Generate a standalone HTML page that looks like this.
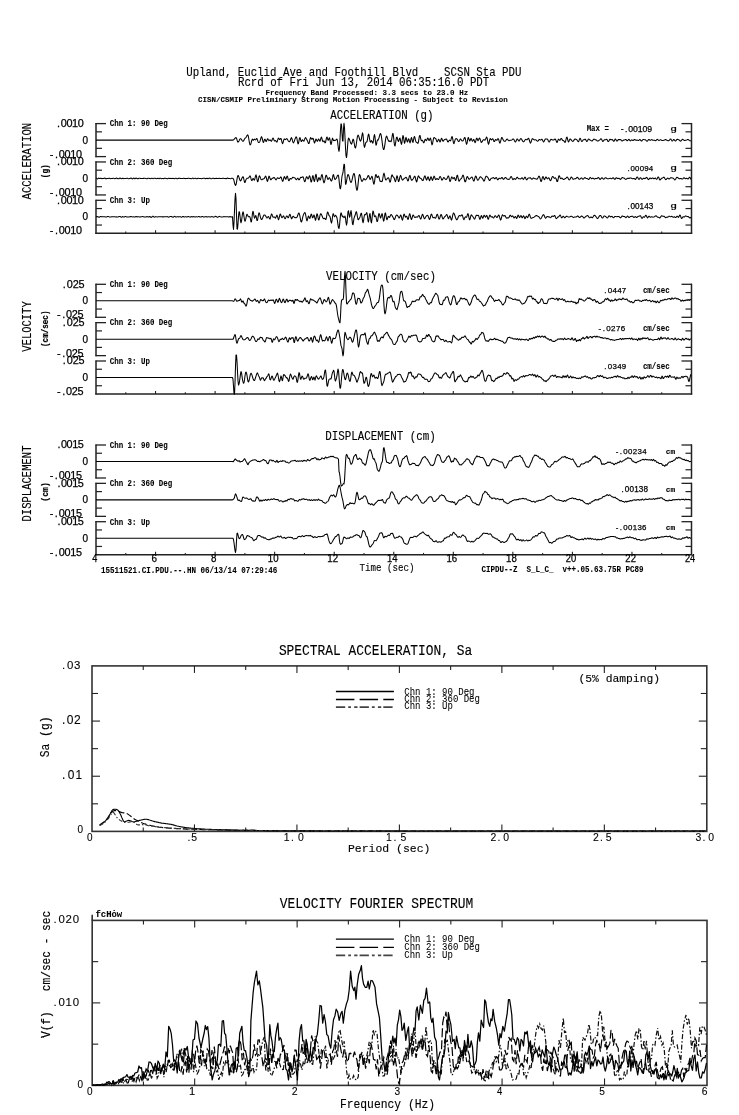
<!DOCTYPE html>
<html><head><meta charset="utf-8"><title>PDU Strong Motion Record</title>
<style>html,body{margin:0;padding:0;background:#fff;overflow:hidden;} svg{display:block;}</style></head>
<body><svg width="739" height="1115" viewBox="0 0 739 1115">
<rect width="739" height="1115" fill="#fff"/>
<text x="186.25" y="76.20" font-family='"Liberation Mono", "DejaVu Sans Mono", monospace' font-weight="normal" font-size="11.97" textLength="335.19" lengthAdjust="spacingAndGlyphs" fill="#000" stroke="#000" stroke-width="0.12" xml:space="preserve">Upland, Euclid Ave and Foothill Blvd    SCSN Sta PDU</text>
<text x="237.94" y="85.70" font-family='"Liberation Mono", "DejaVu Sans Mono", monospace' font-weight="normal" font-size="11.97" textLength="251.31" lengthAdjust="spacingAndGlyphs" fill="#000" stroke="#000" stroke-width="0.12" xml:space="preserve">Rcrd of Fri Jun 13, 2014 06:35:16.0 PDT</text>
<text x="265.50" y="94.60" font-family='"Liberation Mono", "DejaVu Sans Mono", monospace' font-weight="bold" font-size="7.42" textLength="202.65" lengthAdjust="spacingAndGlyphs" fill="#000" stroke="#000" stroke-width="0.08" xml:space="preserve">Frequency Band Processed: 3.3 secs to 23.0 Hz</text>
<text x="198.00" y="102.40" font-family='"Liberation Mono", "DejaVu Sans Mono", monospace' font-weight="bold" font-size="7.46" textLength="309.85" lengthAdjust="spacingAndGlyphs" fill="#000" stroke="#000" stroke-width="0.08" xml:space="preserve">CISN/CSMIP Preliminary Strong Motion Processing - Subject to Revision</text>
<text x="330.30" y="118.60" font-family='"Liberation Mono", "DejaVu Sans Mono", monospace' font-weight="normal" font-size="12.27" textLength="103.19" lengthAdjust="spacingAndGlyphs" fill="#000" stroke="#000" stroke-width="0.12" xml:space="preserve">ACCELERATION (g)</text>
<text transform="translate(31.10,199.50) rotate(-90)" x="0" y="0" font-family='"Liberation Mono", "DejaVu Sans Mono", monospace' font-weight="normal" font-size="13.03" textLength="76.76" lengthAdjust="spacingAndGlyphs" fill="#000" stroke="#000" stroke-width="0.12" xml:space="preserve">ACCELERATION</text>
<text transform="translate(48.00,178.17) rotate(-90)" x="0" y="0" font-family='"Liberation Mono", "DejaVu Sans Mono", monospace' font-weight="bold" font-size="9.66" textLength="13.84" lengthAdjust="spacingAndGlyphs" fill="#000" stroke="#000" stroke-width="0.2" xml:space="preserve">(g)</text>
<line x1="96.00" y1="123.00" x2="96.00" y2="157.20" stroke="#222" stroke-width="1.5" />
<line x1="95.50" y1="123.60" x2="106.00" y2="123.60" stroke="#222" stroke-width="1.3" />
<line x1="96.00" y1="131.85" x2="102.00" y2="131.85" stroke="#222" stroke-width="1.2" />
<line x1="96.00" y1="148.35" x2="102.00" y2="148.35" stroke="#222" stroke-width="1.2" />
<line x1="691.50" y1="123.00" x2="691.50" y2="157.20" stroke="#222" stroke-width="1.5" />
<line x1="692.00" y1="123.60" x2="681.50" y2="123.60" stroke="#222" stroke-width="1.3" />
<line x1="691.50" y1="131.85" x2="685.50" y2="131.85" stroke="#222" stroke-width="1.2" />
<line x1="691.50" y1="148.35" x2="685.50" y2="148.35" stroke="#222" stroke-width="1.2" />
<line x1="95.50" y1="156.60" x2="106.00" y2="156.60" stroke="#222" stroke-width="1.3" />
<line x1="692.00" y1="156.60" x2="681.50" y2="156.60" stroke="#222" stroke-width="1.3" />
<text x="57.03 60.81 66.44 72.09 77.71" y="127.00" font-family='"Liberation Sans", "DejaVu Sans", sans-serif' font-weight="normal" font-size="10.86" fill="#000" stroke="#000" stroke-width="0.25">.0010</text>
<text x="82.40" y="143.50" font-family='"Liberation Sans", "DejaVu Sans", sans-serif' font-weight="normal" font-size="10.43" textLength="5.56" lengthAdjust="spacingAndGlyphs" fill="#000" stroke="#000" stroke-width="0.25" xml:space="preserve">0</text>
<text x="49.86 55.00 58.83 64.51 70.22 75.89" y="157.60" font-family='"Liberation Sans", "DejaVu Sans", sans-serif' font-weight="normal" font-size="10.86" fill="#000" stroke="#000" stroke-width="0.25">-.0010</text>
<text x="109.70" y="126.40" font-family='"Liberation Mono", "DejaVu Sans Mono", monospace' font-weight="bold" font-size="8.96" textLength="58.11" lengthAdjust="spacingAndGlyphs" fill="#000" stroke="#000" stroke-width="0.08" xml:space="preserve">Chn 1: 90 Deg</text>
<line x1="96.00" y1="161.35" x2="96.00" y2="195.55" stroke="#222" stroke-width="1.5" />
<line x1="95.50" y1="161.95" x2="106.00" y2="161.95" stroke="#222" stroke-width="1.3" />
<line x1="96.00" y1="170.20" x2="102.00" y2="170.20" stroke="#222" stroke-width="1.2" />
<line x1="96.00" y1="186.70" x2="102.00" y2="186.70" stroke="#222" stroke-width="1.2" />
<line x1="691.50" y1="161.35" x2="691.50" y2="195.55" stroke="#222" stroke-width="1.5" />
<line x1="692.00" y1="161.95" x2="681.50" y2="161.95" stroke="#222" stroke-width="1.3" />
<line x1="691.50" y1="170.20" x2="685.50" y2="170.20" stroke="#222" stroke-width="1.2" />
<line x1="691.50" y1="186.70" x2="685.50" y2="186.70" stroke="#222" stroke-width="1.2" />
<line x1="95.50" y1="194.95" x2="106.00" y2="194.95" stroke="#222" stroke-width="1.3" />
<line x1="692.00" y1="194.95" x2="681.50" y2="194.95" stroke="#222" stroke-width="1.3" />
<text x="57.03 60.81 66.44 72.09 77.71" y="165.35" font-family='"Liberation Sans", "DejaVu Sans", sans-serif' font-weight="normal" font-size="10.86" fill="#000" stroke="#000" stroke-width="0.25">.0010</text>
<text x="82.40" y="181.85" font-family='"Liberation Sans", "DejaVu Sans", sans-serif' font-weight="normal" font-size="10.43" textLength="5.56" lengthAdjust="spacingAndGlyphs" fill="#000" stroke="#000" stroke-width="0.25" xml:space="preserve">0</text>
<text x="49.86 55.00 58.83 64.51 70.22 75.89" y="195.95" font-family='"Liberation Sans", "DejaVu Sans", sans-serif' font-weight="normal" font-size="10.86" fill="#000" stroke="#000" stroke-width="0.25">-.0010</text>
<text x="109.70" y="164.75" font-family='"Liberation Mono", "DejaVu Sans Mono", monospace' font-weight="bold" font-size="8.96" textLength="62.58" lengthAdjust="spacingAndGlyphs" fill="#000" stroke="#000" stroke-width="0.08" xml:space="preserve">Chn 2: 360 Deg</text>
<line x1="96.00" y1="199.70" x2="96.00" y2="233.90" stroke="#222" stroke-width="1.5" />
<line x1="95.50" y1="200.30" x2="106.00" y2="200.30" stroke="#222" stroke-width="1.3" />
<line x1="96.00" y1="208.55" x2="102.00" y2="208.55" stroke="#222" stroke-width="1.2" />
<line x1="96.00" y1="225.05" x2="102.00" y2="225.05" stroke="#222" stroke-width="1.2" />
<line x1="691.50" y1="199.70" x2="691.50" y2="233.90" stroke="#222" stroke-width="1.5" />
<line x1="692.00" y1="200.30" x2="681.50" y2="200.30" stroke="#222" stroke-width="1.3" />
<line x1="691.50" y1="208.55" x2="685.50" y2="208.55" stroke="#222" stroke-width="1.2" />
<line x1="691.50" y1="225.05" x2="685.50" y2="225.05" stroke="#222" stroke-width="1.2" />
<text x="57.03 60.81 66.44 72.09 77.71" y="203.70" font-family='"Liberation Sans", "DejaVu Sans", sans-serif' font-weight="normal" font-size="10.86" fill="#000" stroke="#000" stroke-width="0.25">.0010</text>
<text x="82.40" y="220.20" font-family='"Liberation Sans", "DejaVu Sans", sans-serif' font-weight="normal" font-size="10.43" textLength="5.56" lengthAdjust="spacingAndGlyphs" fill="#000" stroke="#000" stroke-width="0.25" xml:space="preserve">0</text>
<text x="49.86 55.00 58.83 64.51 70.22 75.89" y="234.30" font-family='"Liberation Sans", "DejaVu Sans", sans-serif' font-weight="normal" font-size="10.86" fill="#000" stroke="#000" stroke-width="0.25">-.0010</text>
<text x="109.70" y="203.10" font-family='"Liberation Mono", "DejaVu Sans Mono", monospace' font-weight="bold" font-size="8.96" textLength="40.23" lengthAdjust="spacingAndGlyphs" fill="#000" stroke="#000" stroke-width="0.08" xml:space="preserve">Chn 3: Up</text>
<line x1="95.30" y1="233.30" x2="692.20" y2="233.30" stroke="#222" stroke-width="1.4" />
<line x1="125.78" y1="233.30" x2="125.78" y2="231.50" stroke="#222" stroke-width="1.1" />
<line x1="155.55" y1="233.30" x2="155.55" y2="230.30" stroke="#222" stroke-width="1.1" />
<line x1="185.32" y1="233.30" x2="185.32" y2="231.50" stroke="#222" stroke-width="1.1" />
<line x1="215.10" y1="233.30" x2="215.10" y2="230.30" stroke="#222" stroke-width="1.1" />
<line x1="244.88" y1="233.30" x2="244.88" y2="231.50" stroke="#222" stroke-width="1.1" />
<line x1="274.65" y1="233.30" x2="274.65" y2="230.30" stroke="#222" stroke-width="1.1" />
<line x1="304.43" y1="233.30" x2="304.43" y2="231.50" stroke="#222" stroke-width="1.1" />
<line x1="334.20" y1="233.30" x2="334.20" y2="230.30" stroke="#222" stroke-width="1.1" />
<line x1="363.98" y1="233.30" x2="363.98" y2="231.50" stroke="#222" stroke-width="1.1" />
<line x1="393.75" y1="233.30" x2="393.75" y2="230.30" stroke="#222" stroke-width="1.1" />
<line x1="423.52" y1="233.30" x2="423.52" y2="231.50" stroke="#222" stroke-width="1.1" />
<line x1="453.30" y1="233.30" x2="453.30" y2="230.30" stroke="#222" stroke-width="1.1" />
<line x1="483.07" y1="233.30" x2="483.07" y2="231.50" stroke="#222" stroke-width="1.1" />
<line x1="512.85" y1="233.30" x2="512.85" y2="230.30" stroke="#222" stroke-width="1.1" />
<line x1="542.62" y1="233.30" x2="542.62" y2="231.50" stroke="#222" stroke-width="1.1" />
<line x1="572.40" y1="233.30" x2="572.40" y2="230.30" stroke="#222" stroke-width="1.1" />
<line x1="602.17" y1="233.30" x2="602.17" y2="231.50" stroke="#222" stroke-width="1.1" />
<line x1="631.95" y1="233.30" x2="631.95" y2="230.30" stroke="#222" stroke-width="1.1" />
<line x1="661.73" y1="233.30" x2="661.73" y2="231.50" stroke="#222" stroke-width="1.1" />
<text x="326.05" y="279.60" font-family='"Liberation Mono", "DejaVu Sans Mono", monospace' font-weight="normal" font-size="12.27" textLength="109.84" lengthAdjust="spacingAndGlyphs" fill="#000" stroke="#000" stroke-width="0.12" xml:space="preserve">VELOCITY (cm/sec)</text>
<text transform="translate(31.10,351.65) rotate(-90)" x="0" y="0" font-family='"Liberation Mono", "DejaVu Sans Mono", monospace' font-weight="normal" font-size="13.03" textLength="50.37" lengthAdjust="spacingAndGlyphs" fill="#000" stroke="#000" stroke-width="0.12" xml:space="preserve">VELOCITY</text>
<text transform="translate(48.00,346.95) rotate(-90)" x="0" y="0" font-family='"Liberation Mono", "DejaVu Sans Mono", monospace' font-weight="bold" font-size="9.66" textLength="36.41" lengthAdjust="spacingAndGlyphs" fill="#000" stroke="#000" stroke-width="0.2" xml:space="preserve">(cm/sec)</text>
<line x1="96.00" y1="283.70" x2="96.00" y2="317.90" stroke="#222" stroke-width="1.5" />
<line x1="95.50" y1="284.30" x2="106.00" y2="284.30" stroke="#222" stroke-width="1.3" />
<line x1="96.00" y1="292.55" x2="102.00" y2="292.55" stroke="#222" stroke-width="1.2" />
<line x1="96.00" y1="309.05" x2="102.00" y2="309.05" stroke="#222" stroke-width="1.2" />
<line x1="691.50" y1="283.70" x2="691.50" y2="317.90" stroke="#222" stroke-width="1.5" />
<line x1="692.00" y1="284.30" x2="681.50" y2="284.30" stroke="#222" stroke-width="1.3" />
<line x1="691.50" y1="292.55" x2="685.50" y2="292.55" stroke="#222" stroke-width="1.2" />
<line x1="691.50" y1="309.05" x2="685.50" y2="309.05" stroke="#222" stroke-width="1.2" />
<line x1="95.50" y1="317.30" x2="106.00" y2="317.30" stroke="#222" stroke-width="1.3" />
<line x1="692.00" y1="317.30" x2="681.50" y2="317.30" stroke="#222" stroke-width="1.3" />
<text x="62.86 66.83 72.70 78.55" y="287.70" font-family='"Liberation Sans", "DejaVu Sans", sans-serif' font-weight="normal" font-size="10.86" fill="#000" stroke="#000" stroke-width="0.25">.025</text>
<text x="82.40" y="304.20" font-family='"Liberation Sans", "DejaVu Sans", sans-serif' font-weight="normal" font-size="10.43" textLength="5.56" lengthAdjust="spacingAndGlyphs" fill="#000" stroke="#000" stroke-width="0.25" xml:space="preserve">0</text>
<text x="57.07 62.25 66.11 71.87 77.60" y="318.30" font-family='"Liberation Sans", "DejaVu Sans", sans-serif' font-weight="normal" font-size="10.86" fill="#000" stroke="#000" stroke-width="0.25">-.025</text>
<text x="109.70" y="287.10" font-family='"Liberation Mono", "DejaVu Sans Mono", monospace' font-weight="bold" font-size="8.96" textLength="58.11" lengthAdjust="spacingAndGlyphs" fill="#000" stroke="#000" stroke-width="0.08" xml:space="preserve">Chn 1: 90 Deg</text>
<line x1="96.00" y1="322.05" x2="96.00" y2="356.25" stroke="#222" stroke-width="1.5" />
<line x1="95.50" y1="322.65" x2="106.00" y2="322.65" stroke="#222" stroke-width="1.3" />
<line x1="96.00" y1="330.90" x2="102.00" y2="330.90" stroke="#222" stroke-width="1.2" />
<line x1="96.00" y1="347.40" x2="102.00" y2="347.40" stroke="#222" stroke-width="1.2" />
<line x1="691.50" y1="322.05" x2="691.50" y2="356.25" stroke="#222" stroke-width="1.5" />
<line x1="692.00" y1="322.65" x2="681.50" y2="322.65" stroke="#222" stroke-width="1.3" />
<line x1="691.50" y1="330.90" x2="685.50" y2="330.90" stroke="#222" stroke-width="1.2" />
<line x1="691.50" y1="347.40" x2="685.50" y2="347.40" stroke="#222" stroke-width="1.2" />
<line x1="95.50" y1="355.65" x2="106.00" y2="355.65" stroke="#222" stroke-width="1.3" />
<line x1="692.00" y1="355.65" x2="681.50" y2="355.65" stroke="#222" stroke-width="1.3" />
<text x="62.86 66.83 72.70 78.55" y="326.05" font-family='"Liberation Sans", "DejaVu Sans", sans-serif' font-weight="normal" font-size="10.86" fill="#000" stroke="#000" stroke-width="0.25">.025</text>
<text x="82.40" y="342.55" font-family='"Liberation Sans", "DejaVu Sans", sans-serif' font-weight="normal" font-size="10.43" textLength="5.56" lengthAdjust="spacingAndGlyphs" fill="#000" stroke="#000" stroke-width="0.25" xml:space="preserve">0</text>
<text x="57.07 62.25 66.11 71.87 77.60" y="356.65" font-family='"Liberation Sans", "DejaVu Sans", sans-serif' font-weight="normal" font-size="10.86" fill="#000" stroke="#000" stroke-width="0.25">-.025</text>
<text x="109.70" y="325.45" font-family='"Liberation Mono", "DejaVu Sans Mono", monospace' font-weight="bold" font-size="8.96" textLength="62.58" lengthAdjust="spacingAndGlyphs" fill="#000" stroke="#000" stroke-width="0.08" xml:space="preserve">Chn 2: 360 Deg</text>
<line x1="96.00" y1="360.40" x2="96.00" y2="394.60" stroke="#222" stroke-width="1.5" />
<line x1="95.50" y1="361.00" x2="106.00" y2="361.00" stroke="#222" stroke-width="1.3" />
<line x1="96.00" y1="369.25" x2="102.00" y2="369.25" stroke="#222" stroke-width="1.2" />
<line x1="96.00" y1="385.75" x2="102.00" y2="385.75" stroke="#222" stroke-width="1.2" />
<line x1="691.50" y1="360.40" x2="691.50" y2="394.60" stroke="#222" stroke-width="1.5" />
<line x1="692.00" y1="361.00" x2="681.50" y2="361.00" stroke="#222" stroke-width="1.3" />
<line x1="691.50" y1="369.25" x2="685.50" y2="369.25" stroke="#222" stroke-width="1.2" />
<line x1="691.50" y1="385.75" x2="685.50" y2="385.75" stroke="#222" stroke-width="1.2" />
<text x="62.86 66.83 72.70 78.55" y="364.40" font-family='"Liberation Sans", "DejaVu Sans", sans-serif' font-weight="normal" font-size="10.86" fill="#000" stroke="#000" stroke-width="0.25">.025</text>
<text x="82.40" y="380.90" font-family='"Liberation Sans", "DejaVu Sans", sans-serif' font-weight="normal" font-size="10.43" textLength="5.56" lengthAdjust="spacingAndGlyphs" fill="#000" stroke="#000" stroke-width="0.25" xml:space="preserve">0</text>
<text x="57.07 62.25 66.11 71.87 77.60" y="395.00" font-family='"Liberation Sans", "DejaVu Sans", sans-serif' font-weight="normal" font-size="10.86" fill="#000" stroke="#000" stroke-width="0.25">-.025</text>
<text x="109.70" y="363.80" font-family='"Liberation Mono", "DejaVu Sans Mono", monospace' font-weight="bold" font-size="8.96" textLength="40.23" lengthAdjust="spacingAndGlyphs" fill="#000" stroke="#000" stroke-width="0.08" xml:space="preserve">Chn 3: Up</text>
<line x1="95.30" y1="394.00" x2="692.20" y2="394.00" stroke="#222" stroke-width="1.4" />
<line x1="125.78" y1="394.00" x2="125.78" y2="392.20" stroke="#222" stroke-width="1.1" />
<line x1="155.55" y1="394.00" x2="155.55" y2="391.00" stroke="#222" stroke-width="1.1" />
<line x1="185.32" y1="394.00" x2="185.32" y2="392.20" stroke="#222" stroke-width="1.1" />
<line x1="215.10" y1="394.00" x2="215.10" y2="391.00" stroke="#222" stroke-width="1.1" />
<line x1="244.88" y1="394.00" x2="244.88" y2="392.20" stroke="#222" stroke-width="1.1" />
<line x1="274.65" y1="394.00" x2="274.65" y2="391.00" stroke="#222" stroke-width="1.1" />
<line x1="304.43" y1="394.00" x2="304.43" y2="392.20" stroke="#222" stroke-width="1.1" />
<line x1="334.20" y1="394.00" x2="334.20" y2="391.00" stroke="#222" stroke-width="1.1" />
<line x1="363.98" y1="394.00" x2="363.98" y2="392.20" stroke="#222" stroke-width="1.1" />
<line x1="393.75" y1="394.00" x2="393.75" y2="391.00" stroke="#222" stroke-width="1.1" />
<line x1="423.52" y1="394.00" x2="423.52" y2="392.20" stroke="#222" stroke-width="1.1" />
<line x1="453.30" y1="394.00" x2="453.30" y2="391.00" stroke="#222" stroke-width="1.1" />
<line x1="483.07" y1="394.00" x2="483.07" y2="392.20" stroke="#222" stroke-width="1.1" />
<line x1="512.85" y1="394.00" x2="512.85" y2="391.00" stroke="#222" stroke-width="1.1" />
<line x1="542.62" y1="394.00" x2="542.62" y2="392.20" stroke="#222" stroke-width="1.1" />
<line x1="572.40" y1="394.00" x2="572.40" y2="391.00" stroke="#222" stroke-width="1.1" />
<line x1="602.17" y1="394.00" x2="602.17" y2="392.20" stroke="#222" stroke-width="1.1" />
<line x1="631.95" y1="394.00" x2="631.95" y2="391.00" stroke="#222" stroke-width="1.1" />
<line x1="661.73" y1="394.00" x2="661.73" y2="392.20" stroke="#222" stroke-width="1.1" />
<text x="325.23" y="440.20" font-family='"Liberation Mono", "DejaVu Sans Mono", monospace' font-weight="normal" font-size="12.27" textLength="110.67" lengthAdjust="spacingAndGlyphs" fill="#000" stroke="#000" stroke-width="0.12" xml:space="preserve">DISPLACEMENT (cm)</text>
<text transform="translate(31.10,521.54) rotate(-90)" x="0" y="0" font-family='"Liberation Mono", "DejaVu Sans Mono", monospace' font-weight="normal" font-size="13.03" textLength="76.02" lengthAdjust="spacingAndGlyphs" fill="#000" stroke="#000" stroke-width="0.12" xml:space="preserve">DISPLACEMENT</text>
<text transform="translate(48.00,501.63) rotate(-90)" x="0" y="0" font-family='"Liberation Mono", "DejaVu Sans Mono", monospace' font-weight="bold" font-size="9.66" textLength="19.36" lengthAdjust="spacingAndGlyphs" fill="#000" stroke="#000" stroke-width="0.2" xml:space="preserve">(cm)</text>
<line x1="96.00" y1="444.40" x2="96.00" y2="478.60" stroke="#222" stroke-width="1.5" />
<line x1="95.50" y1="445.00" x2="106.00" y2="445.00" stroke="#222" stroke-width="1.3" />
<line x1="96.00" y1="453.25" x2="102.00" y2="453.25" stroke="#222" stroke-width="1.2" />
<line x1="96.00" y1="469.75" x2="102.00" y2="469.75" stroke="#222" stroke-width="1.2" />
<line x1="691.50" y1="444.40" x2="691.50" y2="478.60" stroke="#222" stroke-width="1.5" />
<line x1="692.00" y1="445.00" x2="681.50" y2="445.00" stroke="#222" stroke-width="1.3" />
<line x1="691.50" y1="453.25" x2="685.50" y2="453.25" stroke="#222" stroke-width="1.2" />
<line x1="691.50" y1="469.75" x2="685.50" y2="469.75" stroke="#222" stroke-width="1.2" />
<line x1="95.50" y1="478.00" x2="106.00" y2="478.00" stroke="#222" stroke-width="1.3" />
<line x1="692.00" y1="478.00" x2="681.50" y2="478.00" stroke="#222" stroke-width="1.3" />
<text x="57.42 61.09 66.61 72.15 77.69" y="448.40" font-family='"Liberation Sans", "DejaVu Sans", sans-serif' font-weight="normal" font-size="10.86" fill="#000" stroke="#000" stroke-width="0.25">.0015</text>
<text x="82.40" y="464.90" font-family='"Liberation Sans", "DejaVu Sans", sans-serif' font-weight="normal" font-size="10.43" textLength="5.56" lengthAdjust="spacingAndGlyphs" fill="#000" stroke="#000" stroke-width="0.25" xml:space="preserve">0</text>
<text x="49.67 54.84 58.70 64.43 70.17 75.90" y="479.00" font-family='"Liberation Sans", "DejaVu Sans", sans-serif' font-weight="normal" font-size="10.86" fill="#000" stroke="#000" stroke-width="0.25">-.0015</text>
<text x="109.70" y="447.80" font-family='"Liberation Mono", "DejaVu Sans Mono", monospace' font-weight="bold" font-size="8.96" textLength="58.11" lengthAdjust="spacingAndGlyphs" fill="#000" stroke="#000" stroke-width="0.08" xml:space="preserve">Chn 1: 90 Deg</text>
<line x1="96.00" y1="482.75" x2="96.00" y2="516.95" stroke="#222" stroke-width="1.5" />
<line x1="95.50" y1="483.35" x2="106.00" y2="483.35" stroke="#222" stroke-width="1.3" />
<line x1="96.00" y1="491.60" x2="102.00" y2="491.60" stroke="#222" stroke-width="1.2" />
<line x1="96.00" y1="508.10" x2="102.00" y2="508.10" stroke="#222" stroke-width="1.2" />
<line x1="691.50" y1="482.75" x2="691.50" y2="516.95" stroke="#222" stroke-width="1.5" />
<line x1="692.00" y1="483.35" x2="681.50" y2="483.35" stroke="#222" stroke-width="1.3" />
<line x1="691.50" y1="491.60" x2="685.50" y2="491.60" stroke="#222" stroke-width="1.2" />
<line x1="691.50" y1="508.10" x2="685.50" y2="508.10" stroke="#222" stroke-width="1.2" />
<line x1="95.50" y1="516.35" x2="106.00" y2="516.35" stroke="#222" stroke-width="1.3" />
<line x1="692.00" y1="516.35" x2="681.50" y2="516.35" stroke="#222" stroke-width="1.3" />
<text x="57.42 61.09 66.61 72.15 77.69" y="486.75" font-family='"Liberation Sans", "DejaVu Sans", sans-serif' font-weight="normal" font-size="10.86" fill="#000" stroke="#000" stroke-width="0.25">.0015</text>
<text x="82.40" y="503.25" font-family='"Liberation Sans", "DejaVu Sans", sans-serif' font-weight="normal" font-size="10.43" textLength="5.56" lengthAdjust="spacingAndGlyphs" fill="#000" stroke="#000" stroke-width="0.25" xml:space="preserve">0</text>
<text x="49.67 54.84 58.70 64.43 70.17 75.90" y="517.35" font-family='"Liberation Sans", "DejaVu Sans", sans-serif' font-weight="normal" font-size="10.86" fill="#000" stroke="#000" stroke-width="0.25">-.0015</text>
<text x="109.70" y="486.15" font-family='"Liberation Mono", "DejaVu Sans Mono", monospace' font-weight="bold" font-size="8.96" textLength="62.58" lengthAdjust="spacingAndGlyphs" fill="#000" stroke="#000" stroke-width="0.08" xml:space="preserve">Chn 2: 360 Deg</text>
<line x1="96.00" y1="521.10" x2="96.00" y2="555.30" stroke="#222" stroke-width="1.5" />
<line x1="95.50" y1="521.70" x2="106.00" y2="521.70" stroke="#222" stroke-width="1.3" />
<line x1="96.00" y1="529.95" x2="102.00" y2="529.95" stroke="#222" stroke-width="1.2" />
<line x1="96.00" y1="546.45" x2="102.00" y2="546.45" stroke="#222" stroke-width="1.2" />
<line x1="691.50" y1="521.10" x2="691.50" y2="555.30" stroke="#222" stroke-width="1.5" />
<line x1="692.00" y1="521.70" x2="681.50" y2="521.70" stroke="#222" stroke-width="1.3" />
<line x1="691.50" y1="529.95" x2="685.50" y2="529.95" stroke="#222" stroke-width="1.2" />
<line x1="691.50" y1="546.45" x2="685.50" y2="546.45" stroke="#222" stroke-width="1.2" />
<text x="57.42 61.09 66.61 72.15 77.69" y="525.10" font-family='"Liberation Sans", "DejaVu Sans", sans-serif' font-weight="normal" font-size="10.86" fill="#000" stroke="#000" stroke-width="0.25">.0015</text>
<text x="82.40" y="541.60" font-family='"Liberation Sans", "DejaVu Sans", sans-serif' font-weight="normal" font-size="10.43" textLength="5.56" lengthAdjust="spacingAndGlyphs" fill="#000" stroke="#000" stroke-width="0.25" xml:space="preserve">0</text>
<text x="49.67 54.84 58.70 64.43 70.17 75.90" y="555.70" font-family='"Liberation Sans", "DejaVu Sans", sans-serif' font-weight="normal" font-size="10.86" fill="#000" stroke="#000" stroke-width="0.25">-.0015</text>
<text x="109.70" y="524.50" font-family='"Liberation Mono", "DejaVu Sans Mono", monospace' font-weight="bold" font-size="8.96" textLength="40.23" lengthAdjust="spacingAndGlyphs" fill="#000" stroke="#000" stroke-width="0.08" xml:space="preserve">Chn 3: Up</text>
<line x1="95.30" y1="554.70" x2="692.20" y2="554.70" stroke="#222" stroke-width="1.4" />
<line x1="125.78" y1="554.70" x2="125.78" y2="552.90" stroke="#222" stroke-width="1.1" />
<line x1="155.55" y1="554.70" x2="155.55" y2="551.70" stroke="#222" stroke-width="1.1" />
<line x1="185.32" y1="554.70" x2="185.32" y2="552.90" stroke="#222" stroke-width="1.1" />
<line x1="215.10" y1="554.70" x2="215.10" y2="551.70" stroke="#222" stroke-width="1.1" />
<line x1="244.88" y1="554.70" x2="244.88" y2="552.90" stroke="#222" stroke-width="1.1" />
<line x1="274.65" y1="554.70" x2="274.65" y2="551.70" stroke="#222" stroke-width="1.1" />
<line x1="304.43" y1="554.70" x2="304.43" y2="552.90" stroke="#222" stroke-width="1.1" />
<line x1="334.20" y1="554.70" x2="334.20" y2="551.70" stroke="#222" stroke-width="1.1" />
<line x1="363.98" y1="554.70" x2="363.98" y2="552.90" stroke="#222" stroke-width="1.1" />
<line x1="393.75" y1="554.70" x2="393.75" y2="551.70" stroke="#222" stroke-width="1.1" />
<line x1="423.52" y1="554.70" x2="423.52" y2="552.90" stroke="#222" stroke-width="1.1" />
<line x1="453.30" y1="554.70" x2="453.30" y2="551.70" stroke="#222" stroke-width="1.1" />
<line x1="483.07" y1="554.70" x2="483.07" y2="552.90" stroke="#222" stroke-width="1.1" />
<line x1="512.85" y1="554.70" x2="512.85" y2="551.70" stroke="#222" stroke-width="1.1" />
<line x1="542.62" y1="554.70" x2="542.62" y2="552.90" stroke="#222" stroke-width="1.1" />
<line x1="572.40" y1="554.70" x2="572.40" y2="551.70" stroke="#222" stroke-width="1.1" />
<line x1="602.17" y1="554.70" x2="602.17" y2="552.90" stroke="#222" stroke-width="1.1" />
<line x1="631.95" y1="554.70" x2="631.95" y2="551.70" stroke="#222" stroke-width="1.1" />
<line x1="661.73" y1="554.70" x2="661.73" y2="552.90" stroke="#222" stroke-width="1.1" />
<text x="586.63" y="131.30" font-family='"Liberation Mono", "DejaVu Sans Mono", monospace' font-weight="bold" font-size="8.94" textLength="22.35" lengthAdjust="spacingAndGlyphs" fill="#000" stroke="#000" stroke-width="0.08" xml:space="preserve">Max =</text>
<text x="620.79 625.07 628.31 633.05 637.81 642.54 647.31" y="131.50" font-family='"Liberation Sans", "DejaVu Sans", sans-serif' font-weight="normal" font-size="8.71" fill="#000" stroke="#000" stroke-width="0.25">-.00109</text>
<text x="627.42 630.58 635.12 639.65 644.20 648.77" y="170.60" font-family='"Liberation Sans", "DejaVu Sans", sans-serif' font-weight="normal" font-size="7.86" fill="#000" stroke="#000" stroke-width="0.25">.00094</text>
<text x="627.38 630.50 635.04 639.59 644.16 648.65" y="208.60" font-family='"Liberation Sans", "DejaVu Sans", sans-serif' font-weight="normal" font-size="8.14" fill="#000" stroke="#000" stroke-width="0.25">.00143</text>
<text x="604.32 607.64 612.42 617.14 621.81" y="292.70" font-family='"Liberation Sans", "DejaVu Sans", sans-serif' font-weight="normal" font-size="8.00" fill="#000" stroke="#000" stroke-width="0.25">.0447</text>
<text x="598.53 602.86 606.28 611.12 615.95 620.73" y="331.00" font-family='"Liberation Sans", "DejaVu Sans", sans-serif' font-weight="normal" font-size="8.00" fill="#000" stroke="#000" stroke-width="0.25">-.0276</text>
<text x="604.34 607.68 612.42 617.18 621.85" y="369.30" font-family='"Liberation Sans", "DejaVu Sans", sans-serif' font-weight="normal" font-size="7.86" fill="#000" stroke="#000" stroke-width="0.25">.0349</text>
<text x="615.63 619.87 623.21 627.94 632.69 637.42 642.19" y="453.70" font-family='"Liberation Sans", "DejaVu Sans", sans-serif' font-weight="normal" font-size="7.86" fill="#000" stroke="#000" stroke-width="0.25">-.00234</text>
<text x="621.40 624.70 629.41 634.15 638.86 643.56" y="491.80" font-family='"Liberation Sans", "DejaVu Sans", sans-serif' font-weight="normal" font-size="8.14" fill="#000" stroke="#000" stroke-width="0.25">.00138</text>
<text x="615.63 619.87 623.21 627.94 632.70 637.42 642.11" y="530.00" font-family='"Liberation Sans", "DejaVu Sans", sans-serif' font-weight="normal" font-size="7.86" fill="#000" stroke="#000" stroke-width="0.25">-.00136</text>
<text x="670.21" y="131.30" font-family='"Liberation Mono", "DejaVu Sans Mono", monospace' font-weight="normal" font-size="7.55" textLength="6.74" lengthAdjust="spacingAndGlyphs" fill="#000" stroke="#000" stroke-width="0.2" xml:space="preserve">g</text>
<text x="670.21" y="170.40" font-family='"Liberation Mono", "DejaVu Sans Mono", monospace' font-weight="normal" font-size="7.55" textLength="6.74" lengthAdjust="spacingAndGlyphs" fill="#000" stroke="#000" stroke-width="0.2" xml:space="preserve">g</text>
<text x="670.21" y="208.40" font-family='"Liberation Mono", "DejaVu Sans Mono", monospace' font-weight="normal" font-size="7.55" textLength="6.74" lengthAdjust="spacingAndGlyphs" fill="#000" stroke="#000" stroke-width="0.2" xml:space="preserve">g</text>
<text x="642.89" y="292.60" font-family='"Liberation Mono", "DejaVu Sans Mono", monospace' font-weight="bold" font-size="8.14" textLength="26.82" lengthAdjust="spacingAndGlyphs" fill="#000" stroke="#000" stroke-width="0.08" xml:space="preserve">cm/sec</text>
<text x="642.89" y="330.90" font-family='"Liberation Mono", "DejaVu Sans Mono", monospace' font-weight="bold" font-size="8.14" textLength="26.82" lengthAdjust="spacingAndGlyphs" fill="#000" stroke="#000" stroke-width="0.08" xml:space="preserve">cm/sec</text>
<text x="642.89" y="369.20" font-family='"Liberation Mono", "DejaVu Sans Mono", monospace' font-weight="bold" font-size="8.14" textLength="26.82" lengthAdjust="spacingAndGlyphs" fill="#000" stroke="#000" stroke-width="0.08" xml:space="preserve">cm/sec</text>
<text x="665.77" y="453.70" font-family='"Liberation Mono", "DejaVu Sans Mono", monospace' font-weight="bold" font-size="7.55" textLength="9.30" lengthAdjust="spacingAndGlyphs" fill="#000" stroke="#000" stroke-width="0.08" xml:space="preserve">cm</text>
<text x="665.77" y="491.80" font-family='"Liberation Mono", "DejaVu Sans Mono", monospace' font-weight="bold" font-size="7.55" textLength="9.30" lengthAdjust="spacingAndGlyphs" fill="#000" stroke="#000" stroke-width="0.08" xml:space="preserve">cm</text>
<text x="665.77" y="530.00" font-family='"Liberation Mono", "DejaVu Sans Mono", monospace' font-weight="bold" font-size="7.55" textLength="9.30" lengthAdjust="spacingAndGlyphs" fill="#000" stroke="#000" stroke-width="0.08" xml:space="preserve">cm</text>
<text x="92.22" y="562.40" font-family='"Liberation Sans", "DejaVu Sans", sans-serif' font-weight="normal" font-size="10.00" textLength="5.07" lengthAdjust="spacingAndGlyphs" fill="#000" stroke="#000" stroke-width="0.25" xml:space="preserve">4</text>
<text x="151.46" y="562.40" font-family='"Liberation Sans", "DejaVu Sans", sans-serif' font-weight="normal" font-size="10.00" textLength="5.50" lengthAdjust="spacingAndGlyphs" fill="#000" stroke="#000" stroke-width="0.25" xml:space="preserve">6</text>
<text x="211.06" y="562.40" font-family='"Liberation Sans", "DejaVu Sans", sans-serif' font-weight="normal" font-size="10.00" textLength="5.44" lengthAdjust="spacingAndGlyphs" fill="#000" stroke="#000" stroke-width="0.25" xml:space="preserve">8</text>
<text x="267.83" y="562.40" font-family='"Liberation Sans", "DejaVu Sans", sans-serif' font-weight="normal" font-size="10.00" textLength="10.68" lengthAdjust="spacingAndGlyphs" fill="#000" stroke="#000" stroke-width="0.25" xml:space="preserve">10</text>
<text x="327.37" y="562.40" font-family='"Liberation Sans", "DejaVu Sans", sans-serif' font-weight="normal" font-size="10.00" textLength="10.84" lengthAdjust="spacingAndGlyphs" fill="#000" stroke="#000" stroke-width="0.25" xml:space="preserve">12</text>
<text x="386.93" y="562.40" font-family='"Liberation Sans", "DejaVu Sans", sans-serif' font-weight="normal" font-size="10.00" textLength="10.63" lengthAdjust="spacingAndGlyphs" fill="#000" stroke="#000" stroke-width="0.25" xml:space="preserve">14</text>
<text x="446.48" y="562.40" font-family='"Liberation Sans", "DejaVu Sans", sans-serif' font-weight="normal" font-size="10.00" textLength="10.73" lengthAdjust="spacingAndGlyphs" fill="#000" stroke="#000" stroke-width="0.25" xml:space="preserve">16</text>
<text x="506.03" y="562.40" font-family='"Liberation Sans", "DejaVu Sans", sans-serif' font-weight="normal" font-size="10.00" textLength="10.73" lengthAdjust="spacingAndGlyphs" fill="#000" stroke="#000" stroke-width="0.25" xml:space="preserve">18</text>
<text x="565.83" y="562.40" font-family='"Liberation Sans", "DejaVu Sans", sans-serif' font-weight="normal" font-size="10.00" textLength="10.42" lengthAdjust="spacingAndGlyphs" fill="#000" stroke="#000" stroke-width="0.25" xml:space="preserve">20</text>
<text x="625.37" y="562.40" font-family='"Liberation Sans", "DejaVu Sans", sans-serif' font-weight="normal" font-size="10.00" textLength="10.57" lengthAdjust="spacingAndGlyphs" fill="#000" stroke="#000" stroke-width="0.25" xml:space="preserve">22</text>
<text x="684.93" y="562.40" font-family='"Liberation Sans", "DejaVu Sans", sans-serif' font-weight="normal" font-size="10.00" textLength="10.37" lengthAdjust="spacingAndGlyphs" fill="#000" stroke="#000" stroke-width="0.25" xml:space="preserve">24</text>
<text x="359.58" y="571.00" font-family='"Liberation Mono", "DejaVu Sans Mono", monospace' font-weight="normal" font-size="11.21" textLength="54.83" lengthAdjust="spacingAndGlyphs" fill="#000" stroke="#000" stroke-width="0.12" xml:space="preserve">Time (sec)</text>
<text x="100.91" y="572.60" font-family='"Liberation Mono", "DejaVu Sans Mono", monospace' font-weight="bold" font-size="8.94" textLength="176.49" lengthAdjust="spacingAndGlyphs" fill="#000" stroke="#000" stroke-width="0.08" xml:space="preserve">15511521.CI.PDU.--.HN 06/13/14 07:29:46</text>
<text x="481.50" y="572.40" font-family='"Liberation Mono", "DejaVu Sans Mono", monospace' font-weight="bold" font-size="8.66" textLength="161.93" lengthAdjust="spacingAndGlyphs" fill="#000" stroke="#000" stroke-width="0.08" xml:space="preserve">CIPDU--Z  S_L_C_  v++.05.63.75R PC89</text>
<text x="278.88" y="655.10" font-family='"Liberation Mono", "DejaVu Sans Mono", monospace' font-weight="normal" font-size="14.24" textLength="193.39" lengthAdjust="spacingAndGlyphs" fill="#000" stroke="#000" stroke-width="0.12" xml:space="preserve">SPECTRAL ACCELERATION, Sa</text>
<rect x="92.0" y="665.9" width="614.80" height="165.50" fill="none" stroke="#333" stroke-width="1.6"/>
<line x1="143.23" y1="665.90" x2="143.23" y2="669.90" stroke="#222" stroke-width="1.1" />
<line x1="143.23" y1="831.40" x2="143.23" y2="827.40" stroke="#222" stroke-width="1.1" />
<line x1="194.47" y1="665.90" x2="194.47" y2="672.90" stroke="#222" stroke-width="1.1" />
<line x1="194.47" y1="831.40" x2="194.47" y2="824.40" stroke="#222" stroke-width="1.1" />
<line x1="245.70" y1="665.90" x2="245.70" y2="669.90" stroke="#222" stroke-width="1.1" />
<line x1="245.70" y1="831.40" x2="245.70" y2="827.40" stroke="#222" stroke-width="1.1" />
<line x1="296.93" y1="665.90" x2="296.93" y2="672.90" stroke="#222" stroke-width="1.1" />
<line x1="296.93" y1="831.40" x2="296.93" y2="824.40" stroke="#222" stroke-width="1.1" />
<line x1="348.17" y1="665.90" x2="348.17" y2="669.90" stroke="#222" stroke-width="1.1" />
<line x1="348.17" y1="831.40" x2="348.17" y2="827.40" stroke="#222" stroke-width="1.1" />
<line x1="399.40" y1="665.90" x2="399.40" y2="672.90" stroke="#222" stroke-width="1.1" />
<line x1="399.40" y1="831.40" x2="399.40" y2="824.40" stroke="#222" stroke-width="1.1" />
<line x1="450.63" y1="665.90" x2="450.63" y2="669.90" stroke="#222" stroke-width="1.1" />
<line x1="450.63" y1="831.40" x2="450.63" y2="827.40" stroke="#222" stroke-width="1.1" />
<line x1="501.87" y1="665.90" x2="501.87" y2="672.90" stroke="#222" stroke-width="1.1" />
<line x1="501.87" y1="831.40" x2="501.87" y2="824.40" stroke="#222" stroke-width="1.1" />
<line x1="553.10" y1="665.90" x2="553.10" y2="669.90" stroke="#222" stroke-width="1.1" />
<line x1="553.10" y1="831.40" x2="553.10" y2="827.40" stroke="#222" stroke-width="1.1" />
<line x1="604.33" y1="665.90" x2="604.33" y2="672.90" stroke="#222" stroke-width="1.1" />
<line x1="604.33" y1="831.40" x2="604.33" y2="824.40" stroke="#222" stroke-width="1.1" />
<line x1="655.57" y1="665.90" x2="655.57" y2="669.90" stroke="#222" stroke-width="1.1" />
<line x1="655.57" y1="831.40" x2="655.57" y2="827.40" stroke="#222" stroke-width="1.1" />
<line x1="92.00" y1="803.82" x2="98.00" y2="803.82" stroke="#222" stroke-width="1.1" />
<line x1="706.80" y1="803.82" x2="700.80" y2="803.82" stroke="#222" stroke-width="1.1" />
<line x1="92.00" y1="776.23" x2="100.00" y2="776.23" stroke="#222" stroke-width="1.1" />
<line x1="706.80" y1="776.23" x2="698.80" y2="776.23" stroke="#222" stroke-width="1.1" />
<line x1="92.00" y1="748.65" x2="98.00" y2="748.65" stroke="#222" stroke-width="1.1" />
<line x1="706.80" y1="748.65" x2="700.80" y2="748.65" stroke="#222" stroke-width="1.1" />
<line x1="92.00" y1="721.07" x2="100.00" y2="721.07" stroke="#222" stroke-width="1.1" />
<line x1="706.80" y1="721.07" x2="698.80" y2="721.07" stroke="#222" stroke-width="1.1" />
<line x1="92.00" y1="693.48" x2="98.00" y2="693.48" stroke="#222" stroke-width="1.1" />
<line x1="706.80" y1="693.48" x2="700.80" y2="693.48" stroke="#222" stroke-width="1.1" />
<text x="62.01 67.03 74.10" y="668.50" font-family='"Liberation Sans", "DejaVu Sans", sans-serif' font-weight="normal" font-size="11.43" fill="#000" stroke="#000" stroke-width="0.1">.03</text>
<text x="61.93 66.87 73.94" y="723.60" font-family='"Liberation Sans", "DejaVu Sans", sans-serif' font-weight="normal" font-size="12.00" fill="#000" stroke="#000" stroke-width="0.1">.02</text>
<text x="62.03 67.70 75.54" y="778.80" font-family='"Liberation Sans", "DejaVu Sans", sans-serif' font-weight="normal" font-size="11.86" fill="#000" stroke="#000" stroke-width="0.1">.01</text>
<text x="77.50" y="833.20" font-family='"Liberation Sans", "DejaVu Sans", sans-serif' font-weight="normal" font-size="10.86" textLength="5.56" lengthAdjust="spacingAndGlyphs" fill="#000" stroke="#000" stroke-width="0.1" xml:space="preserve">0</text>
<text x="87.00" y="841.20" font-family='"Liberation Sans", "DejaVu Sans", sans-serif' font-weight="normal" font-size="10.86" textLength="5.56" lengthAdjust="spacingAndGlyphs" fill="#000" stroke="#000" stroke-width="0.1" xml:space="preserve">0</text>
<text x="187.55 191.35" y="841.20" font-family='"Liberation Sans", "DejaVu Sans", sans-serif' font-weight="normal" font-size="10.43" fill="#000" stroke="#000" stroke-width="0.1">.5</text>
<text x="283.63 291.12 297.95" y="841.20" font-family='"Liberation Sans", "DejaVu Sans", sans-serif' font-weight="normal" font-size="10.43" fill="#000" stroke="#000" stroke-width="0.1">1.0</text>
<text x="386.09 393.59 400.44" y="841.20" font-family='"Liberation Sans", "DejaVu Sans", sans-serif' font-weight="normal" font-size="10.43" fill="#000" stroke="#000" stroke-width="0.1">1.5</text>
<text x="490.61 497.46 503.31" y="841.20" font-family='"Liberation Sans", "DejaVu Sans", sans-serif' font-weight="normal" font-size="10.43" fill="#000" stroke="#000" stroke-width="0.1">2.0</text>
<text x="593.08 599.93 605.80" y="841.20" font-family='"Liberation Sans", "DejaVu Sans", sans-serif' font-weight="normal" font-size="10.43" fill="#000" stroke="#000" stroke-width="0.1">2.5</text>
<text x="695.54 702.40 708.24" y="841.20" font-family='"Liberation Sans", "DejaVu Sans", sans-serif' font-weight="normal" font-size="10.43" fill="#000" stroke="#000" stroke-width="0.1">3.0</text>
<text x="347.98" y="851.80" font-family='"Liberation Mono", "DejaVu Sans Mono", monospace' font-weight="normal" font-size="11.52" textLength="82.41" lengthAdjust="spacingAndGlyphs" fill="#000" stroke="#000" stroke-width="0.12" xml:space="preserve">Period (sec)</text>
<text transform="translate(48.60,757.25) rotate(-90)" x="0" y="0" font-family='"Liberation Mono", "DejaVu Sans Mono", monospace' font-weight="normal" font-size="12.09" textLength="40.72" lengthAdjust="spacingAndGlyphs" fill="#000" stroke="#000" stroke-width="0.15" xml:space="preserve">Sa (g)</text>
<text x="578.43" y="682.00" font-family='"Liberation Mono", "DejaVu Sans Mono", monospace' font-weight="normal" font-size="11.36" textLength="81.65" lengthAdjust="spacingAndGlyphs" fill="#000" stroke="#000" stroke-width="0.12" xml:space="preserve">(5% damping)</text>
<line x1="335.90" y1="691.50" x2="393.90" y2="691.50" stroke="#000" stroke-width="1.3" />
<line x1="335.90" y1="699.50" x2="393.90" y2="699.50" stroke="#000" stroke-width="1.3" stroke-dasharray="18.5 5.2"/>
<line x1="335.90" y1="707.10" x2="393.90" y2="707.10" stroke="#444" stroke-width="1.6" stroke-dasharray="9.3 3 2.8 3.2 3.3 2.1"/>
<text x="404.31" y="694.50" font-family='"Liberation Mono", "DejaVu Sans Mono", monospace' font-weight="normal" font-size="10.60" textLength="70.20" lengthAdjust="spacingAndGlyphs" fill="#000" stroke="#000" stroke-width="0.05" xml:space="preserve">Chn 1: 90 Deg</text>
<text x="404.31" y="701.90" font-family='"Liberation Mono", "DejaVu Sans Mono", monospace' font-weight="normal" font-size="10.60" textLength="75.60" lengthAdjust="spacingAndGlyphs" fill="#000" stroke="#000" stroke-width="0.05" xml:space="preserve">Chn 2: 360 Deg</text>
<text x="404.31" y="709.20" font-family='"Liberation Mono", "DejaVu Sans Mono", monospace' font-weight="normal" font-size="10.60" textLength="48.60" lengthAdjust="spacingAndGlyphs" fill="#000" stroke="#000" stroke-width="0.05" xml:space="preserve">Chn 3: Up</text>
<text x="279.74" y="907.90" font-family='"Liberation Mono", "DejaVu Sans Mono", monospace' font-weight="normal" font-size="14.55" textLength="193.53" lengthAdjust="spacingAndGlyphs" fill="#000" stroke="#000" stroke-width="0.12" xml:space="preserve">VELOCITY FOURIER SPECTRUM</text>
<rect x="92.2" y="920.4" width="614.80" height="165.00" fill="none" stroke="#333" stroke-width="1.6"/>
<line x1="143.43" y1="920.40" x2="143.43" y2="924.40" stroke="#222" stroke-width="1.1" />
<line x1="143.43" y1="1085.40" x2="143.43" y2="1081.40" stroke="#222" stroke-width="1.1" />
<line x1="194.67" y1="920.40" x2="194.67" y2="927.40" stroke="#222" stroke-width="1.1" />
<line x1="194.67" y1="1085.40" x2="194.67" y2="1078.40" stroke="#222" stroke-width="1.1" />
<line x1="245.90" y1="920.40" x2="245.90" y2="924.40" stroke="#222" stroke-width="1.1" />
<line x1="245.90" y1="1085.40" x2="245.90" y2="1081.40" stroke="#222" stroke-width="1.1" />
<line x1="297.13" y1="920.40" x2="297.13" y2="927.40" stroke="#222" stroke-width="1.1" />
<line x1="297.13" y1="1085.40" x2="297.13" y2="1078.40" stroke="#222" stroke-width="1.1" />
<line x1="348.37" y1="920.40" x2="348.37" y2="924.40" stroke="#222" stroke-width="1.1" />
<line x1="348.37" y1="1085.40" x2="348.37" y2="1081.40" stroke="#222" stroke-width="1.1" />
<line x1="399.60" y1="920.40" x2="399.60" y2="927.40" stroke="#222" stroke-width="1.1" />
<line x1="399.60" y1="1085.40" x2="399.60" y2="1078.40" stroke="#222" stroke-width="1.1" />
<line x1="450.83" y1="920.40" x2="450.83" y2="924.40" stroke="#222" stroke-width="1.1" />
<line x1="450.83" y1="1085.40" x2="450.83" y2="1081.40" stroke="#222" stroke-width="1.1" />
<line x1="502.07" y1="920.40" x2="502.07" y2="927.40" stroke="#222" stroke-width="1.1" />
<line x1="502.07" y1="1085.40" x2="502.07" y2="1078.40" stroke="#222" stroke-width="1.1" />
<line x1="553.30" y1="920.40" x2="553.30" y2="924.40" stroke="#222" stroke-width="1.1" />
<line x1="553.30" y1="1085.40" x2="553.30" y2="1081.40" stroke="#222" stroke-width="1.1" />
<line x1="604.53" y1="920.40" x2="604.53" y2="927.40" stroke="#222" stroke-width="1.1" />
<line x1="604.53" y1="1085.40" x2="604.53" y2="1078.40" stroke="#222" stroke-width="1.1" />
<line x1="655.77" y1="920.40" x2="655.77" y2="924.40" stroke="#222" stroke-width="1.1" />
<line x1="655.77" y1="1085.40" x2="655.77" y2="1081.40" stroke="#222" stroke-width="1.1" />
<line x1="92.20" y1="1044.15" x2="98.20" y2="1044.15" stroke="#222" stroke-width="1.1" />
<line x1="707.00" y1="1044.15" x2="701.00" y2="1044.15" stroke="#222" stroke-width="1.1" />
<line x1="92.20" y1="1002.90" x2="100.20" y2="1002.90" stroke="#222" stroke-width="1.1" />
<line x1="707.00" y1="1002.90" x2="699.00" y2="1002.90" stroke="#222" stroke-width="1.1" />
<line x1="92.20" y1="961.65" x2="98.20" y2="961.65" stroke="#222" stroke-width="1.1" />
<line x1="707.00" y1="961.65" x2="701.00" y2="961.65" stroke="#222" stroke-width="1.1" />
<line x1="92.20" y1="914.80" x2="92.20" y2="920.40" stroke="#333" stroke-width="1.6" />
<text x="95.41" y="916.50" font-family='"Liberation Mono", "DejaVu Sans Mono", monospace' font-weight="bold" font-size="9.55" textLength="26.84" lengthAdjust="spacingAndGlyphs" fill="#000" stroke="#000" stroke-width="0.08" xml:space="preserve">fcHȯw</text>
<text x="53.42 58.48 65.59 72.65" y="922.70" font-family='"Liberation Sans", "DejaVu Sans", sans-serif' font-weight="normal" font-size="11.43" fill="#000" stroke="#000" stroke-width="0.1">.020</text>
<text x="53.42 58.48 65.61 72.65" y="1006.30" font-family='"Liberation Sans", "DejaVu Sans", sans-serif' font-weight="normal" font-size="11.43" fill="#000" stroke="#000" stroke-width="0.1">.010</text>
<text x="77.40" y="1087.80" font-family='"Liberation Sans", "DejaVu Sans", sans-serif' font-weight="normal" font-size="10.86" textLength="5.56" lengthAdjust="spacingAndGlyphs" fill="#000" stroke="#000" stroke-width="0.1" xml:space="preserve">0</text>
<text x="87.00" y="1095.40" font-family='"Liberation Sans", "DejaVu Sans", sans-serif' font-weight="normal" font-size="11.14" textLength="5.56" lengthAdjust="spacingAndGlyphs" fill="#000" stroke="#000" stroke-width="0.1" xml:space="preserve">0</text>
<text x="189.04" y="1095.40" font-family='"Liberation Sans", "DejaVu Sans", sans-serif' font-weight="normal" font-size="11.14" textLength="6.14" lengthAdjust="spacingAndGlyphs" fill="#000" stroke="#000" stroke-width="0.1" xml:space="preserve">1</text>
<text x="291.81" y="1095.40" font-family='"Liberation Sans", "DejaVu Sans", sans-serif' font-weight="normal" font-size="11.14" textLength="5.87" lengthAdjust="spacingAndGlyphs" fill="#000" stroke="#000" stroke-width="0.1" xml:space="preserve">2</text>
<text x="394.40" y="1095.40" font-family='"Liberation Sans", "DejaVu Sans", sans-serif' font-weight="normal" font-size="11.14" textLength="5.62" lengthAdjust="spacingAndGlyphs" fill="#000" stroke="#000" stroke-width="0.1" xml:space="preserve">3</text>
<text x="497.08" y="1095.40" font-family='"Liberation Sans", "DejaVu Sans", sans-serif' font-weight="normal" font-size="11.14" textLength="5.29" lengthAdjust="spacingAndGlyphs" fill="#000" stroke="#000" stroke-width="0.1" xml:space="preserve">4</text>
<text x="599.33" y="1095.40" font-family='"Liberation Sans", "DejaVu Sans", sans-serif' font-weight="normal" font-size="11.14" textLength="5.62" lengthAdjust="spacingAndGlyphs" fill="#000" stroke="#000" stroke-width="0.1" xml:space="preserve">5</text>
<text x="701.68" y="1095.40" font-family='"Liberation Sans", "DejaVu Sans", sans-serif' font-weight="normal" font-size="11.14" textLength="5.74" lengthAdjust="spacingAndGlyphs" fill="#000" stroke="#000" stroke-width="0.1" xml:space="preserve">6</text>
<text x="339.92" y="1108.10" font-family='"Liberation Mono", "DejaVu Sans Mono", monospace' font-weight="normal" font-size="12.42" textLength="95.16" lengthAdjust="spacingAndGlyphs" fill="#000" stroke="#000" stroke-width="0.12" xml:space="preserve">Frequency (Hz)</text>
<text transform="translate(50.40,1038.06) rotate(-90)" x="0" y="0" font-family='"Liberation Mono", "DejaVu Sans Mono", monospace' font-weight="normal" font-size="13.48" textLength="127.21" lengthAdjust="spacingAndGlyphs" fill="#000" stroke="#000" stroke-width="0.15" xml:space="preserve">V(f)   cm/sec - sec</text>
<line x1="335.90" y1="939.10" x2="393.90" y2="939.10" stroke="#000" stroke-width="1.3" />
<line x1="335.90" y1="947.40" x2="393.90" y2="947.40" stroke="#000" stroke-width="1.3" stroke-dasharray="18.5 5.2"/>
<line x1="335.90" y1="955.40" x2="393.90" y2="955.40" stroke="#444" stroke-width="1.6" stroke-dasharray="9.3 3 2.8 3.2 3.3 2.1"/>
<text x="404.31" y="942.00" font-family='"Liberation Mono", "DejaVu Sans Mono", monospace' font-weight="normal" font-size="10.60" textLength="70.20" lengthAdjust="spacingAndGlyphs" fill="#000" stroke="#000" stroke-width="0.05" xml:space="preserve">Chn 1: 90 Deg</text>
<text x="404.31" y="950.10" font-family='"Liberation Mono", "DejaVu Sans Mono", monospace' font-weight="normal" font-size="10.60" textLength="75.60" lengthAdjust="spacingAndGlyphs" fill="#000" stroke="#000" stroke-width="0.05" xml:space="preserve">Chn 2: 360 Deg</text>
<text x="404.31" y="957.90" font-family='"Liberation Mono", "DejaVu Sans Mono", monospace' font-weight="normal" font-size="10.60" textLength="48.60" lengthAdjust="spacingAndGlyphs" fill="#000" stroke="#000" stroke-width="0.05" xml:space="preserve">Chn 3: Up</text>
<path d="M96.0,140.10L96.5,140.10L97.0,140.10L97.5,140.10L98.0,140.10L98.5,140.10L99.0,140.10L99.5,140.10L100.0,140.10L100.5,140.10L101.0,140.10L101.5,140.10L102.0,140.10L102.5,140.10L103.0,140.10L103.5,140.10L104.0,140.10L104.5,140.10L105.0,140.10L105.5,140.10L106.0,140.10L106.5,140.10L107.0,140.10L107.5,140.10L108.0,140.10L108.5,140.10L109.0,140.10L109.5,140.10L110.0,140.10L110.5,140.10L111.0,140.10L111.5,140.10L112.0,140.10L112.5,140.10L113.0,140.10L113.5,140.10L114.0,140.10L114.5,140.10L115.0,140.10L115.5,140.10L116.0,140.10L116.5,140.10L117.0,140.10L117.5,140.10L118.0,140.10L118.5,140.10L119.0,140.10L119.5,140.10L120.0,140.10L120.5,140.10L121.0,140.10L121.5,140.10L122.0,140.10L122.5,140.10L123.0,140.10L123.5,140.10L124.0,140.10L124.5,140.10L125.0,140.10L125.5,140.10L126.0,140.10L126.5,140.10L127.0,140.10L127.5,140.10L128.0,140.10L128.5,140.10L129.0,140.10L129.5,140.10L130.0,140.10L130.5,140.10L131.0,140.10L131.5,140.10L132.0,140.10L132.5,140.10L133.0,140.10L133.5,140.10L134.0,140.10L134.5,140.10L135.0,140.10L135.5,140.10L136.0,140.10L136.5,140.10L137.0,140.10L137.5,140.10L138.0,140.10L138.5,140.10L139.0,140.10L139.5,140.10L140.0,140.10L140.5,140.10L141.0,140.10L141.5,140.10L142.0,140.10L142.5,140.10L143.0,140.10L143.5,140.10L144.0,140.10L144.5,140.10L145.0,140.10L145.5,140.10L146.0,140.10L146.5,140.10L147.0,140.10L147.5,140.10L148.0,140.10L148.5,140.10L149.0,140.10L149.5,140.10L150.0,140.10L150.5,140.10L151.0,140.10L151.5,140.10L152.0,140.10L152.5,140.10L153.0,140.10L153.5,140.10L154.0,140.10L154.5,140.10L155.0,140.10L155.5,140.10L156.0,140.10L156.5,140.10L157.0,140.10L157.5,140.10L158.0,140.10L158.5,140.10L159.0,140.10L159.5,140.10L160.0,140.10L160.5,140.10L161.0,140.10L161.5,140.10L162.0,140.10L162.5,140.10L163.0,140.10L163.5,140.10L164.0,140.10L164.5,140.10L165.0,140.10L165.5,140.10L166.0,140.10L166.5,140.10L167.0,140.10L167.5,140.10L168.0,140.10L168.5,140.10L169.0,140.10L169.5,140.10L170.0,140.10L170.5,140.10L171.0,140.10L171.5,140.10L172.0,140.10L172.5,140.10L173.0,140.10L173.5,140.10L174.0,140.10L174.5,140.10L175.0,140.10L175.5,140.10L176.0,140.10L176.5,140.10L177.0,140.10L177.5,140.10L178.0,140.10L178.5,140.10L179.0,140.10L179.5,140.10L180.0,140.10L180.5,140.10L181.0,140.10L181.5,140.10L182.0,140.10L182.5,140.10L183.0,140.10L183.5,140.10L184.0,140.10L184.5,140.10L185.0,140.10L185.5,140.10L186.0,140.10L186.5,140.10L187.0,140.10L187.5,140.10L188.0,140.10L188.5,140.10L189.0,140.10L189.5,140.10L190.0,140.10L190.5,140.10L191.0,140.10L191.5,140.10L192.0,140.10L192.5,140.10L193.0,140.10L193.5,140.10L194.0,140.10L194.5,140.10L195.0,140.10L195.5,140.10L196.0,140.10L196.5,140.10L197.0,140.10L197.5,140.10L198.0,140.10L198.5,140.10L199.0,140.10L199.5,140.10L200.0,140.10L200.5,140.10L201.0,140.10L201.5,140.10L202.0,140.10L202.5,140.10L203.0,140.10L203.5,140.10L204.0,140.10L204.5,140.10L205.0,140.10L205.5,140.10L206.0,140.10L206.5,140.10L207.0,140.10L207.5,140.10L208.0,140.10L208.5,140.10L209.0,140.10L209.5,140.10L210.0,140.10L210.5,140.10L211.0,140.10L211.5,140.10L212.0,140.10L212.5,140.10L213.0,140.10L213.5,140.10L214.0,140.10L214.5,140.10L215.0,140.10L215.5,140.10L216.0,140.10L216.5,140.10L217.0,140.10L217.5,140.10L218.0,140.10L218.5,140.10L219.0,140.10L219.5,140.10L220.0,140.10L220.5,140.10L221.0,140.10L221.5,140.10L222.0,140.10L222.5,140.10L223.0,140.10L223.5,140.10L224.0,140.10L224.5,140.10L225.0,140.10L225.5,140.10L226.0,140.10L226.5,140.10L227.0,140.10L227.5,140.10L228.0,140.10L228.5,140.10L229.0,140.10L229.5,140.10L230.0,140.10L230.5,140.10L231.0,140.10L231.5,140.10L232.0,140.10L232.5,140.10L233.0,140.10L233.5,139.93L234.0,139.47L234.5,138.85L235.0,138.22L235.5,137.77L236.0,137.60L236.5,138.26L237.0,139.85L237.5,141.44L238.0,142.10L238.5,141.77L239.0,140.89L239.5,139.81L240.0,138.93L240.5,138.60L241.0,138.86L241.5,139.53L242.0,140.37L242.5,141.04L243.0,141.30L243.5,140.98L244.0,140.13L244.5,139.07L245.0,138.22L245.5,137.90L246.0,137.52L246.5,136.57L247.0,135.51L247.5,134.86L248.0,135.16L248.5,137.17L249.0,140.22L249.5,143.15L250.0,144.84L250.5,144.76L251.0,143.41L251.5,141.45L252.0,139.76L252.5,139.10L253.0,139.98L253.5,140.25L254.0,139.52L254.5,139.03L255.0,139.57L255.5,139.96L256.0,139.34L256.5,138.53L257.0,138.78L257.5,140.17L258.0,141.69L258.5,142.46L259.0,142.47L259.5,142.07L260.0,141.21L260.5,139.61L261.0,137.70L261.5,136.67L262.0,137.52L262.5,139.72L263.0,141.94L263.5,142.46L264.0,141.13L264.5,139.47L265.0,139.16L265.5,140.30L266.0,141.44L266.5,141.23L267.0,139.87L267.5,138.80L268.0,139.00L268.5,140.02L269.0,140.62L269.5,140.32L270.0,139.85L270.5,140.12L271.0,140.95L271.5,141.22L272.0,140.24L272.5,138.70L273.0,138.02L273.5,138.79L274.0,140.17L274.5,140.91L275.0,140.76L275.5,140.60L276.0,141.17L276.5,142.03L277.0,141.98L277.5,140.58L278.0,138.81L278.5,138.08L279.0,138.66L279.5,139.44L280.0,139.29L280.5,138.48L281.0,138.42L281.5,139.99L282.0,142.36L282.5,143.68L283.0,142.94L283.5,140.91L284.0,139.28L284.5,138.97L285.0,139.45L285.5,139.63L286.0,139.16L286.5,138.64L287.0,138.75L287.5,139.54L288.0,140.49L288.5,141.20L289.0,141.61L289.5,141.68L290.0,141.13L290.5,139.81L291.0,138.28L291.5,137.67L292.0,138.65L292.5,140.71L293.0,142.46L293.5,142.86L294.0,141.98L294.5,140.56L295.0,139.13L295.5,137.83L296.0,136.90L296.5,137.09L297.0,138.99L297.5,141.91L298.0,143.91L298.5,143.39L299.0,140.70L299.5,138.07L300.0,137.59L300.5,139.23L301.0,141.12L301.5,141.54L302.0,140.58L302.5,139.77L303.0,140.13L303.5,141.04L304.0,141.12L304.5,139.88L305.0,138.27L305.5,137.58L306.0,138.10L306.5,139.10L307.0,139.97L307.5,140.92L308.0,142.29L308.5,143.56L309.0,143.53L309.5,141.68L310.0,139.10L310.5,137.61L311.0,137.95L311.5,139.03L312.0,139.29L312.5,138.55L313.0,138.20L313.5,139.48L314.0,141.76L314.5,143.03L315.0,142.12L315.5,140.05L316.0,138.95L316.5,139.72L317.0,141.12L317.5,141.32L318.0,140.08L318.5,138.97L319.0,139.38L319.5,140.76L320.0,141.23L320.5,139.81L321.0,137.73L321.5,137.12L322.0,138.64L322.5,140.78L323.0,141.67L323.5,141.19L324.0,140.84L324.5,141.70L325.0,142.88L325.5,142.52L326.0,140.15L326.5,137.57L327.0,136.98L327.5,138.56L328.0,140.22L328.5,140.00L329.0,138.37L329.5,137.73L330.0,139.62L330.5,142.84L331.0,144.56L331.5,143.16L332.0,140.06L332.5,138.16L333.0,139.15L333.5,140.48L334.0,140.63L334.5,140.31L335.0,140.60L335.5,140.38L336.0,139.85L336.5,139.32L337.0,139.10L337.5,140.89L338.0,145.20L338.5,149.51L339.0,151.30L339.5,147.86L340.0,139.21L340.5,129.58L341.0,123.67L341.5,124.74L342.0,132.85L342.5,140.96L343.0,141.05L343.5,128.80L344.0,123.24L344.5,127.79L345.0,137.16L345.5,147.77L346.0,155.56L346.5,157.59L347.0,154.01L347.5,147.17L348.0,140.72L348.5,138.10L349.0,138.50L349.5,139.60L350.0,141.10L350.5,142.60L351.0,143.70L351.5,144.10L352.0,143.11L352.5,140.92L353.0,139.27L353.5,139.55L354.0,141.96L354.5,145.24L355.0,147.65L355.5,147.92L356.0,146.06L356.5,142.73L357.0,139.03L357.5,136.17L358.0,135.10L358.5,135.67L359.0,137.17L359.5,139.03L360.0,140.53L360.5,141.10L361.0,140.49L361.5,138.30L362.0,135.04L362.5,132.87L363.0,134.47L363.5,140.45L364.0,145.56L364.5,147.31L365.0,145.83L365.5,143.41L366.0,142.16L366.5,142.13L367.0,141.60L367.5,139.30L368.0,136.00L368.5,134.06L369.0,135.10L369.5,138.35L370.0,141.31L370.5,142.12L371.0,141.20L371.5,140.57L372.0,141.52L372.5,143.07L373.0,142.96L373.5,140.13L374.0,136.25L374.5,134.54L375.0,136.94L375.5,142.14L376.0,145.23L376.5,144.23L377.0,141.45L377.5,139.81L378.0,140.10L378.5,139.47L379.0,137.82L379.5,135.78L380.0,134.13L380.5,133.50L381.0,134.46L381.5,137.10L382.0,140.81L382.5,144.70L383.0,147.86L383.5,149.54L384.0,149.32L384.5,147.14L385.0,143.66L385.5,139.95L386.0,137.14L386.5,136.10L387.0,136.76L387.5,138.35L388.0,139.94L388.5,140.60L389.0,141.52L389.5,141.45L390.0,140.88L390.5,141.07L391.0,141.74L391.5,140.63L392.0,137.43L392.5,134.12L393.0,133.41L393.5,136.35L394.0,141.31L394.5,145.26L395.0,146.03L395.5,143.67L396.0,140.04L396.5,137.41L397.0,137.07L397.5,138.71L398.0,140.76L398.5,141.50L399.0,140.33L399.5,138.49L400.0,138.09L400.5,140.12L401.0,143.16L401.5,144.34L402.0,142.06L402.5,137.91L403.0,135.47L403.5,136.93L404.0,140.79L404.5,143.29L405.0,142.17L405.5,138.99L406.0,137.37L406.5,138.78L407.0,141.29L407.5,141.99L408.0,140.39L408.5,138.77L409.0,139.37L409.5,141.66L410.0,142.91L410.5,141.46L411.0,138.67L411.5,137.50L412.0,139.15L412.5,141.72L413.0,142.32L413.5,140.18L414.0,137.35L414.5,136.43L415.0,137.95L415.5,140.30L416.0,141.83L416.5,142.24L417.0,142.52L417.5,143.19L418.0,143.30L418.5,141.59L419.0,138.36L419.5,135.68L420.0,135.47L420.5,137.56L421.0,139.89L421.5,140.74L422.0,140.37L422.5,140.35L423.0,141.48L423.5,142.75L424.0,142.65L424.5,141.06L425.0,139.49L425.5,139.32L426.0,140.23L426.5,140.62L427.0,139.64L427.5,138.26L428.0,138.07L428.5,139.33L429.0,140.51L429.5,140.14L430.0,138.64L430.5,138.08L431.0,139.83L431.5,142.93L432.0,144.85L432.5,144.00L433.0,141.19L433.5,138.58L434.0,137.57L434.5,137.77L435.0,138.14L435.5,138.41L436.0,139.16L436.5,140.59L437.0,141.80L437.5,141.69L438.0,140.35L438.5,139.23L439.0,139.60L439.5,141.09L440.0,142.02L440.5,141.24L441.0,139.40L441.5,138.26L442.0,138.80L442.5,140.31L443.0,141.26L443.5,140.98L444.0,140.09L444.5,139.51L445.0,139.42L445.5,139.31L446.0,139.01L446.5,139.06L447.0,139.97L447.5,141.34L448.0,142.06L448.5,141.57L449.0,140.54L449.5,140.15L450.0,140.61L450.5,140.84L451.0,139.74L451.5,137.70L452.0,136.48L452.5,137.55L453.0,140.44L453.5,143.06L454.0,143.64L454.5,142.17L455.0,140.12L455.5,138.86L456.0,138.60L456.5,138.80L457.0,139.11L457.5,139.70L458.0,140.66L458.5,141.50L459.0,141.47L459.5,140.51L460.0,139.36L460.5,138.95L461.0,139.47L461.5,140.36L462.0,140.96L462.5,141.07L463.0,140.77L463.5,139.99L464.0,138.73L464.5,137.54L465.0,137.56L465.5,139.48L466.0,142.44L466.5,144.30L467.0,143.47L467.5,140.52L468.0,137.88L468.5,137.54L469.0,139.24L469.5,140.87L470.0,140.76L470.5,139.32L471.0,138.40L471.5,139.12L472.0,140.64L472.5,141.25L473.0,140.42L473.5,139.38L474.0,139.70L474.5,141.35L475.0,142.66L475.5,142.10L476.0,140.00L476.5,138.23L477.0,138.24L477.5,139.62L478.0,140.66L478.5,140.19L479.0,138.78L479.5,137.97L480.0,138.69L480.5,140.46L481.0,142.00L481.5,142.46L482.0,141.90L482.5,140.94L483.0,140.12L483.5,139.70L484.0,139.75L484.5,140.08L485.0,140.18L485.5,139.49L486.0,138.10L486.5,137.04L487.0,137.58L487.5,139.98L488.0,142.86L488.5,144.21L489.0,143.12L489.5,140.66L490.0,138.80L490.5,138.62L491.0,139.48L491.5,139.95L492.0,139.44L492.5,138.77L493.0,139.04L493.5,140.33L494.0,141.53L494.5,141.56L495.0,140.55L495.5,139.61L496.0,139.57L496.5,140.11L497.0,140.20L497.5,139.44L498.0,138.60L498.5,138.89L499.0,140.57L499.5,142.52L500.0,143.16L500.5,141.89L501.0,139.59L501.5,137.79L502.0,137.44L502.5,138.32L503.0,139.57L503.5,140.51L504.0,141.03L504.5,141.29L505.0,141.32L505.5,140.99L506.0,140.27L506.5,139.47L507.0,139.06L507.5,139.28L508.0,139.92L508.5,140.51L509.0,140.73L509.5,140.56L510.0,140.29L510.5,140.16L511.0,140.18L511.5,140.15L512.0,139.86L512.5,139.35L513.0,138.92L513.5,138.96L514.0,139.66L514.5,140.78L515.0,141.73L515.5,141.92L516.0,141.18L516.5,139.95L517.0,139.01L517.5,138.94L518.0,139.70L518.5,140.66L519.0,141.05L519.5,140.56L520.0,139.53L520.5,138.67L521.0,138.49L521.5,139.04L522.0,139.98L522.5,140.90L523.0,141.55L523.5,141.79L524.0,141.55L524.5,140.86L525.0,140.00L525.5,139.40L526.0,139.34L526.5,139.66L527.0,139.80L527.5,139.36L528.0,138.57L528.5,138.23L529.0,139.00L529.5,140.74L530.0,142.46L530.5,143.07L531.0,142.23L531.5,140.58L532.0,139.15L532.5,138.60L533.0,138.86L533.5,139.43L534.0,139.83L534.5,139.93L535.0,139.84L535.5,139.77L536.0,139.93L536.5,140.35L537.0,140.89L537.5,141.20L538.0,140.99L538.5,140.33L539.0,139.67L539.5,139.47L540.0,139.73L540.5,139.96L541.0,139.76L541.5,139.30L542.0,139.23L542.5,139.96L543.0,141.17L543.5,141.93L544.0,141.63L544.5,140.52L545.0,139.45L545.5,138.99L546.0,139.03L546.5,139.08L547.0,139.02L547.5,139.25L548.0,140.11L548.5,141.32L549.0,142.06L549.5,141.79L550.0,140.74L550.5,139.73L551.0,139.34L551.5,139.50L552.0,139.76L552.5,139.87L553.0,139.92L553.5,139.96L554.0,139.82L554.5,139.36L555.0,138.92L555.5,139.19L556.0,140.41L556.5,141.91L557.0,142.49L557.5,141.64L558.0,140.08L558.5,139.14L559.0,139.42L559.5,140.22L560.0,140.35L560.5,139.50L561.0,138.51L561.5,138.42L562.0,139.31L562.5,140.30L563.0,140.64L563.5,140.57L564.0,140.92L564.5,141.88L565.0,142.51L565.5,141.70L566.0,139.50L566.5,137.44L567.0,137.12L567.5,138.76L568.0,140.93L568.5,141.94L569.0,141.28L569.5,139.85L570.0,138.92L570.5,138.98L571.0,139.65L571.5,140.38L572.0,140.92L572.5,141.29L573.0,141.36L573.5,140.95L574.0,140.11L574.5,139.31L575.0,138.97L575.5,139.10L576.0,139.36L576.5,139.56L577.0,139.92L577.5,140.67L578.0,141.49L578.5,141.65L579.0,140.69L579.5,139.17L580.0,138.26L580.5,138.73L581.0,140.15L581.5,141.36L582.0,141.52L582.5,140.83L583.0,140.09L583.5,139.76L584.0,139.66L584.5,139.42L585.0,139.16L585.5,139.36L586.0,140.21L586.5,141.19L587.0,141.48L587.5,140.81L588.0,139.72L588.5,139.04L589.0,139.14L589.5,139.66L590.0,140.10L590.5,140.33L591.0,140.57L591.5,140.91L592.0,141.08L592.5,140.76L593.0,140.03L593.5,139.34L594.0,139.12L594.5,139.33L595.0,139.62L595.5,139.75L596.0,139.87L596.5,140.21L597.0,140.72L597.5,141.08L598.0,141.05L598.5,140.72L599.0,140.35L599.5,140.01L600.0,139.59L600.5,139.07L601.0,138.77L601.5,139.12L602.0,140.12L602.5,141.15L603.0,141.48L603.5,140.97L604.0,140.17L604.5,139.73L605.0,139.75L605.5,139.79L606.0,139.55L606.5,139.28L607.0,139.56L607.5,140.47L608.0,141.39L608.5,141.49L609.0,140.67L609.5,139.65L610.0,139.24L610.5,139.51L611.0,139.85L611.5,139.76L612.0,139.47L612.5,139.63L613.0,140.45L613.5,141.29L614.0,141.30L614.5,140.35L615.0,139.27L615.5,139.04L616.0,139.80L616.5,140.78L617.0,141.09L617.5,140.59L618.0,139.87L618.5,139.54L619.0,139.61L619.5,139.70L620.0,139.61L620.5,139.58L621.0,139.92L621.5,140.55L622.0,141.00L622.5,140.94L623.0,140.50L623.5,140.13L624.0,140.02L624.5,139.96L625.0,139.73L625.5,139.45L626.0,139.51L626.5,140.06L627.0,140.67L627.5,140.75L628.0,140.16L628.5,139.45L629.0,139.34L629.5,139.95L630.0,140.68L630.5,140.86L631.0,140.41L631.5,139.90L632.0,139.86L632.5,140.23L633.0,140.50L633.5,140.28L634.0,139.77L634.5,139.47L635.0,139.67L635.5,140.09L636.0,140.30L636.5,140.18L637.0,140.03L637.5,140.14L638.0,140.41L638.5,140.48L639.0,140.12L639.5,139.63L640.0,139.52L640.5,140.00L641.0,140.72L641.5,141.06L642.0,140.74L642.5,140.04L643.0,139.50L643.5,139.39L644.0,139.55L644.5,139.67L645.0,139.68L645.5,139.82L646.0,140.28L646.5,140.89L647.0,141.21L647.5,140.93L648.0,140.22L648.5,139.61L649.0,139.50L649.5,139.85L650.0,140.20L650.5,140.19L651.0,139.86L651.5,139.61L652.0,139.71L652.5,140.06L653.0,140.33L653.5,140.31L654.0,140.16L654.5,140.20L655.0,140.49L655.5,140.74L656.0,140.56L656.5,139.97L657.0,139.39L657.5,139.29L658.0,139.76L658.5,140.37L659.0,140.61L659.5,140.34L660.0,139.88L660.5,139.66L661.0,139.83L661.5,140.18L662.0,140.43L662.5,140.49L663.0,140.42L663.5,140.32L664.0,140.17L664.5,139.92L665.0,139.65L665.5,139.54L666.0,139.68L666.5,139.98L667.0,140.30L667.5,140.55L668.0,140.72L668.5,140.77L669.0,140.55L669.5,139.98L670.0,139.29L670.5,138.95L671.0,139.30L671.5,140.18L672.0,140.93L672.5,140.97L673.0,140.32L673.5,139.60L674.0,139.49L674.5,140.08L675.0,140.81L675.5,141.04L676.0,140.60L676.5,139.87L677.0,139.36L677.5,139.28L678.0,139.45L678.5,139.65L679.0,139.88L679.5,140.26L680.0,140.77L680.5,141.12L681.0,141.00L681.5,140.41L682.0,139.68L682.5,139.28L683.0,139.41L683.5,139.86L684.0,140.28L684.5,140.45L685.0,140.40L685.5,140.30L686.0,140.22L686.5,140.10L687.0,139.86L687.5,139.57L688.0,139.44L688.5,139.64L689.0,140.11L689.5,140.61L690.0,140.88L690.5,140.85L691.0,140.65" fill="none" stroke="#000" stroke-width="1.05" stroke-linejoin="round"/>
<path d="M96.0,178.18L96.5,178.18L97.0,178.66L97.5,178.96L98.0,178.62L98.5,178.14L99.0,178.16L99.5,178.48L100.0,178.52L100.5,178.29L101.0,178.30L101.5,178.61L102.0,178.75L102.5,178.58L103.0,178.45L103.5,178.48L104.0,178.37L104.5,178.09L105.0,178.08L105.5,178.50L106.0,178.86L106.5,178.74L107.0,178.44L107.5,178.40L108.0,178.52L108.5,178.39L109.0,178.15L109.5,178.20L110.0,178.53L110.5,178.71L111.0,178.59L111.5,178.46L112.0,178.48L112.5,178.47L113.0,178.30L113.5,178.19L114.0,178.37L114.5,178.67L115.0,178.77L115.5,178.58L116.0,178.29L116.5,178.12L117.0,178.18L117.5,178.44L118.0,178.73L118.5,178.83L119.0,178.64L119.5,178.29L120.0,178.08L120.5,178.20L121.0,178.55L121.5,178.76L122.0,178.59L122.5,178.28L123.0,178.20L123.5,178.44L124.0,178.65L124.5,178.60L125.0,178.45L125.5,178.44L126.0,178.47L126.5,178.34L127.0,178.18L127.5,178.28L128.0,178.57L128.5,178.72L129.0,178.65L129.5,178.56L130.0,178.48L130.5,178.26L131.0,178.05L131.5,178.22L132.0,178.70L132.5,178.89L133.0,178.52L133.5,178.12L134.0,178.25L134.5,178.70L135.0,178.79L135.5,178.38L136.0,178.04L136.5,178.16L137.0,178.56L137.5,178.79L138.0,178.71L138.5,178.47L139.0,178.27L139.5,178.23L140.0,178.34L140.5,178.46L141.0,178.51L141.5,178.51L142.0,178.56L142.5,178.60L143.0,178.52L143.5,178.37L144.0,178.29L144.5,178.29L145.0,178.33L145.5,178.41L146.0,178.58L146.5,178.73L147.0,178.68L147.5,178.46L148.0,178.26L148.5,178.22L149.0,178.29L149.5,178.42L150.0,178.58L150.5,178.64L151.0,178.51L151.5,178.32L152.0,178.33L152.5,178.54L153.0,178.65L153.5,178.52L154.0,178.33L154.5,178.28L155.0,178.32L155.5,178.39L156.0,178.52L156.5,178.65L157.0,178.59L157.5,178.36L158.0,178.29L158.5,178.51L159.0,178.69L159.5,178.49L160.0,178.15L160.5,178.17L161.0,178.50L161.5,178.68L162.0,178.54L162.5,178.40L163.0,178.50L163.5,178.62L164.0,178.51L164.5,178.29L165.0,178.22L165.5,178.32L166.0,178.45L166.5,178.55L167.0,178.65L167.5,178.65L168.0,178.45L168.5,178.24L169.0,178.25L169.5,178.48L170.0,178.61L170.5,178.50L171.0,178.37L171.5,178.40L172.0,178.50L172.5,178.46L173.0,178.35L173.5,178.40L174.0,178.62L174.5,178.69L175.0,178.45L175.5,178.16L176.0,178.17L176.5,178.46L177.0,178.69L177.5,178.67L178.0,178.51L178.5,178.38L179.0,178.31L179.5,178.29L180.0,178.37L180.5,178.52L181.0,178.60L181.5,178.54L182.0,178.48L182.5,178.49L183.0,178.45L183.5,178.30L184.0,178.22L184.5,178.39L185.0,178.60L185.5,178.60L186.0,178.46L186.5,178.45L187.0,178.57L187.5,178.54L188.0,178.33L188.5,178.22L189.0,178.32L189.5,178.44L190.0,178.46L190.5,178.54L191.0,178.71L191.5,178.68L192.0,178.36L192.5,178.12L193.0,178.28L193.5,178.63L194.0,178.67L194.5,178.37L195.0,178.17L195.5,178.30L196.0,178.59L196.5,178.74L197.0,178.66L197.5,178.46L198.0,178.29L198.5,178.26L199.0,178.36L199.5,178.44L200.0,178.42L200.5,178.40L201.0,178.53L201.5,178.66L202.0,178.62L202.5,178.45L203.0,178.34L203.5,178.34L204.0,178.32L204.5,178.32L205.0,178.45L205.5,178.64L206.0,178.61L206.5,178.39L207.0,178.31L207.5,178.49L208.0,178.67L208.5,178.56L209.0,178.28L209.5,178.13L210.0,178.26L210.5,178.52L211.0,178.74L211.5,178.75L212.0,178.52L212.5,178.24L213.0,178.16L213.5,178.35L214.0,178.57L214.5,178.61L215.0,178.52L215.5,178.44L216.0,178.37L216.5,178.34L217.0,178.44L217.5,178.59L218.0,178.59L218.5,178.38L219.0,178.23L219.5,178.34L220.0,178.55L220.5,178.59L221.0,178.52L221.5,178.51L222.0,178.49L222.5,178.34L223.0,178.22L223.5,178.34L224.0,178.54L224.5,178.54L225.0,178.44L225.5,178.51L226.0,178.69L226.5,178.62L227.0,178.28L227.5,178.11L228.0,178.29L228.5,178.50L229.0,178.50L229.5,178.46L230.0,178.59L230.5,178.70L231.0,178.56L231.5,178.34L232.0,178.28L232.5,178.34L233.0,178.45L233.5,179.07L234.0,180.71L234.5,182.79L235.0,184.57L235.5,185.42L236.0,184.78L236.5,182.36L237.0,179.16L237.5,176.48L238.0,175.45L238.5,175.98L239.0,177.35L239.5,179.05L240.0,180.42L240.5,180.95L241.0,180.44L241.5,179.20L242.0,177.96L242.5,177.45L243.0,176.63L243.5,177.56L244.0,179.94L244.5,182.05L245.0,182.56L245.5,180.97L246.0,179.60L246.5,178.78L247.0,178.34L247.5,178.17L248.0,178.17L248.5,178.05L249.0,177.40L249.5,176.38L250.0,175.88L250.5,176.68L251.0,178.65L251.5,180.39L252.0,180.61L252.5,179.44L253.0,178.40L253.5,178.72L254.0,179.89L254.5,180.15L255.0,178.47L255.5,175.94L256.0,174.85L256.5,176.42L257.0,179.54L257.5,181.73L258.0,181.37L258.5,179.02L259.0,176.62L259.5,175.76L260.0,176.58L260.5,178.13L261.0,179.37L261.5,179.83L262.0,179.66L262.5,179.24L263.0,178.96L263.5,178.89L264.0,178.75L264.5,178.11L265.0,176.98L265.5,176.13L266.0,176.57L266.5,178.48L267.0,180.66L267.5,181.39L268.0,180.00L268.5,177.60L269.0,176.13L269.5,176.59L270.0,178.29L270.5,179.65L271.0,179.79L271.5,179.09L272.0,178.47L272.5,178.26L273.0,178.13L273.5,177.75L274.0,177.41L274.5,177.65L275.0,178.56L275.5,179.54L276.0,179.85L276.5,179.32L277.0,178.46L277.5,177.88L278.0,177.87L278.5,178.24L279.0,178.56L279.5,178.46L280.0,177.85L280.5,177.10L281.0,176.96L281.5,178.01L282.0,179.90L282.5,181.32L283.0,181.03L283.5,179.07L284.0,177.01L284.5,176.53L285.0,177.76L285.5,179.14L286.0,179.01L286.5,177.42L287.0,176.06L287.5,176.49L288.0,178.52L288.5,180.40L289.0,180.72L289.5,179.67L290.0,178.62L290.5,178.48L291.0,178.90L291.5,178.95L292.0,178.32L292.5,177.57L293.0,177.32L293.5,177.50L294.0,177.65L294.5,177.66L295.0,177.94L295.5,178.73L296.0,179.58L296.5,179.70L297.0,178.95L297.5,178.16L298.0,178.23L298.5,179.12L299.0,179.84L299.5,179.54L300.0,178.41L300.5,177.43L301.0,177.23L301.5,177.47L302.0,177.41L302.5,176.93L303.0,176.83L303.5,177.90L304.0,179.89L304.5,181.56L305.0,181.64L305.5,180.04L306.0,177.90L306.5,176.67L307.0,177.01L307.5,178.26L308.0,179.05L308.5,178.45L309.0,176.85L309.5,175.80L310.0,176.69L310.5,179.35L311.0,181.82L311.5,181.92L312.0,179.36L312.5,176.34L313.0,175.61L313.5,177.87L314.0,180.88L314.5,181.52L315.0,178.91L315.5,175.38L316.0,174.21L316.5,176.45L317.0,179.96L317.5,181.66L318.0,180.53L318.5,178.32L319.0,177.46L319.5,178.60L320.0,180.09L320.5,179.87L321.0,177.66L321.5,175.18L322.0,174.46L322.5,176.11L323.0,179.10L323.5,181.74L324.0,182.83L324.5,182.00L325.0,179.69L325.5,176.99L326.0,175.24L326.5,175.33L327.0,176.95L327.5,178.78L328.0,179.49L328.5,178.88L329.0,177.89L329.5,177.65L330.0,178.48L330.5,179.81L331.0,180.86L331.5,181.06L332.0,180.08L332.5,177.90L333.0,175.21L333.5,174.66L334.0,176.33L334.5,178.62L335.0,179.58L335.5,178.95L336.0,178.62L336.5,177.74L337.0,176.60L337.5,175.58L338.0,175.00L338.5,175.65L339.0,179.42L339.5,184.58L340.0,188.35L340.5,188.75L341.0,185.70L341.5,180.71L342.0,176.23L342.5,174.45L343.0,172.49L343.5,167.99L344.0,164.19L344.5,164.66L345.0,175.33L345.5,184.34L346.0,183.97L346.5,181.50L347.0,178.23L347.5,175.50L348.0,174.45L348.5,174.99L349.0,176.45L349.5,178.45L350.0,180.45L350.5,181.91L351.0,182.45L351.5,181.85L352.0,180.20L352.5,177.95L353.0,175.70L353.5,174.05L354.0,173.45L354.5,174.58L355.0,177.67L355.5,181.90L356.0,186.12L356.5,189.22L357.0,190.35L357.5,188.83L358.0,184.86L358.5,179.94L359.0,175.97L359.5,174.45L360.0,175.12L360.5,176.87L361.0,179.03L361.5,180.78L362.0,181.45L362.5,181.01L363.0,179.95L363.5,178.89L364.0,178.45L364.5,179.17L365.0,179.82L365.5,179.87L366.0,179.41L366.5,178.81L367.0,178.01L367.5,176.91L368.0,175.83L368.5,175.59L369.0,176.59L369.5,178.22L370.0,179.34L370.5,179.18L371.0,177.94L371.5,176.60L372.0,176.34L372.5,177.80L373.0,180.64L373.5,183.39L374.0,184.18L374.5,182.14L375.0,178.33L375.5,175.16L376.0,174.43L376.5,175.84L377.0,177.37L377.5,177.44L378.0,176.41L378.5,176.00L379.0,177.24L379.5,179.42L380.0,181.00L380.5,181.39L381.0,181.34L381.5,181.59L382.0,181.66L382.5,180.28L383.0,177.25L383.5,174.17L384.0,173.16L384.5,174.83L385.0,177.68L385.5,179.68L386.0,180.07L386.5,179.52L387.0,178.89L387.5,178.37L388.0,177.86L388.5,177.79L389.0,178.84L389.5,180.81L390.0,182.22L390.5,181.50L391.0,178.79L391.5,175.95L392.0,174.85L392.5,175.55L393.0,176.67L393.5,177.22L394.0,177.68L394.5,179.02L395.0,180.89L395.5,181.63L396.0,180.13L396.5,177.37L397.0,175.74L397.5,176.76L398.0,179.51L398.5,181.55L399.0,181.18L399.5,178.82L400.0,176.38L400.5,175.36L401.0,176.17L401.5,177.96L402.0,179.50L402.5,180.09L403.0,179.78L403.5,179.12L404.0,178.58L404.5,178.28L405.0,178.01L405.5,177.62L406.0,177.30L406.5,177.60L407.0,178.81L407.5,180.38L408.0,181.07L408.5,180.01L409.0,177.64L409.5,175.62L410.0,175.40L410.5,177.03L411.0,179.12L411.5,180.28L412.0,180.20L412.5,179.57L413.0,178.99L413.5,178.34L414.0,177.31L414.5,176.31L415.0,176.39L415.5,178.10L416.0,180.55L416.5,181.93L417.0,181.12L417.5,178.72L418.0,176.52L418.5,175.85L419.0,176.60L419.5,177.66L420.0,178.20L420.5,178.25L421.0,178.41L421.5,179.04L422.0,179.93L422.5,180.57L423.0,180.45L423.5,179.41L424.0,177.74L424.5,176.24L425.0,175.90L425.5,177.10L426.0,179.03L426.5,180.13L427.0,179.47L427.5,177.74L428.0,176.74L428.5,177.61L429.0,179.60L429.5,180.72L430.0,179.82L430.5,177.77L431.0,176.64L431.5,177.51L432.0,179.44L432.5,180.40L433.0,179.39L433.5,177.35L434.0,176.14L434.5,176.68L435.0,178.26L435.5,179.43L436.0,179.47L436.5,178.86L437.0,178.54L437.5,178.91L438.0,179.50L438.5,179.52L439.0,178.66L439.5,177.35L440.0,176.46L440.5,176.64L441.0,177.86L441.5,179.35L442.0,180.14L442.5,179.77L443.0,178.64L443.5,177.66L444.0,177.48L444.5,178.05L445.0,178.82L445.5,179.33L446.0,179.49L446.5,179.30L447.0,178.61L447.5,177.35L448.0,176.12L448.5,175.96L449.0,177.50L449.5,179.95L450.0,181.53L450.5,181.00L451.0,178.89L451.5,177.09L452.0,176.94L452.5,178.04L453.0,178.80L453.5,178.36L454.0,177.54L454.5,177.77L455.0,179.27L455.5,180.58L456.0,180.07L456.5,177.73L457.0,175.47L457.5,175.25L458.0,177.28L458.5,179.88L459.0,181.22L459.5,180.85L460.0,179.78L460.5,179.09L461.0,178.87L461.5,178.44L462.0,177.29L462.5,175.86L463.0,175.15L463.5,175.88L464.0,177.91L464.5,180.28L465.0,181.81L465.5,181.78L466.0,180.26L466.5,178.17L467.0,176.69L467.5,176.52L468.0,177.45L468.5,178.60L469.0,179.20L469.5,179.11L470.0,178.66L470.5,178.17L471.0,177.65L471.5,177.17L472.0,177.11L472.5,177.93L473.0,179.50L473.5,180.90L474.0,181.01L474.5,179.55L475.0,177.45L475.5,176.08L476.0,176.20L476.5,177.47L477.0,178.98L477.5,179.97L478.0,180.21L478.5,179.78L479.0,178.86L479.5,177.77L480.0,176.96L480.5,176.79L481.0,177.17L481.5,177.71L482.0,178.14L482.5,178.62L483.0,179.47L483.5,180.57L484.0,181.17L484.5,180.60L485.0,178.96L485.5,177.19L486.0,176.20L486.5,176.18L487.0,176.62L487.5,177.12L488.0,177.75L488.5,178.76L489.0,179.92L489.5,180.55L490.0,180.22L490.5,179.25L491.0,178.44L491.5,178.22L492.0,178.27L492.5,178.10L493.0,177.70L493.5,177.58L494.0,178.03L494.5,178.65L495.0,178.71L495.5,178.11L496.0,177.53L496.5,177.77L497.0,178.79L497.5,179.70L498.0,179.70L498.5,178.90L499.0,178.18L499.5,178.17L500.0,178.63L500.5,178.81L501.0,178.34L501.5,177.65L502.0,177.46L502.5,178.05L503.0,178.92L503.5,179.37L504.0,179.07L504.5,178.31L505.0,177.64L505.5,177.46L506.0,177.80L506.5,178.41L507.0,178.95L507.5,179.25L508.0,179.33L508.5,179.36L509.0,179.33L509.5,179.04L510.0,178.27L510.5,177.18L511.0,176.43L511.5,176.67L512.0,177.86L512.5,179.17L513.0,179.69L513.5,179.26L514.0,178.63L514.5,178.58L515.0,179.10L515.5,179.42L516.0,178.93L516.5,177.89L517.0,177.18L517.5,177.36L518.0,178.10L518.5,178.67L519.0,178.76L519.5,178.66L520.0,178.75L520.5,178.90L521.0,178.70L521.5,178.15L522.0,177.79L522.5,178.15L523.0,178.98L523.5,179.38L524.0,178.77L524.5,177.63L525.0,177.05L525.5,177.68L526.0,178.98L526.5,179.84L527.0,179.65L527.5,178.81L528.0,178.13L528.5,177.98L529.0,178.05L529.5,177.95L530.0,177.74L530.5,177.85L531.0,178.43L531.5,179.09L532.0,179.29L532.5,178.89L533.0,178.29L533.5,178.00L534.0,178.14L534.5,178.46L535.0,178.68L535.5,178.78L536.0,178.92L536.5,179.12L537.0,179.16L537.5,178.75L538.0,177.81L538.5,176.69L539.0,176.05L539.5,176.55L540.0,178.24L540.5,180.34L541.0,181.57L541.5,181.03L542.0,179.05L542.5,177.06L543.0,176.51L543.5,177.60L544.0,179.15L544.5,179.69L545.0,178.81L545.5,177.48L546.0,176.94L546.5,177.56L547.0,178.54L547.5,178.86L548.0,178.37L548.5,177.83L549.0,178.05L549.5,179.09L550.0,180.26L550.5,180.70L551.0,180.10L551.5,178.77L552.0,177.35L552.5,176.46L553.0,176.45L553.5,177.18L554.0,178.05L554.5,178.39L555.0,178.10L555.5,177.84L556.0,178.46L556.5,180.03L557.0,181.51L557.5,181.53L558.0,179.74L558.5,177.25L559.0,175.75L559.5,176.04L560.0,177.43L560.5,178.54L561.0,178.66L561.5,178.21L562.0,178.04L562.5,178.52L563.0,179.24L563.5,179.58L564.0,179.42L564.5,179.06L565.0,178.79L565.5,178.53L566.0,178.09L566.5,177.50L567.0,177.11L567.5,177.30L568.0,178.08L568.5,179.09L569.0,179.80L569.5,179.85L570.0,179.20L570.5,178.17L571.0,177.30L571.5,177.07L572.0,177.60L572.5,178.49L573.0,179.15L573.5,179.25L574.0,178.99L574.5,178.79L575.0,178.83L575.5,178.85L576.0,178.54L576.5,177.89L577.0,177.34L577.5,177.32L578.0,177.89L578.5,178.67L579.0,179.23L579.5,179.34L580.0,179.04L580.5,178.53L581.0,178.05L581.5,177.88L582.0,178.19L582.5,178.80L583.0,179.24L583.5,179.06L584.0,178.36L584.5,177.69L585.0,177.56L585.5,177.95L586.0,178.40L586.5,178.51L587.0,178.45L587.5,178.63L588.0,179.13L588.5,179.50L589.0,179.21L589.5,178.34L590.0,177.55L590.5,177.49L591.0,178.07L591.5,178.62L592.0,178.63L592.5,178.27L593.0,178.10L593.5,178.43L594.0,178.94L594.5,179.10L595.0,178.80L595.5,178.43L596.0,178.39L596.5,178.60L597.0,178.61L597.5,178.18L598.0,177.62L598.5,177.49L599.0,178.06L599.5,178.95L600.0,179.48L600.5,179.29L601.0,178.57L601.5,177.90L602.0,177.75L602.5,178.16L603.0,178.78L603.5,179.16L604.0,179.05L604.5,178.53L605.0,177.96L605.5,177.67L606.0,177.81L606.5,178.22L607.0,178.62L607.5,178.82L608.0,178.85L608.5,178.78L609.0,178.63L609.5,178.43L610.0,178.27L610.5,178.30L611.0,178.54L611.5,178.74L612.0,178.60L612.5,178.11L613.0,177.71L613.5,177.88L614.0,178.61L614.5,179.31L615.0,179.33L615.5,178.64L616.0,177.87L616.5,177.67L617.0,178.09L617.5,178.58L618.0,178.63L618.5,178.34L619.0,178.23L619.5,178.63L620.0,179.22L620.5,179.43L621.0,178.99L621.5,178.24L622.0,177.71L622.5,177.62L623.0,177.78L623.5,177.92L624.0,178.05L624.5,178.36L625.0,178.87L625.5,179.31L626.0,179.36L626.5,179.00L627.0,178.53L627.5,178.26L628.0,178.28L628.5,178.38L629.0,178.37L629.5,178.23L630.0,178.04L630.5,177.94L631.0,178.01L631.5,178.26L632.0,178.58L632.5,178.80L633.0,178.75L633.5,178.54L634.0,178.46L634.5,178.74L635.0,179.23L635.5,179.41L636.0,178.86L636.5,177.81L637.0,177.01L637.5,177.13L638.0,178.10L638.5,179.12L639.0,179.39L639.5,178.80L640.0,177.97L640.5,177.68L641.0,178.14L641.5,178.89L642.0,179.32L642.5,179.15L643.0,178.64L643.5,178.26L644.0,178.28L644.5,178.53L645.0,178.63L645.5,178.31L646.0,177.73L646.5,177.35L647.0,177.61L647.5,178.46L648.0,179.35L648.5,179.63L649.0,179.15L649.5,178.38L650.0,178.01L650.5,178.23L651.0,178.63L651.5,178.67L652.0,178.28L652.5,177.94L653.0,178.10L653.5,178.59L654.0,178.85L654.5,178.57L655.0,178.11L655.5,178.11L656.0,178.72L656.5,179.30L657.0,179.08L657.5,178.03L658.0,177.01L658.5,177.00L659.0,178.09L659.5,179.45L660.0,180.07L660.5,179.70L661.0,178.91L661.5,178.37L662.0,178.22L662.5,178.10L663.0,177.71L663.5,177.25L664.0,177.20L664.5,177.83L665.0,178.82L665.5,179.57L666.0,179.64L666.5,179.11L667.0,178.44L667.5,178.11L668.0,178.27L668.5,178.68L669.0,178.95L669.5,178.80L670.0,178.32L670.5,177.85L671.0,177.68L671.5,177.82L672.0,178.02L672.5,178.09L673.0,178.12L673.5,178.40L674.0,179.05L674.5,179.75L675.0,179.99L675.5,179.50L676.0,178.52L676.5,177.61L677.0,177.23L677.5,177.40L678.0,177.86L678.5,178.32L679.0,178.62L679.5,178.71L680.0,178.63L680.5,178.50L681.0,178.51L681.5,178.76L682.0,179.04L682.5,179.04L683.0,178.59L683.5,177.99L684.0,177.72L684.5,177.98L685.0,178.50L685.5,178.75L686.0,178.58L686.5,178.33L687.0,178.42L687.5,178.82L688.0,179.03L688.5,178.61L689.0,177.77L689.5,177.23L690.0,177.52L690.5,178.50L691.0,179.45" fill="none" stroke="#000" stroke-width="1.05" stroke-linejoin="round"/>
<path d="M96.0,216.52L96.5,216.73L97.0,216.71L97.5,216.60L98.0,216.71L98.5,217.05L99.0,217.29L99.5,217.16L100.0,216.79L100.5,216.54L101.0,216.53L101.5,216.66L102.0,216.76L102.5,216.79L103.0,216.81L103.5,216.83L104.0,216.83L104.5,216.80L105.0,216.80L105.5,216.90L106.0,217.03L106.5,217.01L107.0,216.77L107.5,216.51L108.0,216.46L108.5,216.62L109.0,216.80L109.5,216.90L110.0,216.95L110.5,217.01L111.0,217.00L111.5,216.85L112.0,216.70L112.5,216.69L113.0,216.76L113.5,216.75L114.0,216.66L114.5,216.65L115.0,216.78L115.5,216.90L116.0,216.90L116.5,216.87L117.0,216.91L117.5,216.99L118.0,216.94L118.5,216.75L119.0,216.54L119.5,216.45L120.0,216.54L120.5,216.80L121.0,217.10L121.5,217.17L122.0,216.91L122.5,216.59L123.0,216.60L123.5,216.92L124.0,217.13L124.5,216.91L125.0,216.52L125.5,216.40L126.0,216.63L126.5,216.88L127.0,216.93L127.5,216.90L128.0,216.94L128.5,216.99L129.0,216.93L129.5,216.77L130.0,216.65L130.5,216.61L131.0,216.62L131.5,216.71L132.0,216.84L132.5,216.90L133.0,216.84L133.5,216.80L134.0,216.91L134.5,217.05L135.0,216.96L135.5,216.66L136.0,216.49L136.5,216.63L137.0,216.85L137.5,216.85L138.0,216.70L138.5,216.69L139.0,216.87L139.5,217.02L140.0,217.00L140.5,216.89L141.0,216.83L141.5,216.77L142.0,216.64L142.5,216.53L143.0,216.58L143.5,216.75L144.0,216.89L144.5,216.96L145.0,217.02L145.5,217.04L146.0,216.91L146.5,216.67L147.0,216.52L147.5,216.64L148.0,216.87L148.5,216.94L149.0,216.73L149.5,216.49L150.0,216.56L150.5,216.98L151.0,217.39L151.5,217.34L152.0,216.80L152.5,216.25L153.0,216.20L153.5,216.65L154.0,217.11L154.5,217.16L155.0,216.86L155.5,216.62L156.0,216.66L156.5,216.83L157.0,216.94L157.5,216.93L158.0,216.85L158.5,216.76L159.0,216.69L159.5,216.67L160.0,216.72L160.5,216.80L161.0,216.83L161.5,216.84L162.0,216.84L162.5,216.86L163.0,216.87L163.5,216.86L164.0,216.82L164.5,216.73L165.0,216.69L165.5,216.74L166.0,216.83L166.5,216.81L167.0,216.67L167.5,216.62L168.0,216.85L168.5,217.15L169.0,217.17L169.5,216.87L170.0,216.56L170.5,216.50L171.0,216.58L171.5,216.63L172.0,216.74L172.5,217.03L173.0,217.27L173.5,217.12L174.0,216.66L174.5,216.35L175.0,216.52L175.5,216.89L176.0,217.03L176.5,216.88L177.0,216.74L177.5,216.76L178.0,216.85L178.5,216.85L179.0,216.77L179.5,216.68L180.0,216.66L180.5,216.77L181.0,217.01L181.5,217.15L182.0,216.97L182.5,216.57L183.0,216.36L183.5,216.58L184.0,216.96L184.5,217.07L185.0,216.86L185.5,216.68L186.0,216.78L186.5,216.98L187.0,217.01L187.5,216.80L188.0,216.55L188.5,216.47L189.0,216.63L189.5,216.92L190.0,217.12L190.5,217.05L191.0,216.78L191.5,216.63L192.0,216.73L192.5,216.88L193.0,216.82L193.5,216.63L194.0,216.61L194.5,216.84L195.0,217.04L195.5,216.95L196.0,216.73L196.5,216.69L197.0,216.84L197.5,216.93L198.0,216.79L198.5,216.59L199.0,216.58L199.5,216.80L200.0,217.03L200.5,217.08L201.0,216.91L201.5,216.69L202.0,216.56L202.5,216.59L203.0,216.75L203.5,216.92L204.0,217.01L204.5,216.97L205.0,216.81L205.5,216.65L206.0,216.61L206.5,216.75L207.0,216.92L207.5,216.93L208.0,216.79L208.5,216.68L209.0,216.73L209.5,216.86L210.0,216.93L210.5,216.88L211.0,216.79L211.5,216.68L212.0,216.61L212.5,216.65L213.0,216.87L213.5,217.12L214.0,217.14L214.5,216.87L215.0,216.52L215.5,216.38L216.0,216.50L216.5,216.78L217.0,217.08L217.5,217.26L218.0,217.17L218.5,216.81L219.0,216.45L219.5,216.39L220.0,216.61L220.5,216.84L221.0,216.91L221.5,216.92L222.0,216.97L222.5,216.98L223.0,216.85L223.5,216.67L224.0,216.62L224.5,216.71L225.0,216.80L225.5,216.82L226.0,216.84L226.5,216.83L227.0,216.78L227.5,216.74L228.0,216.84L228.5,216.99L229.0,216.95L229.5,216.70L230.0,216.53L230.5,216.66L231.0,216.93L231.5,216.98L232.0,216.80L232.5,216.69L233.0,224.99L233.5,229.51L234.0,222.37L234.5,210.44L235.0,199.07L235.5,193.37L236.0,198.62L236.5,215.31L237.0,228.79L237.5,229.17L238.0,223.67L238.5,216.46L239.0,211.76L239.5,212.07L240.0,216.05L240.5,220.75L241.0,222.80L241.5,221.19L242.0,217.30L242.5,213.41L243.0,211.80L243.5,213.19L244.0,216.55L244.5,219.91L245.0,221.30L245.5,220.27L246.0,217.80L246.5,215.33L247.0,214.30L247.5,214.93L248.0,216.18L248.5,216.80L249.0,216.78L249.5,216.61L250.0,217.09L250.5,219.19L251.0,222.03L251.5,221.52L252.0,217.73L252.5,213.15L253.0,211.18L253.5,212.98L254.0,216.38L254.5,218.17L255.0,217.29L255.5,215.66L256.0,215.84L256.5,218.21L257.0,220.56L257.5,220.49L258.0,217.77L258.5,214.45L259.0,212.78L259.5,213.42L260.0,215.42L260.5,217.47L261.0,218.86L261.5,219.50L262.0,219.37L262.5,218.44L263.0,217.03L263.5,215.75L264.0,215.04L264.5,214.91L265.0,215.16L265.5,215.74L266.0,216.62L266.5,217.55L267.0,218.01L267.5,217.60L268.0,216.74L268.5,216.45L269.0,217.32L269.5,218.68L270.0,219.07L270.5,217.70L271.0,215.41L271.5,213.96L272.0,214.36L272.5,215.94L273.0,217.17L273.5,217.30L274.0,216.93L274.5,217.07L275.0,217.79L275.5,218.10L276.0,217.22L276.5,215.72L277.0,215.13L277.5,216.34L278.0,218.49L278.5,219.68L279.0,218.73L279.5,216.31L280.0,214.30L280.5,214.11L281.0,215.54L281.5,217.18L282.0,217.75L282.5,217.10L283.0,216.13L283.5,215.89L284.0,216.70L284.5,217.97L285.0,218.71L285.5,218.33L286.0,217.11L286.5,216.02L287.0,215.93L287.5,216.82L288.0,217.70L288.5,217.51L289.0,216.11L289.5,214.58L290.0,214.28L290.5,215.60L291.0,217.57L291.5,218.72L292.0,218.39L292.5,217.18L293.0,216.27L293.5,216.30L294.0,216.93L294.5,217.50L295.0,217.66L295.5,217.62L296.0,217.65L296.5,217.64L297.0,217.19L297.5,216.06L298.0,214.53L298.5,213.30L299.0,213.08L299.5,214.26L300.0,216.69L300.5,219.53L301.0,221.60L301.5,221.96L302.0,220.55L302.5,218.21L303.0,216.08L303.5,214.63L304.0,213.60L304.5,212.77L305.0,212.59L305.5,213.91L306.0,216.76L306.5,219.75L307.0,220.91L307.5,219.59L308.0,217.23L308.5,216.06L309.0,216.88L309.5,218.31L310.0,218.26L310.5,216.34L311.0,214.28L311.5,214.15L312.0,215.99L312.5,217.77L313.0,217.61L313.5,215.89L314.0,214.88L314.5,216.18L315.0,218.85L315.5,220.24L316.0,218.77L316.5,215.63L317.0,213.66L317.5,214.58L318.0,217.42L318.5,219.82L319.0,219.92L319.5,217.85L320.0,215.32L320.5,213.89L321.0,213.86L321.5,214.65L322.0,215.79L322.5,217.08L323.0,218.21L323.5,218.68L324.0,218.42L324.5,218.17L325.0,218.67L325.5,219.56L326.0,219.37L326.5,217.12L327.0,213.96L327.5,212.03L328.0,212.44L328.5,214.19L329.0,215.50L329.5,215.91L330.0,216.69L330.5,218.98L331.0,221.90L331.5,223.01L332.0,220.86L332.5,216.77L333.0,213.81L333.5,213.83L334.0,215.74L334.5,216.80L335.0,216.01L335.5,215.29L336.0,215.86L336.5,216.80L337.0,218.02L337.5,221.17L338.0,224.96L338.5,227.81L339.0,228.51L339.5,225.63L340.0,220.11L340.5,214.91L341.0,212.80L341.5,213.80L342.0,215.80L342.5,216.80L343.0,216.21L343.5,216.94L344.0,217.61L344.5,216.87L345.0,216.01L345.5,218.07L346.0,222.37L346.5,225.10L347.0,222.98L347.5,216.89L348.0,211.47L348.5,210.71L349.0,214.06L349.5,217.11L350.0,216.28L350.5,212.61L351.0,210.59L351.5,213.34L352.0,219.35L352.5,224.11L353.0,224.58L353.5,221.66L354.0,218.45L354.5,216.68L355.0,215.56L355.5,213.84L356.0,211.96L356.5,211.77L357.0,214.07L357.5,217.43L358.0,219.60L358.5,219.74L359.0,218.84L359.5,217.96L360.0,216.95L360.5,215.17L361.0,213.31L361.5,213.36L362.0,216.35L362.5,220.57L363.0,222.73L363.5,221.15L364.0,217.50L364.5,214.85L365.0,214.46L365.5,214.78L366.0,213.98L366.5,212.62L367.0,213.19L367.5,216.75L368.0,220.95L368.5,221.99L369.0,218.78L369.5,214.49L370.0,213.57L370.5,217.15L371.0,221.77L371.5,222.83L372.0,219.09L372.5,213.71L373.0,210.91L373.5,212.06L374.0,214.97L374.5,216.67L375.0,216.37L375.5,215.78L376.0,216.81L376.5,219.39L377.0,221.55L377.5,221.32L378.0,218.58L378.5,215.19L379.0,213.46L379.5,214.34L380.0,216.62L380.5,218.05L381.0,217.21L381.5,214.92L382.0,213.58L382.5,215.01L383.0,218.48L383.5,221.10L384.0,220.43L384.5,216.85L385.0,213.41L385.5,212.95L386.0,215.57L386.5,218.71L387.0,219.78L387.5,218.54L388.0,216.86L388.5,216.43L389.0,217.08L389.5,217.42L390.0,216.61L390.5,215.24L391.0,214.49L391.5,214.77L392.0,215.56L392.5,216.35L393.0,217.20L393.5,218.34L394.0,219.42L394.5,219.61L395.0,218.58L395.5,216.91L396.0,215.59L396.5,215.07L397.0,215.14L397.5,215.52L398.0,216.23L398.5,217.24L399.0,217.98L399.5,217.70L400.0,216.39L400.5,215.11L401.0,215.27L401.5,217.22L402.0,219.50L402.5,220.09L403.0,218.29L403.5,215.54L404.0,214.05L404.5,214.69L405.0,216.29L405.5,217.13L406.0,216.72L406.5,216.22L407.0,216.90L407.5,218.52L408.0,219.43L408.5,218.34L409.0,215.78L409.5,213.79L410.0,214.04L410.5,216.31L411.0,218.74L411.5,219.50L412.0,218.27L412.5,216.27L413.0,215.06L413.5,215.28L414.0,216.38L414.5,217.33L415.0,217.55L415.5,217.21L416.0,216.89L416.5,216.94L417.0,217.17L417.5,217.07L418.0,216.43L418.5,215.64L419.0,215.44L419.5,216.31L420.0,217.86L420.5,219.00L421.0,218.77L421.5,217.15L422.0,215.19L422.5,214.23L423.0,214.88L423.5,216.60L424.0,218.19L424.5,218.77L425.0,218.28L425.5,217.33L426.0,216.48L426.5,215.87L427.0,215.42L427.5,215.25L428.0,215.75L428.5,217.09L429.0,218.72L429.5,219.53L430.0,218.73L430.5,216.64L431.0,214.64L431.5,214.05L432.0,215.07L432.5,216.71L433.0,217.70L433.5,217.69L434.0,217.35L434.5,217.48L435.0,218.08L435.5,218.31L436.0,217.45L436.5,215.75L437.0,214.36L437.5,214.37L438.0,215.86L438.5,217.87L439.0,219.10L439.5,218.81L440.0,217.25L440.5,215.44L441.0,214.48L441.5,214.95L442.0,216.53L442.5,218.22L443.0,219.04L443.5,218.69L444.0,217.73L444.5,216.93L445.0,216.51L445.5,216.08L446.0,215.30L446.5,214.56L447.0,214.72L447.5,216.13L448.0,217.94L448.5,218.72L449.0,217.88L449.5,216.38L450.0,215.89L450.5,217.15L451.0,219.18L451.5,220.13L452.0,218.99L452.5,216.40L453.0,213.98L453.5,212.93L454.0,213.33L454.5,214.54L455.0,216.00L455.5,217.48L456.0,218.83L456.5,219.72L457.0,219.79L457.5,219.00L458.0,217.70L458.5,216.47L459.0,215.72L459.5,215.59L460.0,215.84L460.5,216.01L461.0,215.74L461.5,215.11L462.0,214.82L462.5,215.58L463.0,217.37L463.5,219.13L464.0,219.63L464.5,218.65L465.0,217.26L465.5,216.75L466.0,217.18L466.5,217.33L467.0,216.20L467.5,214.37L468.0,213.63L468.5,215.13L469.0,217.93L469.5,219.80L470.0,219.32L470.5,217.16L471.0,215.25L471.5,214.79L472.0,215.46L472.5,216.26L473.0,216.83L473.5,217.54L474.0,218.55L474.5,219.18L475.0,218.65L475.5,217.13L476.0,215.72L476.5,215.25L477.0,215.44L477.5,215.46L478.0,215.17L478.5,215.44L479.0,216.86L479.5,218.70L480.0,219.32L480.5,218.07L481.0,216.18L481.5,215.56L482.0,216.72L482.5,218.19L483.0,218.20L483.5,216.67L484.0,215.28L484.5,215.41L485.0,216.64L485.5,217.28L486.0,216.52L486.5,215.41L487.0,215.62L487.5,217.39L488.0,219.13L488.5,219.13L489.0,217.39L489.5,215.56L490.0,215.11L490.5,215.95L491.0,216.85L491.5,216.98L492.0,216.70L492.5,216.85L493.0,217.53L493.5,217.99L494.0,217.58L494.5,216.51L495.0,215.67L495.5,215.73L496.0,216.52L496.5,217.33L497.0,217.53L497.5,216.97L498.0,215.94L498.5,215.12L499.0,215.23L499.5,216.59L500.0,218.62L500.5,220.00L501.0,219.64L501.5,217.73L502.0,215.66L502.5,214.82L503.0,215.29L503.5,216.03L504.0,216.08L504.5,215.63L505.0,215.62L505.5,216.49L506.0,217.65L506.5,218.20L507.0,218.01L507.5,217.76L508.0,217.89L508.5,218.02L509.0,217.43L509.5,216.19L510.0,215.23L510.5,215.36L511.0,216.23L511.5,216.73L512.0,216.38L512.5,215.85L513.0,216.16L513.5,217.26L514.0,218.04L514.5,217.68L515.0,216.70L515.5,216.44L516.0,217.37L516.5,218.41L517.0,218.14L517.5,216.55L518.0,215.15L518.5,215.30L519.0,216.64L519.5,217.57L520.0,217.07L520.5,215.91L521.0,215.60L521.5,216.58L522.0,217.71L522.5,217.65L523.0,216.51L523.5,215.74L524.0,216.40L524.5,217.89L525.0,218.63L525.5,217.90L526.0,216.61L526.5,216.18L527.0,216.91L527.5,217.63L528.0,217.15L528.5,215.56L529.0,214.23L529.5,214.34L530.0,215.78L530.5,217.43L531.0,218.31L531.5,218.31L532.0,217.97L532.5,217.71L533.0,217.59L533.5,217.42L534.0,217.15L534.5,216.80L535.0,216.40L535.5,215.95L536.0,215.60L536.5,215.54L537.0,215.78L537.5,216.11L538.0,216.32L538.5,216.49L539.0,216.93L539.5,217.74L540.0,218.59L540.5,218.95L541.0,218.57L541.5,217.68L542.0,216.64L542.5,215.70L543.0,214.96L543.5,214.65L544.0,215.07L544.5,216.22L545.0,217.53L545.5,218.20L546.0,217.90L546.5,217.08L547.0,216.51L547.5,216.50L548.0,216.75L548.5,216.87L549.0,216.87L549.5,217.04L550.0,217.46L550.5,217.69L551.0,217.34L551.5,216.58L552.0,216.03L552.5,216.09L553.0,216.43L553.5,216.39L554.0,215.86L554.5,215.49L555.0,215.99L555.5,217.27L556.0,218.41L556.5,218.63L557.0,218.01L557.5,217.32L558.0,217.06L558.5,216.97L559.0,216.47L559.5,215.57L560.0,214.99L560.5,215.42L561.0,216.67L561.5,217.74L562.0,217.83L562.5,217.05L563.0,216.29L563.5,216.29L564.0,216.99L564.5,217.66L565.0,217.72L565.5,217.18L566.0,216.52L566.5,216.20L567.0,216.31L567.5,216.62L568.0,216.90L568.5,217.02L569.0,217.01L569.5,216.90L570.0,216.74L570.5,216.53L571.0,216.35L571.5,216.29L572.0,216.45L572.5,216.82L573.0,217.22L573.5,217.43L574.0,217.34L574.5,217.09L575.0,216.92L575.5,216.93L576.0,216.96L576.5,216.76L577.0,216.32L577.5,215.97L578.0,216.07L578.5,216.62L579.0,217.28L579.5,217.58L580.0,217.38L580.5,216.86L581.0,216.34L581.5,216.04L582.0,216.06L582.5,216.41L583.0,217.04L583.5,217.70L584.0,218.04L584.5,217.85L585.0,217.28L585.5,216.68L586.0,216.30L586.5,216.07L587.0,215.81L587.5,215.61L588.0,215.76L588.5,216.44L589.0,217.32L589.5,217.83L590.0,217.69L590.5,217.21L591.0,216.99L591.5,217.26L592.0,217.66L592.5,217.62L593.0,216.97L593.5,216.07L594.0,215.44L594.5,215.31L595.0,215.55L595.5,216.01L596.0,216.66L596.5,217.45L597.0,218.19L597.5,218.50L598.0,218.21L598.5,217.47L599.0,216.59L599.5,215.88L600.0,215.47L600.5,215.47L601.0,215.98L601.5,216.89L602.0,217.77L602.5,218.07L603.0,217.62L603.5,216.76L604.0,216.08L604.5,215.91L605.0,216.14L605.5,216.48L606.0,216.86L606.5,217.34L607.0,217.81L607.5,217.90L608.0,217.36L608.5,216.44L609.0,215.81L609.5,215.91L610.0,216.51L610.5,216.95L611.0,216.83L611.5,216.44L612.0,216.38L612.5,216.88L613.0,217.53L613.5,217.75L614.0,217.38L614.5,216.80L615.0,216.45L615.5,216.44L616.0,216.58L616.5,216.65L617.0,216.62L617.5,216.56L618.0,216.49L618.5,216.46L619.0,216.61L619.5,217.06L620.0,217.63L620.5,217.90L621.0,217.53L621.5,216.72L622.0,216.06L622.5,215.99L623.0,216.33L623.5,216.59L624.0,216.54L624.5,216.51L625.0,216.85L625.5,217.45L626.0,217.72L626.5,217.28L627.0,216.46L627.5,216.03L628.0,216.37L628.5,217.09L629.0,217.49L629.5,217.30L630.0,216.85L630.5,216.57L631.0,216.49L631.5,216.37L632.0,216.16L632.5,216.18L633.0,216.65L633.5,217.29L634.0,217.53L634.5,217.17L635.0,216.65L635.5,216.60L636.0,217.08L636.5,217.54L637.0,217.46L637.5,216.91L638.0,216.44L638.5,216.31L639.0,216.28L639.5,216.01L640.0,215.67L640.5,215.85L641.0,216.79L641.5,217.91L642.0,218.33L642.5,217.81L643.0,217.03L643.5,216.80L644.0,217.11L644.5,217.20L645.0,216.54L645.5,215.55L646.0,215.23L646.5,216.03L647.0,217.28L647.5,217.89L648.0,217.45L648.5,216.57L649.0,216.17L649.5,216.50L650.0,217.07L650.5,217.29L651.0,217.08L651.5,216.83L652.0,216.84L652.5,217.03L653.0,217.15L653.5,217.09L654.0,216.91L654.5,216.65L655.0,216.29L655.5,215.93L656.0,215.80L656.5,216.10L657.0,216.68L657.5,217.16L658.0,217.32L658.5,217.35L659.0,217.54L659.5,217.86L660.0,217.88L660.5,217.29L661.0,216.37L661.5,215.73L662.0,215.74L662.5,216.14L663.0,216.39L663.5,216.34L664.0,216.30L664.5,216.65L665.0,217.26L665.5,217.68L666.0,217.63L666.5,217.32L667.0,217.14L667.5,217.13L668.0,217.01L668.5,216.62L669.0,216.21L669.5,216.17L670.0,216.51L670.5,216.78L671.0,216.67L671.5,216.35L672.0,216.33L672.5,216.77L673.0,217.24L673.5,217.26L674.0,216.91L674.5,216.74L675.0,217.08L675.5,217.54L676.0,217.46L676.5,216.78L677.0,216.17L677.5,216.32L678.0,217.04L678.5,217.36L679.0,216.67L679.5,215.48L680.0,215.00L680.5,215.87L681.0,217.44L681.5,218.45L682.0,218.25L682.5,217.35L683.0,216.75L683.5,216.83L684.0,217.11L684.5,216.98L685.0,216.41L685.5,215.94L686.0,215.97L686.5,216.36L687.0,216.63L687.5,216.60L688.0,216.51L688.5,216.72L689.0,217.28L689.5,217.85L690.0,218.06L690.5,217.78L691.0,217.13" fill="none" stroke="#000" stroke-width="1.05" stroke-linejoin="round"/>
<path d="M96.0,300.80L96.5,300.80L97.0,300.80L97.5,300.80L98.0,300.80L98.5,300.80L99.0,300.80L99.5,300.80L100.0,300.80L100.5,300.80L101.0,300.80L101.5,300.80L102.0,300.80L102.5,300.80L103.0,300.80L103.5,300.80L104.0,300.80L104.5,300.80L105.0,300.80L105.5,300.80L106.0,300.80L106.5,300.80L107.0,300.80L107.5,300.80L108.0,300.80L108.5,300.80L109.0,300.80L109.5,300.80L110.0,300.80L110.5,300.80L111.0,300.80L111.5,300.80L112.0,300.80L112.5,300.80L113.0,300.80L113.5,300.80L114.0,300.80L114.5,300.80L115.0,300.80L115.5,300.80L116.0,300.80L116.5,300.80L117.0,300.80L117.5,300.80L118.0,300.80L118.5,300.80L119.0,300.80L119.5,300.80L120.0,300.80L120.5,300.80L121.0,300.80L121.5,300.80L122.0,300.80L122.5,300.80L123.0,300.80L123.5,300.80L124.0,300.80L124.5,300.80L125.0,300.80L125.5,300.80L126.0,300.80L126.5,300.80L127.0,300.80L127.5,300.80L128.0,300.80L128.5,300.80L129.0,300.80L129.5,300.80L130.0,300.80L130.5,300.80L131.0,300.80L131.5,300.80L132.0,300.80L132.5,300.80L133.0,300.80L133.5,300.80L134.0,300.80L134.5,300.80L135.0,300.80L135.5,300.80L136.0,300.80L136.5,300.80L137.0,300.80L137.5,300.80L138.0,300.80L138.5,300.80L139.0,300.80L139.5,300.80L140.0,300.80L140.5,300.80L141.0,300.80L141.5,300.80L142.0,300.80L142.5,300.80L143.0,300.80L143.5,300.80L144.0,300.80L144.5,300.80L145.0,300.80L145.5,300.80L146.0,300.80L146.5,300.80L147.0,300.80L147.5,300.80L148.0,300.80L148.5,300.80L149.0,300.80L149.5,300.80L150.0,300.80L150.5,300.80L151.0,300.80L151.5,300.80L152.0,300.80L152.5,300.80L153.0,300.80L153.5,300.80L154.0,300.80L154.5,300.80L155.0,300.80L155.5,300.80L156.0,300.80L156.5,300.80L157.0,300.80L157.5,300.80L158.0,300.80L158.5,300.80L159.0,300.80L159.5,300.80L160.0,300.80L160.5,300.80L161.0,300.80L161.5,300.80L162.0,300.80L162.5,300.80L163.0,300.80L163.5,300.80L164.0,300.80L164.5,300.80L165.0,300.80L165.5,300.80L166.0,300.80L166.5,300.80L167.0,300.80L167.5,300.80L168.0,300.80L168.5,300.80L169.0,300.80L169.5,300.80L170.0,300.80L170.5,300.80L171.0,300.80L171.5,300.80L172.0,300.80L172.5,300.80L173.0,300.80L173.5,300.80L174.0,300.80L174.5,300.80L175.0,300.80L175.5,300.80L176.0,300.80L176.5,300.80L177.0,300.80L177.5,300.80L178.0,300.80L178.5,300.80L179.0,300.80L179.5,300.80L180.0,300.80L180.5,300.80L181.0,300.80L181.5,300.80L182.0,300.80L182.5,300.80L183.0,300.80L183.5,300.80L184.0,300.80L184.5,300.80L185.0,300.80L185.5,300.80L186.0,300.80L186.5,300.80L187.0,300.80L187.5,300.80L188.0,300.80L188.5,300.80L189.0,300.80L189.5,300.80L190.0,300.80L190.5,300.80L191.0,300.80L191.5,300.80L192.0,300.80L192.5,300.80L193.0,300.80L193.5,300.80L194.0,300.80L194.5,300.80L195.0,300.80L195.5,300.80L196.0,300.80L196.5,300.80L197.0,300.80L197.5,300.80L198.0,300.80L198.5,300.80L199.0,300.80L199.5,300.80L200.0,300.80L200.5,300.80L201.0,300.80L201.5,300.80L202.0,300.80L202.5,300.80L203.0,300.80L203.5,300.80L204.0,300.80L204.5,300.80L205.0,300.80L205.5,300.80L206.0,300.80L206.5,300.80L207.0,300.80L207.5,300.80L208.0,300.80L208.5,300.80L209.0,300.80L209.5,300.80L210.0,300.80L210.5,300.80L211.0,300.80L211.5,300.80L212.0,300.80L212.5,300.80L213.0,300.80L213.5,300.80L214.0,300.80L214.5,300.80L215.0,300.80L215.5,300.80L216.0,300.80L216.5,300.80L217.0,300.80L217.5,300.80L218.0,300.80L218.5,300.80L219.0,300.80L219.5,300.80L220.0,300.80L220.5,300.80L221.0,300.80L221.5,300.80L222.0,300.80L222.5,300.80L223.0,300.80L223.5,300.80L224.0,300.80L224.5,300.80L225.0,300.80L225.5,300.80L226.0,300.80L226.5,300.80L227.0,300.80L227.5,300.80L228.0,300.80L228.5,300.80L229.0,300.80L229.5,300.80L230.0,300.80L230.5,300.80L231.0,300.80L231.5,300.80L232.0,300.80L232.5,300.80L233.0,301.17L233.5,301.20L234.0,300.96L234.5,299.87L235.0,298.86L235.5,298.90L236.0,299.96L236.5,301.04L237.0,301.26L237.5,300.99L238.0,300.77L238.5,300.64L239.0,300.64L239.5,300.41L240.0,299.53L240.5,298.90L241.0,299.88L241.5,301.71L242.0,302.25L242.5,301.33L243.0,300.91L243.5,301.98L244.0,303.25L244.5,303.72L245.0,304.22L245.5,305.30L246.0,306.11L246.5,305.47L247.0,303.11L247.5,300.41L248.0,298.58L248.5,298.16L249.0,298.58L249.5,299.19L250.0,299.90L250.5,300.40L251.0,300.48L251.5,300.70L252.0,301.11L252.5,301.20L253.0,300.77L253.5,300.21L254.0,299.85L254.5,299.33L255.0,299.05L255.5,299.80L256.0,301.07L256.5,301.45L257.0,300.79L257.5,300.38L258.0,301.01L258.5,302.22L259.0,303.01L259.5,302.66L260.0,301.18L260.5,299.77L261.0,299.55L261.5,300.16L262.0,300.53L262.5,300.62L263.0,300.76L263.5,300.47L264.0,299.48L264.5,298.96L265.0,299.91L265.5,301.48L266.0,302.40L266.5,302.64L267.0,302.55L267.5,301.87L268.0,300.69L268.5,300.01L269.0,300.28L269.5,300.72L270.0,300.60L270.5,300.14L271.0,299.94L271.5,300.19L272.0,300.48L272.5,300.27L273.0,299.81L273.5,300.21L274.0,301.88L274.5,303.42L275.0,303.13L275.5,301.19L276.0,299.44L276.5,299.20L277.0,300.36L277.5,301.85L278.0,302.28L278.5,301.01L279.0,299.10L279.5,298.42L280.0,299.46L280.5,301.05L281.0,302.15L281.5,302.59L282.0,302.12L282.5,300.61L283.0,299.14L283.5,299.21L284.0,300.75L284.5,302.24L285.0,302.62L285.5,301.92L286.0,300.50L286.5,299.16L287.0,299.22L287.5,300.76L288.0,301.95L288.5,301.46L289.0,300.38L289.5,300.20L290.0,300.48L290.5,300.37L291.0,300.43L291.5,301.05L292.0,301.11L292.5,300.28L293.0,300.38L293.5,302.24L294.0,303.53L294.5,302.22L295.0,299.99L295.5,299.48L296.0,300.21L296.5,300.17L297.0,299.47L297.5,299.61L298.0,300.45L298.5,300.81L299.0,300.85L299.5,301.34L300.0,301.76L300.5,301.37L301.0,300.99L301.5,301.58L302.0,302.29L302.5,301.96L303.0,301.14L303.5,300.66L304.0,299.89L304.5,298.44L305.0,297.82L305.5,299.22L306.0,301.21L306.5,301.67L307.0,300.89L307.5,300.74L308.0,301.92L308.5,303.38L309.0,303.78L309.5,302.54L310.0,300.36L310.5,298.86L311.0,298.94L311.5,299.74L312.0,300.04L312.5,299.85L313.0,299.85L313.5,300.19L314.0,300.63L314.5,301.06L315.0,301.36L315.5,301.54L316.0,302.03L316.5,302.84L317.0,303.06L317.5,302.10L318.0,300.75L318.5,299.83L319.0,299.07L319.5,298.19L320.0,297.87L320.5,298.64L321.0,300.15L321.5,301.86L322.0,303.34L322.5,303.86L323.0,302.87L323.5,301.03L324.0,299.73L324.5,299.63L325.0,300.36L325.5,301.25L326.0,301.77L326.5,301.70L327.0,301.03L327.5,299.63L328.0,297.89L328.5,297.29L329.0,299.11L329.5,302.24L330.0,304.12L330.5,303.80L331.0,302.49L331.5,301.27L332.0,300.23L332.5,299.51L333.0,300.03L333.5,300.74L334.0,301.34L334.5,302.14L335.0,302.98L335.5,303.40L336.0,304.13L336.5,306.17L337.0,309.72L337.5,313.53L338.0,316.50L338.5,318.73L339.0,320.67L339.5,322.27L340.0,322.76L340.5,316.14L341.0,305.63L341.5,300.34L342.0,299.81L342.5,299.48L343.0,299.58L343.5,297.26L344.0,287.72L344.5,276.68L345.0,271.20L345.5,276.78L346.0,291.67L346.5,303.05L347.0,304.04L347.5,303.58L348.0,302.68L348.5,301.79L349.0,301.27L349.5,300.82L350.0,300.16L350.5,299.52L351.0,299.18L351.5,297.97L352.0,295.52L352.5,293.43L353.0,292.89L353.5,293.17L354.0,293.66L354.5,295.63L355.0,298.81L355.5,302.05L356.0,304.10L356.5,304.12L357.0,302.16L357.5,299.46L358.0,298.14L358.5,298.40L359.0,298.55L359.5,298.47L360.0,299.73L360.5,302.00L361.0,303.11L361.5,302.69L362.0,301.90L362.5,300.79L363.0,299.13L363.5,297.81L364.0,297.24L364.5,296.19L365.0,294.10L365.5,292.43L366.0,292.02L366.5,291.59L367.0,290.27L367.5,289.24L368.0,289.95L368.5,292.03L369.0,294.17L369.5,295.83L370.0,297.39L370.5,299.49L371.0,302.15L371.5,304.62L372.0,306.32L372.5,307.51L373.0,308.39L373.5,308.48L374.0,307.70L374.5,306.69L375.0,306.03L375.5,305.52L376.0,304.74L376.5,303.76L377.0,302.89L377.5,302.44L378.0,302.48L378.5,302.11L379.0,300.23L379.5,297.08L380.0,293.18L380.5,289.26L381.0,286.39L381.5,285.22L382.0,284.98L382.5,285.69L383.0,289.62L383.5,297.03L384.0,305.67L384.5,311.91L385.0,313.83L385.5,312.56L386.0,309.61L386.5,305.52L387.0,301.43L387.5,298.61L388.0,297.67L388.5,297.35L389.0,297.70L389.5,297.91L390.0,297.13L390.5,295.97L391.0,295.45L391.5,295.99L392.0,297.69L392.5,300.08L393.0,301.80L393.5,301.52L394.0,301.29L394.5,303.28L395.0,306.19L395.5,307.84L396.0,308.45L396.5,309.28L397.0,309.61L397.5,308.23L398.0,306.10L398.5,304.47L399.0,302.38L399.5,298.75L400.0,294.83L400.5,292.43L401.0,291.51L401.5,291.19L402.0,291.87L402.5,294.31L403.0,297.50L403.5,300.02L404.0,300.89L404.5,300.88L405.0,301.22L405.5,302.10L406.0,303.74L406.5,305.79L407.0,307.24L407.5,307.37L408.0,306.70L408.5,306.42L409.0,306.63L409.5,306.30L410.0,305.29L410.5,304.58L411.0,304.22L411.5,303.20L412.0,301.70L412.5,301.13L413.0,301.59L413.5,301.66L414.0,301.19L414.5,301.24L415.0,301.59L415.5,301.16L416.0,300.22L416.5,299.87L417.0,299.99L417.5,299.84L418.0,299.76L418.5,300.08L419.0,300.01L419.5,298.79L420.0,297.22L420.5,296.66L421.0,296.86L421.5,296.46L422.0,295.21L422.5,294.41L423.0,294.96L423.5,295.99L424.0,296.38L424.5,296.54L425.0,297.45L425.5,298.79L426.0,299.70L426.5,300.48L427.0,301.69L427.5,302.85L428.0,303.42L428.5,303.90L429.0,304.42L429.5,304.10L430.0,303.01L430.5,302.57L431.0,302.90L431.5,302.45L432.0,300.74L432.5,299.09L433.0,298.15L433.5,297.31L434.0,296.35L434.5,295.54L435.0,294.60L435.5,293.54L436.0,293.27L436.5,293.93L437.0,294.54L437.5,294.94L438.0,296.30L438.5,299.02L439.0,301.73L439.5,303.37L440.0,304.19L440.5,304.47L441.0,304.39L441.5,304.50L442.0,304.67L442.5,303.89L443.0,301.92L443.5,300.23L444.0,299.98L444.5,300.15L445.0,299.25L445.5,297.71L446.0,296.95L446.5,297.04L447.0,296.91L447.5,296.66L448.0,297.49L448.5,299.47L449.0,301.45L449.5,302.85L450.0,304.03L450.5,304.87L451.0,304.59L451.5,302.65L452.0,300.31L452.5,298.29L453.0,296.52L453.5,295.69L454.0,295.81L454.5,296.46L455.0,297.79L455.5,299.80L456.0,302.50L456.5,304.46L457.0,304.61L457.5,303.47L458.0,302.21L458.5,301.63L459.0,301.40L459.5,300.83L460.0,299.60L460.5,298.25L461.0,297.77L461.5,298.32L462.0,298.86L462.5,298.88L463.0,298.82L463.5,298.77L464.0,298.41L464.5,298.23L465.0,298.88L465.5,299.69L466.0,299.62L466.5,299.23L467.0,299.89L467.5,301.13L468.0,302.12L468.5,303.20L469.0,304.56L469.5,305.24L470.0,304.78L470.5,303.86L471.0,302.83L471.5,301.27L472.0,299.35L472.5,297.90L473.0,297.04L473.5,296.24L474.0,295.47L474.5,295.10L475.0,295.14L475.5,295.59L476.0,296.70L476.5,298.25L477.0,299.32L477.5,299.43L478.0,299.14L478.5,299.34L479.0,300.29L479.5,301.17L480.0,301.38L480.5,301.51L481.0,302.22L481.5,303.12L482.0,303.70L482.5,304.38L483.0,305.45L483.5,306.04L484.0,305.66L484.5,305.21L485.0,305.24L485.5,304.85L486.0,303.55L486.5,302.33L487.0,301.72L487.5,300.87L488.0,299.38L488.5,298.06L489.0,297.31L489.5,296.68L490.0,296.00L490.5,295.69L491.0,295.94L491.5,296.70L492.0,297.67L492.5,298.32L493.0,298.59L493.5,299.33L494.0,300.72L494.5,301.47L495.0,300.88L495.5,300.17L496.0,300.27L496.5,300.58L497.0,300.54L497.5,300.41L498.0,300.22L498.5,299.76L499.0,299.59L499.5,300.30L500.0,301.15L500.5,301.47L501.0,301.86L501.5,302.87L502.0,304.00L502.5,304.73L503.0,304.94L503.5,304.47L504.0,303.51L504.5,302.81L505.0,302.45L505.5,300.97L506.0,298.20L506.5,296.21L507.0,296.20L507.5,296.62L508.0,296.72L508.5,297.18L509.0,297.95L509.5,298.13L510.0,297.85L510.5,297.93L511.0,298.28L511.5,298.43L512.0,298.64L512.5,299.15L513.0,299.55L513.5,299.60L514.0,299.48L514.5,299.14L515.0,298.82L515.5,299.13L516.0,299.84L516.5,300.01L517.0,299.74L517.5,299.97L518.0,300.50L518.5,300.33L519.0,299.84L519.5,300.12L520.0,301.10L520.5,301.93L521.0,302.55L521.5,303.32L522.0,303.98L522.5,304.10L523.0,303.80L523.5,303.48L524.0,303.35L524.5,303.21L525.0,302.62L525.5,301.63L526.0,300.83L526.5,300.14L527.0,298.73L527.5,296.95L528.0,296.29L528.5,296.76L529.0,296.76L529.5,296.13L530.0,296.09L530.5,296.40L531.0,296.11L531.5,296.17L532.0,297.68L532.5,299.06L533.0,298.74L533.5,298.20L534.0,298.97L534.5,299.61L535.0,299.23L535.5,299.43L536.0,300.80L536.5,301.68L537.0,301.68L537.5,302.31L538.0,303.42L538.5,303.38L539.0,302.51L539.5,302.26L540.0,302.13L540.5,300.87L541.0,299.28L541.5,298.74L542.0,299.02L542.5,299.69L543.0,301.03L543.5,302.65L544.0,303.47L544.5,303.43L545.0,303.31L545.5,303.39L546.0,303.50L546.5,303.62L547.0,303.37L547.5,302.18L548.0,300.50L548.5,299.39L549.0,299.06L549.5,299.00L550.0,298.99L550.5,298.89L551.0,298.52L551.5,298.18L552.0,298.30L552.5,298.46L553.0,298.33L553.5,298.41L554.0,298.93L554.5,299.26L555.0,299.27L555.5,299.34L556.0,299.07L556.5,298.29L557.0,298.30L557.5,299.65L558.0,300.49L558.5,299.54L559.0,298.39L559.5,298.58L560.0,299.21L560.5,299.34L561.0,299.43L561.5,299.48L562.0,298.96L562.5,298.68L563.0,299.55L563.5,300.42L564.0,300.07L564.5,299.62L565.0,300.39L565.5,301.56L566.0,301.91L566.5,301.72L567.0,301.50L567.5,301.28L568.0,301.30L568.5,301.64L569.0,301.84L569.5,301.75L570.0,301.80L570.5,301.77L571.0,301.31L571.5,301.12L572.0,301.69L572.5,302.04L573.0,301.74L573.5,301.89L574.0,302.59L574.5,302.50L575.0,301.99L575.5,302.69L576.0,303.85L576.5,303.47L577.0,302.49L577.5,302.73L578.0,303.00L578.5,301.26L579.0,298.99L579.5,298.66L580.0,299.51L580.5,299.48L581.0,298.93L581.5,299.21L582.0,299.80L582.5,299.93L583.0,300.10L583.5,300.64L584.0,301.04L584.5,301.00L585.0,300.61L585.5,299.98L586.0,299.41L586.5,299.05L587.0,298.49L587.5,297.74L588.0,297.74L588.5,298.51L589.0,298.60L589.5,297.88L590.0,297.90L590.5,298.86L591.0,299.30L591.5,299.10L592.0,299.57L592.5,300.55L593.0,300.65L593.5,299.94L594.0,299.55L594.5,299.62L595.0,300.03L595.5,301.06L596.0,302.13L596.5,302.13L597.0,301.38L597.5,301.29L598.0,302.03L598.5,302.76L599.0,303.22L599.5,303.50L600.0,303.38L600.5,303.09L601.0,303.11L601.5,303.06L602.0,302.38L602.5,301.69L603.0,301.68L603.5,301.79L604.0,301.22L604.5,300.21L605.0,299.25L605.5,298.73L606.0,299.02L606.5,299.65L607.0,299.33L607.5,298.36L608.0,298.56L608.5,299.88L609.0,300.33L609.5,299.87L610.0,300.34L610.5,301.41L611.0,301.10L611.5,299.94L612.0,300.01L612.5,300.90L613.0,300.95L613.5,300.55L614.0,300.54L614.5,300.09L615.0,299.02L615.5,298.96L616.0,300.12L616.5,300.57L617.0,299.94L617.5,299.73L618.0,299.98L618.5,299.53L619.0,298.82L619.5,298.98L620.0,299.44L620.5,299.37L621.0,299.38L621.5,299.75L622.0,299.42L622.5,298.34L623.0,297.95L623.5,298.62L624.0,299.15L624.5,299.15L625.0,299.30L625.5,299.58L626.0,299.41L626.5,298.98L627.0,299.09L627.5,299.91L628.0,300.79L628.5,301.10L629.0,300.94L629.5,301.11L630.0,301.83L630.5,302.22L631.0,301.77L631.5,301.45L632.0,302.05L632.5,302.79L633.0,302.85L633.5,302.57L634.0,302.24L634.5,301.46L635.0,300.50L635.5,300.25L636.0,300.50L636.5,300.41L637.0,300.18L637.5,300.25L638.0,300.23L638.5,299.98L639.0,300.24L639.5,300.93L640.0,301.09L640.5,300.88L641.0,301.19L641.5,301.56L642.0,301.03L642.5,300.30L643.0,300.40L643.5,300.61L644.0,300.15L644.5,299.86L645.0,300.29L645.5,300.40L646.0,299.74L646.5,299.51L647.0,300.16L647.5,300.76L648.0,300.85L648.5,300.79L649.0,300.61L649.5,300.27L650.0,300.42L650.5,301.25L651.0,301.87L651.5,301.63L652.0,300.99L652.5,300.59L653.0,300.74L653.5,301.44L654.0,301.99L654.5,301.63L655.0,301.08L655.5,301.63L656.0,302.71L656.5,302.59L657.0,301.44L657.5,301.02L658.0,301.76L658.5,302.54L659.0,302.72L659.5,302.38L660.0,301.45L660.5,300.41L661.0,300.24L661.5,300.77L662.0,300.75L662.5,300.09L663.0,299.90L663.5,300.24L664.0,300.10L664.5,299.41L665.0,299.11L665.5,299.42L666.0,299.74L666.5,299.75L667.0,299.49L667.5,299.06L668.0,298.81L668.5,298.85L669.0,298.78L669.5,298.52L670.0,298.72L670.5,299.42L671.0,299.46L671.5,298.47L672.0,297.78L672.5,298.29L673.0,299.09L673.5,299.09L674.0,298.58L674.5,298.22L675.0,298.06L675.5,298.01L676.0,298.30L676.5,298.82L677.0,298.99L677.5,298.69L678.0,298.60L678.5,299.09L679.0,299.58L679.5,299.59L680.0,299.66L680.5,300.45L681.0,301.32L681.5,301.10L682.0,300.20L682.5,300.12L683.0,300.86L683.5,301.04L684.0,300.47L684.5,300.35L685.0,300.73L685.5,300.49L686.0,299.83L686.5,299.92L687.0,300.51L687.5,300.10L688.0,299.41L688.5,299.79L689.0,300.51L689.5,300.19L690.0,299.38L690.5,299.48L691.0,300.36" fill="none" stroke="#000" stroke-width="1.05" stroke-linejoin="round"/>
<path d="M96.0,339.15L96.5,339.15L97.0,339.15L97.5,339.15L98.0,339.15L98.5,339.15L99.0,339.15L99.5,339.15L100.0,339.15L100.5,339.15L101.0,339.15L101.5,339.15L102.0,339.15L102.5,339.15L103.0,339.15L103.5,339.15L104.0,339.15L104.5,339.15L105.0,339.15L105.5,339.15L106.0,339.15L106.5,339.15L107.0,339.15L107.5,339.15L108.0,339.15L108.5,339.15L109.0,339.15L109.5,339.15L110.0,339.15L110.5,339.15L111.0,339.15L111.5,339.15L112.0,339.15L112.5,339.15L113.0,339.15L113.5,339.15L114.0,339.15L114.5,339.15L115.0,339.15L115.5,339.15L116.0,339.15L116.5,339.15L117.0,339.15L117.5,339.15L118.0,339.15L118.5,339.15L119.0,339.15L119.5,339.15L120.0,339.15L120.5,339.15L121.0,339.15L121.5,339.15L122.0,339.15L122.5,339.15L123.0,339.15L123.5,339.15L124.0,339.15L124.5,339.15L125.0,339.15L125.5,339.15L126.0,339.15L126.5,339.15L127.0,339.15L127.5,339.15L128.0,339.15L128.5,339.15L129.0,339.15L129.5,339.15L130.0,339.15L130.5,339.15L131.0,339.15L131.5,339.15L132.0,339.15L132.5,339.15L133.0,339.15L133.5,339.15L134.0,339.15L134.5,339.15L135.0,339.15L135.5,339.15L136.0,339.15L136.5,339.15L137.0,339.15L137.5,339.15L138.0,339.15L138.5,339.15L139.0,339.15L139.5,339.15L140.0,339.15L140.5,339.15L141.0,339.15L141.5,339.15L142.0,339.15L142.5,339.15L143.0,339.15L143.5,339.15L144.0,339.15L144.5,339.15L145.0,339.15L145.5,339.15L146.0,339.15L146.5,339.15L147.0,339.15L147.5,339.15L148.0,339.15L148.5,339.15L149.0,339.15L149.5,339.15L150.0,339.15L150.5,339.15L151.0,339.15L151.5,339.15L152.0,339.15L152.5,339.15L153.0,339.15L153.5,339.15L154.0,339.15L154.5,339.15L155.0,339.15L155.5,339.15L156.0,339.15L156.5,339.15L157.0,339.15L157.5,339.15L158.0,339.15L158.5,339.15L159.0,339.15L159.5,339.15L160.0,339.15L160.5,339.15L161.0,339.15L161.5,339.15L162.0,339.15L162.5,339.15L163.0,339.15L163.5,339.15L164.0,339.15L164.5,339.15L165.0,339.15L165.5,339.15L166.0,339.15L166.5,339.15L167.0,339.15L167.5,339.15L168.0,339.15L168.5,339.15L169.0,339.15L169.5,339.15L170.0,339.15L170.5,339.15L171.0,339.15L171.5,339.15L172.0,339.15L172.5,339.15L173.0,339.15L173.5,339.15L174.0,339.15L174.5,339.15L175.0,339.15L175.5,339.15L176.0,339.15L176.5,339.15L177.0,339.15L177.5,339.15L178.0,339.15L178.5,339.15L179.0,339.15L179.5,339.15L180.0,339.15L180.5,339.15L181.0,339.15L181.5,339.15L182.0,339.15L182.5,339.15L183.0,339.15L183.5,339.15L184.0,339.15L184.5,339.15L185.0,339.15L185.5,339.15L186.0,339.15L186.5,339.15L187.0,339.15L187.5,339.15L188.0,339.15L188.5,339.15L189.0,339.15L189.5,339.15L190.0,339.15L190.5,339.15L191.0,339.15L191.5,339.15L192.0,339.15L192.5,339.15L193.0,339.15L193.5,339.15L194.0,339.15L194.5,339.15L195.0,339.15L195.5,339.15L196.0,339.15L196.5,339.15L197.0,339.15L197.5,339.15L198.0,339.15L198.5,339.15L199.0,339.15L199.5,339.15L200.0,339.15L200.5,339.15L201.0,339.15L201.5,339.15L202.0,339.15L202.5,339.15L203.0,339.15L203.5,339.15L204.0,339.15L204.5,339.15L205.0,339.15L205.5,339.15L206.0,339.15L206.5,339.15L207.0,339.15L207.5,339.15L208.0,339.15L208.5,339.15L209.0,339.15L209.5,339.15L210.0,339.15L210.5,339.15L211.0,339.15L211.5,339.15L212.0,339.15L212.5,339.15L213.0,339.15L213.5,339.15L214.0,339.15L214.5,339.15L215.0,339.15L215.5,339.15L216.0,339.15L216.5,339.15L217.0,339.15L217.5,339.15L218.0,339.15L218.5,339.15L219.0,339.15L219.5,339.15L220.0,339.15L220.5,339.15L221.0,339.15L221.5,339.15L222.0,339.15L222.5,339.15L223.0,339.15L223.5,339.15L224.0,339.15L224.5,339.15L225.0,339.15L225.5,339.15L226.0,339.15L226.5,339.15L227.0,339.15L227.5,339.15L228.0,339.15L228.5,339.15L229.0,339.15L229.5,339.15L230.0,339.15L230.5,339.15L231.0,339.15L231.5,339.15L232.0,339.15L232.5,339.15L233.0,339.29L233.5,338.33L234.0,336.76L234.5,335.40L235.0,334.56L235.5,335.78L236.0,339.27L236.5,342.46L237.0,343.23L237.5,342.10L238.0,340.47L238.5,338.98L239.0,338.45L239.5,338.31L240.0,337.39L240.5,336.09L241.0,335.51L241.5,336.21L242.0,337.51L242.5,338.61L243.0,339.33L243.5,339.76L244.0,339.85L244.5,339.73L245.0,339.49L245.5,339.06L246.0,338.50L246.5,338.03L247.0,337.73L247.5,337.57L248.0,337.83L248.5,338.73L249.0,339.81L249.5,340.39L250.0,340.31L250.5,339.79L251.0,338.94L251.5,337.83L252.0,336.73L252.5,336.16L253.0,336.26L253.5,336.77L254.0,337.52L254.5,338.58L255.0,339.93L255.5,341.06L256.0,341.57L256.5,341.45L257.0,340.73L257.5,339.62L258.0,338.91L258.5,339.30L259.0,339.40L259.5,338.56L260.0,337.47L260.5,337.19L261.0,337.66L261.5,337.56L262.0,337.51L262.5,338.52L263.0,339.88L263.5,340.44L264.0,340.72L264.5,341.53L265.0,341.99L265.5,340.95L266.0,339.07L266.5,337.79L267.0,337.56L267.5,337.88L268.0,338.16L268.5,338.14L269.0,338.14L269.5,338.57L270.0,338.89L270.5,338.43L271.0,338.30L271.5,339.95L272.0,342.10L272.5,342.10L273.0,340.11L273.5,338.82L274.0,339.25L274.5,339.81L275.0,339.29L275.5,338.13L276.0,337.11L276.5,336.62L277.0,336.89L277.5,337.92L278.0,339.41L278.5,340.92L279.0,341.67L279.5,340.99L280.0,339.67L280.5,339.24L281.0,339.58L281.5,339.29L282.0,338.41L282.5,338.30L283.0,339.09L283.5,339.57L284.0,339.32L284.5,338.71L285.0,337.87L285.5,337.14L286.0,337.39L286.5,338.75L287.0,340.38L287.5,341.69L288.0,342.10L288.5,340.80L289.0,338.56L289.5,337.77L290.0,338.90L290.5,339.55L291.0,338.61L291.5,337.82L292.0,337.94L292.5,337.73L293.0,337.62L293.5,339.51L294.0,342.34L294.5,342.52L295.0,339.61L295.5,336.91L296.0,336.72L296.5,338.23L297.0,340.00L297.5,341.11L298.0,340.98L298.5,339.83L299.0,338.69L299.5,338.01L300.0,337.56L300.5,337.52L301.0,338.14L301.5,338.89L302.0,339.42L302.5,340.15L303.0,340.96L303.5,340.88L304.0,339.89L304.5,339.12L305.0,338.98L305.5,338.85L306.0,338.45L306.5,338.02L307.0,337.62L307.5,337.60L308.0,338.60L308.5,340.20L309.0,341.07L309.5,340.77L310.0,339.79L310.5,338.48L311.0,337.46L311.5,338.13L312.0,340.54L312.5,342.22L313.0,341.11L313.5,338.41L314.0,336.50L314.5,336.08L315.0,336.74L315.5,338.28L316.0,339.99L316.5,340.57L317.0,340.08L317.5,340.13L318.0,341.39L318.5,342.37L319.0,341.51L319.5,339.01L320.0,336.29L320.5,334.76L321.0,335.22L321.5,337.41L322.0,339.83L322.5,340.93L323.0,340.72L323.5,340.36L324.0,340.57L324.5,340.91L325.0,340.63L325.5,339.39L326.0,337.64L326.5,336.72L327.0,337.75L327.5,339.91L328.0,340.87L328.5,339.65L329.0,337.66L329.5,336.54L330.0,336.63L330.5,338.09L331.0,340.88L331.5,343.23L332.0,342.78L332.5,340.10L333.0,338.06L333.5,338.28L334.0,338.80L334.5,338.57L335.0,338.45L335.5,338.03L336.0,336.39L336.5,334.30L337.0,332.51L337.5,330.95L338.0,329.93L338.5,330.48L339.0,332.87L339.5,335.62L340.0,338.43L340.5,342.08L341.0,345.66L341.5,346.93L342.0,348.55L342.5,352.81L343.0,355.96L343.5,353.68L344.0,345.16L344.5,336.13L345.0,332.21L345.5,333.35L346.0,335.44L346.5,337.42L347.0,338.59L347.5,339.08L348.0,339.65L348.5,339.38L349.0,338.19L349.5,337.25L350.0,337.21L350.5,337.60L351.0,338.28L351.5,339.74L352.0,341.55L352.5,342.30L353.0,341.50L353.5,339.55L354.0,337.32L354.5,335.02L355.0,332.70L355.5,330.86L356.0,329.87L356.5,330.36L357.0,333.57L357.5,338.88L358.0,344.33L358.5,347.03L359.0,345.79L359.5,342.28L360.0,338.57L360.5,335.93L361.0,334.95L361.5,334.89L362.0,334.82L362.5,334.55L363.0,334.43L363.5,334.85L364.0,334.91L364.5,333.77L365.0,332.90L365.5,334.73L366.0,338.45L366.5,340.93L367.0,342.30L367.5,343.79L368.0,344.26L368.5,342.14L369.0,339.29L369.5,338.44L370.0,338.48L370.5,337.33L371.0,336.02L371.5,335.71L372.0,335.79L372.5,335.17L373.0,334.24L373.5,333.36L374.0,332.38L374.5,332.08L375.0,333.07L375.5,334.46L376.0,335.21L376.5,336.62L377.0,339.33L377.5,341.25L378.0,341.05L378.5,340.61L379.0,341.20L379.5,341.19L380.0,339.80L380.5,338.40L381.0,337.70L381.5,337.11L382.0,336.88L382.5,337.54L383.0,337.90L383.5,336.90L384.0,335.28L384.5,334.37L385.0,334.11L385.5,333.74L386.0,333.12L386.5,332.50L387.0,332.22L387.5,332.89L388.0,334.32L388.5,335.46L389.0,336.06L389.5,336.90L390.0,338.08L390.5,338.71L391.0,339.01L391.5,339.50L392.0,340.62L392.5,342.13L393.0,343.44L393.5,344.15L394.0,344.38L394.5,344.51L395.0,344.51L395.5,343.78L396.0,342.62L396.5,341.93L397.0,341.36L397.5,339.73L398.0,337.48L398.5,336.27L399.0,336.14L399.5,335.64L400.0,334.63L400.5,334.17L401.0,334.25L401.5,334.42L402.0,335.23L402.5,337.31L403.0,339.61L403.5,340.74L404.0,341.06L404.5,341.55L405.0,342.08L405.5,342.12L406.0,341.61L406.5,340.84L407.0,340.00L407.5,339.14L408.0,338.13L408.5,336.91L409.0,336.16L409.5,336.56L410.0,337.40L410.5,337.16L411.0,336.06L411.5,335.51L412.0,335.81L412.5,335.96L413.0,335.55L413.5,335.21L414.0,335.25L414.5,335.29L415.0,335.16L415.5,334.99L416.0,335.06L416.5,335.66L417.0,337.17L417.5,339.31L418.0,340.91L418.5,341.43L419.0,341.59L419.5,341.88L420.0,342.01L420.5,341.74L421.0,341.47L421.5,341.18L422.0,340.23L422.5,338.92L423.0,338.38L423.5,338.57L424.0,338.46L424.5,338.15L425.0,338.25L425.5,338.10L426.0,336.63L426.5,335.08L427.0,335.36L427.5,336.46L428.0,335.99L428.5,334.54L429.0,334.47L429.5,335.70L430.0,336.43L430.5,336.75L431.0,337.96L431.5,339.63L432.0,340.56L432.5,341.02L433.0,341.57L433.5,341.85L434.0,341.79L434.5,341.59L435.0,340.49L435.5,338.20L436.0,336.11L436.5,335.86L437.0,336.37L437.5,336.06L438.0,335.77L438.5,336.54L439.0,337.59L439.5,338.03L440.0,338.47L440.5,339.31L441.0,339.79L441.5,339.62L442.0,339.49L442.5,339.54L443.0,339.51L443.5,339.76L444.0,340.73L444.5,341.58L445.0,341.33L445.5,340.51L446.0,340.31L446.5,340.91L447.0,341.60L447.5,341.94L448.0,341.96L448.5,341.84L449.0,341.72L449.5,341.59L450.0,341.50L450.5,341.72L451.0,342.33L451.5,342.83L452.0,341.93L452.5,338.61L453.0,335.68L453.5,335.24L454.0,335.80L454.5,336.68L455.0,337.29L455.5,337.61L456.0,338.14L456.5,338.82L457.0,339.09L457.5,339.20L458.0,339.77L458.5,340.30L459.0,339.91L459.5,339.11L460.0,339.00L460.5,339.19L461.0,338.64L461.5,337.65L462.0,337.19L462.5,337.33L463.0,337.51L463.5,337.39L464.0,336.86L464.5,336.12L465.0,335.88L465.5,336.50L466.0,337.45L466.5,338.26L467.0,339.00L467.5,339.50L468.0,339.70L468.5,340.23L469.0,341.36L469.5,342.17L470.0,342.34L470.5,342.95L471.0,343.97L471.5,343.70L472.0,342.12L472.5,341.34L473.0,341.91L473.5,342.04L474.0,341.22L474.5,340.65L475.0,340.30L475.5,339.26L476.0,338.38L476.5,338.79L477.0,339.50L477.5,339.03L478.0,338.20L478.5,337.77L479.0,336.89L479.5,335.45L480.0,334.75L480.5,334.76L481.0,334.03L481.5,332.74L482.0,332.36L482.5,332.69L483.0,332.81L483.5,333.30L484.0,335.07L484.5,337.39L485.0,339.12L485.5,340.26L486.0,341.00L486.5,340.98L487.0,340.65L487.5,340.96L488.0,341.43L488.5,341.15L489.0,340.35L489.5,339.74L490.0,339.28L490.5,338.94L491.0,339.15L491.5,339.67L492.0,339.73L492.5,339.43L493.0,339.47L493.5,339.50L494.0,338.86L494.5,338.21L495.0,338.57L495.5,339.44L496.0,339.64L496.5,339.28L497.0,339.21L497.5,339.50L498.0,339.75L498.5,340.00L499.0,340.34L499.5,340.51L500.0,340.45L500.5,340.57L501.0,341.05L501.5,341.33L502.0,341.19L502.5,341.15L503.0,341.68L503.5,342.44L504.0,342.94L504.5,343.12L505.0,343.13L505.5,342.89L506.0,342.11L506.5,341.02L507.0,339.75L507.5,338.46L508.0,337.61L508.5,337.54L509.0,337.59L509.5,337.32L510.0,337.28L510.5,337.79L511.0,338.21L511.5,338.10L512.0,338.02L512.5,338.42L513.0,338.84L513.5,338.88L514.0,338.87L514.5,338.93L515.0,338.84L515.5,338.86L516.0,339.28L516.5,339.45L517.0,338.91L517.5,338.58L518.0,339.21L518.5,339.84L519.0,339.45L519.5,338.86L520.0,339.19L520.5,339.89L521.0,339.86L521.5,339.27L522.0,339.09L522.5,339.42L523.0,339.64L523.5,339.55L524.0,339.53L524.5,339.81L525.0,340.04L525.5,339.81L526.0,339.32L526.5,339.16L527.0,339.51L527.5,340.08L528.0,340.51L528.5,340.37L529.0,339.47L529.5,338.55L530.0,338.62L530.5,339.22L531.0,339.06L531.5,338.37L532.0,338.38L532.5,338.73L533.0,338.17L533.5,337.32L534.0,337.64L534.5,338.27L535.0,337.66L535.5,336.75L536.0,337.03L536.5,337.47L537.0,336.69L537.5,335.96L538.0,336.49L538.5,336.96L539.0,336.33L539.5,335.96L540.0,336.71L540.5,337.29L541.0,336.86L541.5,336.30L542.0,336.14L542.5,336.12L543.0,336.45L543.5,337.13L544.0,337.11L544.5,336.29L545.0,336.15L545.5,337.12L546.0,337.86L546.5,337.90L547.0,338.25L547.5,338.92L548.0,339.01L548.5,338.88L549.0,339.50L549.5,340.26L550.0,340.08L550.5,339.44L551.0,339.57L551.5,340.36L552.0,340.97L552.5,341.23L553.0,341.35L553.5,341.35L554.0,341.34L554.5,341.40L555.0,341.22L555.5,340.69L556.0,340.26L556.5,340.18L557.0,339.98L557.5,339.39L558.0,338.92L558.5,338.98L559.0,339.26L559.5,339.14L560.0,338.75L560.5,338.72L561.0,339.11L561.5,339.19L562.0,338.77L562.5,338.70L563.0,339.38L563.5,339.70L564.0,338.92L564.5,338.13L565.0,338.45L565.5,339.21L566.0,339.45L566.5,339.38L567.0,339.28L567.5,338.86L568.0,338.39L568.5,338.60L569.0,339.08L569.5,339.06L570.0,339.10L570.5,339.66L571.0,339.64L571.5,338.45L572.0,337.66L572.5,338.48L573.0,339.75L573.5,340.23L574.0,340.07L574.5,339.45L575.0,338.55L575.5,338.64L576.0,340.29L576.5,341.55L577.0,340.98L577.5,340.19L578.0,340.56L578.5,340.68L579.0,339.73L579.5,339.51L580.0,340.62L580.5,340.87L581.0,339.53L581.5,338.61L582.0,338.73L582.5,338.27L583.0,337.29L583.5,337.58L584.0,338.76L584.5,338.95L585.0,338.26L585.5,337.97L586.0,337.71L586.5,336.76L587.0,336.34L587.5,337.44L588.0,338.55L588.5,338.19L589.0,337.30L589.5,337.06L590.0,336.94L590.5,336.52L591.0,336.70L591.5,337.58L592.0,337.86L592.5,337.11L593.0,336.55L593.5,336.69L594.0,336.64L594.5,336.20L595.0,336.32L595.5,337.04L596.0,337.17L596.5,336.46L597.0,336.09L597.5,336.57L598.0,337.03L598.5,336.88L599.0,336.68L599.5,336.90L600.0,337.32L600.5,337.62L601.0,337.72L601.5,337.61L602.0,337.52L602.5,337.82L603.0,338.30L603.5,338.38L604.0,338.10L604.5,338.00L605.0,338.07L605.5,338.07L606.0,338.25L606.5,338.73L607.0,338.90L607.5,338.50L608.0,338.31L608.5,338.70L609.0,339.05L609.5,339.16L610.0,339.50L610.5,339.93L611.0,339.82L611.5,339.44L612.0,339.57L612.5,339.99L613.0,340.07L613.5,340.04L614.0,340.25L614.5,340.37L615.0,340.14L615.5,339.93L616.0,339.86L616.5,339.66L617.0,339.49L617.5,339.58L618.0,339.61L618.5,339.40L619.0,339.30L619.5,339.22L620.0,338.76L620.5,338.45L621.0,339.00L621.5,339.63L622.0,339.23L622.5,338.46L623.0,338.55L623.5,339.11L624.0,339.11L624.5,338.70L625.0,338.56L625.5,338.63L626.0,338.64L626.5,338.69L627.0,338.64L627.5,338.44L628.0,338.44L628.5,338.64L629.0,338.49L629.5,338.19L630.0,338.57L630.5,339.23L631.0,338.91L631.5,338.02L632.0,338.13L632.5,339.21L633.0,339.76L633.5,339.36L634.0,338.90L634.5,338.98L635.0,339.32L635.5,339.47L636.0,339.23L636.5,339.09L637.0,339.72L637.5,340.46L638.0,339.85L638.5,338.37L639.0,338.26L639.5,339.58L640.0,339.92L640.5,338.78L641.0,338.31L641.5,339.08L642.0,339.20L642.5,338.18L643.0,337.75L643.5,338.33L644.0,338.52L644.5,338.02L645.0,337.92L645.5,338.45L646.0,338.80L646.5,338.60L647.0,338.12L647.5,337.75L648.0,338.01L648.5,339.00L649.0,339.81L649.5,339.67L650.0,339.12L650.5,339.01L651.0,339.22L651.5,339.38L652.0,339.65L652.5,340.04L653.0,340.15L653.5,339.94L654.0,339.70L654.5,339.56L655.0,339.49L655.5,339.49L656.0,339.47L656.5,339.44L657.0,339.54L657.5,339.49L658.0,338.77L658.5,338.03L659.0,338.53L659.5,339.68L660.0,339.45L660.5,337.78L661.0,336.99L661.5,338.01L662.0,339.07L662.5,338.82L663.0,338.12L663.5,338.01L664.0,338.19L664.5,338.06L665.0,337.80L665.5,337.96L666.0,338.66L666.5,339.28L667.0,339.06L667.5,338.14L668.0,337.67L668.5,338.22L669.0,339.02L669.5,339.29L670.0,339.17L670.5,339.04L671.0,338.85L671.5,338.62L672.0,338.57L672.5,338.74L673.0,339.12L673.5,339.64L674.0,339.72L674.5,338.93L675.0,338.08L675.5,338.32L676.0,339.34L676.5,339.91L677.0,339.71L677.5,339.29L678.0,338.96L678.5,338.82L679.0,339.09L679.5,339.47L680.0,339.46L680.5,339.46L681.0,339.97L681.5,340.16L682.0,339.24L682.5,338.31L683.0,338.75L683.5,339.83L684.0,340.08L684.5,339.56L685.0,339.08L685.5,338.62L686.0,338.23L686.5,338.48L687.0,339.25L687.5,339.35L688.0,338.86L688.5,339.04L689.0,339.85L689.5,339.85L690.0,339.17L690.5,338.96L691.0,339.05" fill="none" stroke="#000" stroke-width="1.05" stroke-linejoin="round"/>
<path d="M96.0,377.50L96.5,377.50L97.0,377.50L97.5,377.50L98.0,377.50L98.5,377.50L99.0,377.50L99.5,377.50L100.0,377.50L100.5,377.50L101.0,377.50L101.5,377.50L102.0,377.50L102.5,377.50L103.0,377.50L103.5,377.50L104.0,377.50L104.5,377.50L105.0,377.50L105.5,377.50L106.0,377.50L106.5,377.50L107.0,377.50L107.5,377.50L108.0,377.50L108.5,377.50L109.0,377.50L109.5,377.50L110.0,377.50L110.5,377.50L111.0,377.50L111.5,377.50L112.0,377.50L112.5,377.50L113.0,377.50L113.5,377.50L114.0,377.50L114.5,377.50L115.0,377.50L115.5,377.50L116.0,377.50L116.5,377.50L117.0,377.50L117.5,377.50L118.0,377.50L118.5,377.50L119.0,377.50L119.5,377.50L120.0,377.50L120.5,377.50L121.0,377.50L121.5,377.50L122.0,377.50L122.5,377.50L123.0,377.50L123.5,377.50L124.0,377.50L124.5,377.50L125.0,377.50L125.5,377.50L126.0,377.50L126.5,377.50L127.0,377.50L127.5,377.50L128.0,377.50L128.5,377.50L129.0,377.50L129.5,377.50L130.0,377.50L130.5,377.50L131.0,377.50L131.5,377.50L132.0,377.50L132.5,377.50L133.0,377.50L133.5,377.50L134.0,377.50L134.5,377.50L135.0,377.50L135.5,377.50L136.0,377.50L136.5,377.50L137.0,377.50L137.5,377.50L138.0,377.50L138.5,377.50L139.0,377.50L139.5,377.50L140.0,377.50L140.5,377.50L141.0,377.50L141.5,377.50L142.0,377.50L142.5,377.50L143.0,377.50L143.5,377.50L144.0,377.50L144.5,377.50L145.0,377.50L145.5,377.50L146.0,377.50L146.5,377.50L147.0,377.50L147.5,377.50L148.0,377.50L148.5,377.50L149.0,377.50L149.5,377.50L150.0,377.50L150.5,377.50L151.0,377.50L151.5,377.50L152.0,377.50L152.5,377.50L153.0,377.50L153.5,377.50L154.0,377.50L154.5,377.50L155.0,377.50L155.5,377.50L156.0,377.50L156.5,377.50L157.0,377.50L157.5,377.50L158.0,377.50L158.5,377.50L159.0,377.50L159.5,377.50L160.0,377.50L160.5,377.50L161.0,377.50L161.5,377.50L162.0,377.50L162.5,377.50L163.0,377.50L163.5,377.50L164.0,377.50L164.5,377.50L165.0,377.50L165.5,377.50L166.0,377.50L166.5,377.50L167.0,377.50L167.5,377.50L168.0,377.50L168.5,377.50L169.0,377.50L169.5,377.50L170.0,377.50L170.5,377.50L171.0,377.50L171.5,377.50L172.0,377.50L172.5,377.50L173.0,377.50L173.5,377.50L174.0,377.50L174.5,377.50L175.0,377.50L175.5,377.50L176.0,377.50L176.5,377.50L177.0,377.50L177.5,377.50L178.0,377.50L178.5,377.50L179.0,377.50L179.5,377.50L180.0,377.50L180.5,377.50L181.0,377.50L181.5,377.50L182.0,377.50L182.5,377.50L183.0,377.50L183.5,377.50L184.0,377.50L184.5,377.50L185.0,377.50L185.5,377.50L186.0,377.50L186.5,377.50L187.0,377.50L187.5,377.50L188.0,377.50L188.5,377.50L189.0,377.50L189.5,377.50L190.0,377.50L190.5,377.50L191.0,377.50L191.5,377.50L192.0,377.50L192.5,377.50L193.0,377.50L193.5,377.50L194.0,377.50L194.5,377.50L195.0,377.50L195.5,377.50L196.0,377.50L196.5,377.50L197.0,377.50L197.5,377.50L198.0,377.50L198.5,377.50L199.0,377.50L199.5,377.50L200.0,377.50L200.5,377.50L201.0,377.50L201.5,377.50L202.0,377.50L202.5,377.50L203.0,377.50L203.5,377.50L204.0,377.50L204.5,377.50L205.0,377.50L205.5,377.50L206.0,377.50L206.5,377.50L207.0,377.50L207.5,377.50L208.0,377.50L208.5,377.50L209.0,377.50L209.5,377.50L210.0,377.50L210.5,377.50L211.0,377.50L211.5,377.50L212.0,377.50L212.5,377.50L213.0,377.50L213.5,377.50L214.0,377.50L214.5,377.50L215.0,377.50L215.5,377.50L216.0,377.50L216.5,377.50L217.0,377.50L217.5,377.50L218.0,377.50L218.5,377.50L219.0,377.50L219.5,377.50L220.0,377.50L220.5,377.50L221.0,377.50L221.5,377.50L222.0,377.50L222.5,377.50L223.0,377.50L223.5,377.50L224.0,377.50L224.5,377.50L225.0,377.50L225.5,377.50L226.0,377.50L226.5,377.50L227.0,377.50L227.5,377.50L228.0,377.50L228.5,377.50L229.0,377.50L229.5,377.50L230.0,377.50L230.5,377.50L231.0,377.50L231.5,377.50L232.0,377.50L232.5,377.50L233.0,379.47L233.5,386.18L234.0,393.46L234.5,394.21L235.0,382.90L235.5,366.15L236.0,355.02L236.5,355.11L237.0,361.62L237.5,371.59L238.0,380.73L238.5,385.10L239.0,384.25L239.5,381.55L240.0,377.86L240.5,373.82L241.0,371.51L241.5,372.68L242.0,376.19L242.5,379.59L243.0,381.90L243.5,383.21L244.0,382.78L244.5,379.89L245.0,375.81L245.5,372.86L246.0,371.99L246.5,372.91L247.0,375.41L247.5,378.86L248.0,381.51L248.5,381.99L249.0,380.78L249.5,378.72L250.0,376.20L250.5,373.98L251.0,373.21L251.5,373.81L252.0,375.17L252.5,376.84L253.0,378.48L253.5,379.81L254.0,380.56L254.5,380.45L255.0,379.36L255.5,377.74L256.0,376.14L256.5,374.55L257.0,373.12L257.5,372.87L258.0,374.17L258.5,375.69L259.0,376.51L259.5,377.60L260.0,379.41L260.5,380.28L261.0,379.30L261.5,378.01L262.0,377.77L262.5,377.95L263.0,377.72L263.5,378.62L264.0,380.19L264.5,380.63L265.0,379.88L265.5,378.93L266.0,378.42L266.5,377.42L267.0,376.52L267.5,376.12L268.0,375.16L268.5,373.81L269.0,374.26L269.5,377.06L270.0,379.61L270.5,379.90L271.0,378.49L271.5,376.88L272.0,376.06L272.5,376.69L273.0,378.53L273.5,380.09L274.0,380.29L274.5,379.48L275.0,378.39L275.5,377.29L276.0,376.22L276.5,375.05L277.0,373.72L277.5,373.18L278.0,374.74L278.5,377.99L279.0,380.80L279.5,381.61L280.0,380.26L280.5,377.60L281.0,375.89L281.5,377.20L282.0,380.16L282.5,380.72L283.0,377.84L283.5,374.93L284.0,374.49L284.5,375.22L285.0,375.56L285.5,376.16L286.0,377.36L286.5,378.02L287.0,377.81L287.5,378.16L288.0,379.81L288.5,381.38L289.0,380.91L289.5,378.16L290.0,375.10L290.5,373.95L291.0,374.89L291.5,376.44L292.0,377.75L292.5,378.86L293.0,379.20L293.5,378.09L294.0,376.49L294.5,375.89L295.0,376.07L295.5,376.18L296.0,376.98L296.5,379.40L297.0,382.03L297.5,382.25L298.0,379.31L298.5,375.10L299.0,372.56L299.5,373.42L300.0,376.65L300.5,379.24L301.0,379.23L301.5,377.48L302.0,376.13L302.5,376.30L303.0,377.65L303.5,378.98L304.0,379.25L304.5,378.64L305.0,378.21L305.5,378.29L306.0,378.28L306.5,377.81L307.0,376.78L307.5,375.09L308.0,373.74L308.5,374.56L309.0,377.53L309.5,380.08L310.0,380.29L310.5,378.84L311.0,377.21L311.5,376.51L312.0,377.54L312.5,379.50L313.0,379.68L313.5,377.89L314.0,377.14L314.5,378.76L315.0,380.14L315.5,378.46L316.0,376.22L316.5,375.83L317.0,376.86L317.5,377.89L318.0,378.74L318.5,379.17L319.0,378.82L319.5,378.02L320.0,377.15L320.5,376.24L321.0,376.06L321.5,377.30L322.0,378.94L322.5,379.40L323.0,379.01L323.5,378.40L324.0,376.42L324.5,373.12L325.0,370.37L325.5,369.99L326.0,373.86L326.5,380.39L327.0,385.58L327.5,386.22L328.0,383.97L328.5,381.17L329.0,379.55L329.5,379.19L330.0,378.79L330.5,379.02L331.0,378.94L331.5,377.27L332.0,374.33L332.5,372.68L333.0,371.62L333.5,370.23L334.0,370.96L334.5,375.35L335.0,379.95L335.5,381.07L336.0,379.66L336.5,377.89L337.0,375.31L337.5,371.59L338.0,369.07L338.5,370.64L339.0,376.64L339.5,383.56L340.0,388.07L340.5,388.16L341.0,384.28L341.5,378.52L342.0,373.08L342.5,369.81L343.0,369.59L343.5,371.49L344.0,374.65L344.5,377.48L345.0,379.26L345.5,379.64L346.0,378.04L346.5,375.20L347.0,373.19L347.5,373.09L348.0,374.44L348.5,376.64L349.0,379.11L349.5,380.93L350.0,381.41L350.5,379.87L351.0,376.54L351.5,373.04L352.0,372.08L352.5,373.47L353.0,375.02L353.5,375.25L354.0,375.16L354.5,376.06L355.0,377.06L355.5,378.04L356.0,379.46L356.5,381.35L357.0,382.24L357.5,381.27L358.0,379.62L358.5,378.36L359.0,376.86L359.5,374.47L360.0,372.23L360.5,371.62L361.0,372.40L361.5,373.05L362.0,372.83L362.5,373.21L363.0,376.56L363.5,380.84L364.0,383.27L364.5,383.05L365.0,381.50L365.5,379.25L366.0,377.29L366.5,377.25L367.0,379.80L367.5,383.47L368.0,385.93L368.5,386.37L369.0,385.32L369.5,383.10L370.0,379.89L370.5,376.15L371.0,373.67L371.5,373.62L372.0,375.31L372.5,376.75L373.0,376.34L373.5,375.15L374.0,375.08L374.5,376.70L375.0,378.03L375.5,378.10L376.0,377.52L376.5,377.19L377.0,377.93L377.5,378.56L378.0,378.15L378.5,376.30L379.0,373.66L379.5,371.60L380.0,371.60L380.5,374.70L381.0,379.68L381.5,384.16L382.0,385.66L382.5,384.52L383.0,383.37L383.5,382.44L384.0,380.68L384.5,377.97L385.0,375.56L385.5,374.35L386.0,374.13L386.5,374.25L387.0,373.95L387.5,373.41L388.0,373.07L388.5,372.98L389.0,372.67L389.5,372.12L390.0,372.06L390.5,372.92L391.0,375.03L391.5,377.61L392.0,380.33L392.5,382.13L393.0,381.88L393.5,380.60L394.0,379.56L394.5,378.89L395.0,377.85L395.5,376.70L396.0,376.37L396.5,376.22L397.0,375.49L397.5,374.64L398.0,374.35L398.5,374.45L399.0,374.44L399.5,374.32L400.0,374.32L400.5,374.67L401.0,375.63L401.5,377.00L402.0,378.08L402.5,378.87L403.0,380.07L403.5,381.52L404.0,382.14L404.5,381.78L405.0,381.50L405.5,381.43L406.0,380.71L406.5,379.36L407.0,378.20L407.5,377.04L408.0,375.02L408.5,372.90L409.0,372.36L409.5,373.07L410.0,373.09L410.5,372.09L411.0,372.15L411.5,374.11L412.0,376.07L412.5,376.37L413.0,375.94L413.5,376.54L414.0,378.03L414.5,378.72L415.0,377.96L415.5,376.91L416.0,376.76L416.5,377.12L417.0,376.73L417.5,375.38L418.0,374.16L418.5,373.87L419.0,374.10L419.5,374.16L420.0,374.14L420.5,374.36L421.0,374.90L421.5,375.76L422.0,376.78L422.5,377.38L423.0,377.33L423.5,377.38L424.0,378.10L424.5,378.90L425.0,379.25L425.5,379.31L426.0,379.36L426.5,379.26L427.0,379.28L427.5,380.02L428.0,381.12L428.5,381.62L429.0,381.55L429.5,381.49L430.0,381.09L430.5,379.99L431.0,378.96L431.5,378.68L432.0,378.41L432.5,377.46L433.0,376.32L433.5,375.38L434.0,374.33L434.5,373.31L435.0,372.94L435.5,373.08L436.0,373.29L436.5,373.76L437.0,374.44L437.5,374.65L438.0,374.69L438.5,375.76L439.0,377.46L439.5,377.99L440.0,377.32L440.5,377.28L441.0,378.16L441.5,378.31L442.0,377.15L442.5,375.86L443.0,375.15L443.5,374.66L444.0,374.23L444.5,373.92L445.0,373.46L445.5,372.88L446.0,372.85L446.5,373.72L447.0,375.02L447.5,376.14L448.0,376.76L448.5,377.02L449.0,377.42L449.5,377.98L450.0,377.73L450.5,376.30L451.0,374.81L451.5,374.05L452.0,373.34L452.5,372.31L453.0,371.51L453.5,371.61L454.0,374.65L454.5,380.09L455.0,381.81L455.5,381.30L456.0,380.34L456.5,379.56L457.0,378.92L457.5,377.77L458.0,376.49L458.5,376.29L459.0,376.88L459.5,376.63L460.0,375.42L460.5,374.91L461.0,375.78L461.5,376.97L462.0,377.84L462.5,378.80L463.0,379.94L463.5,380.69L464.0,381.03L464.5,381.43L465.0,381.87L465.5,381.83L466.0,381.39L466.5,381.30L467.0,381.71L467.5,381.47L468.0,379.77L468.5,377.82L469.0,377.35L469.5,377.81L470.0,377.37L470.5,376.17L471.0,376.00L471.5,376.94L472.0,377.29L472.5,376.69L473.0,376.37L473.5,376.92L474.0,377.74L474.5,378.29L475.0,378.32L475.5,377.81L476.0,377.33L476.5,377.32L477.0,376.94L477.5,375.71L478.0,374.92L478.5,375.52L479.0,375.91L479.5,374.93L480.0,373.74L480.5,373.17L481.0,372.30L481.5,370.88L482.0,370.28L482.5,370.93L483.0,372.55L483.5,374.90L484.0,377.59L484.5,379.97L485.0,381.04L485.5,381.30L486.0,380.75L486.5,379.16L487.0,377.37L487.5,376.22L488.0,375.50L488.5,375.03L489.0,375.20L489.5,375.61L490.0,375.52L490.5,375.83L491.0,377.78L491.5,380.05L492.0,380.61L492.5,380.26L493.0,380.77L493.5,381.59L494.0,381.41L494.5,380.71L495.0,380.20L495.5,379.34L496.0,378.34L496.5,378.35L497.0,378.77L497.5,378.06L498.0,376.93L498.5,377.03L499.0,377.64L499.5,377.14L500.0,376.31L500.5,376.37L501.0,376.59L501.5,376.21L502.0,375.95L502.5,376.00L503.0,375.36L503.5,374.05L504.0,373.27L504.5,373.39L505.0,373.85L505.5,374.20L506.0,374.02L506.5,373.14L507.0,372.47L507.5,372.81L508.0,373.40L508.5,373.60L509.0,374.32L509.5,375.69L510.0,376.15L510.5,375.62L511.0,376.20L511.5,378.10L512.0,378.94L512.5,378.25L513.0,378.40L513.5,380.17L514.0,381.40L514.5,380.82L515.0,379.79L515.5,379.70L516.0,380.24L516.5,380.44L517.0,379.93L517.5,379.22L518.0,379.03L518.5,379.19L519.0,378.81L519.5,377.87L520.0,377.28L520.5,377.15L521.0,376.84L521.5,376.59L522.0,376.92L522.5,377.05L523.0,376.25L523.5,375.58L524.0,376.11L524.5,376.86L525.0,376.50L525.5,375.66L526.0,375.49L526.5,375.76L527.0,375.78L527.5,375.63L528.0,375.48L528.5,375.20L529.0,374.84L529.5,374.59L530.0,374.52L530.5,374.75L531.0,375.24L531.5,375.31L532.0,374.63L532.5,374.15L533.0,374.79L533.5,375.76L534.0,375.68L534.5,374.82L535.0,374.73L535.5,375.94L536.0,377.11L536.5,376.83L537.0,375.55L537.5,375.10L538.0,376.12L538.5,377.07L539.0,376.86L539.5,376.44L540.0,376.82L540.5,377.33L541.0,377.43L541.5,377.89L542.0,378.85L542.5,379.33L543.0,379.35L543.5,379.99L544.0,380.98L544.5,381.06L545.0,380.65L545.5,381.03L546.0,381.68L546.5,381.28L547.0,380.35L547.5,380.00L548.0,379.88L548.5,379.31L549.0,378.63L549.5,378.06L550.0,377.18L550.5,376.20L551.0,375.85L551.5,375.90L552.0,375.61L552.5,375.27L553.0,375.55L553.5,376.22L554.0,376.38L554.5,375.77L555.0,375.04L555.5,375.18L556.0,376.38L556.5,377.41L557.0,377.18L557.5,376.41L558.0,376.46L558.5,377.02L559.0,377.06L559.5,376.84L560.0,377.04L560.5,377.20L561.0,377.11L561.5,377.46L562.0,377.87L562.5,377.04L563.0,375.69L563.5,375.92L564.0,377.20L564.5,377.13L565.0,375.98L565.5,376.14L566.0,377.37L566.5,377.20L567.0,375.60L567.5,374.96L568.0,376.08L568.5,377.42L569.0,377.90L569.5,377.55L570.0,376.66L570.5,375.96L571.0,376.38L571.5,377.56L572.0,377.99L572.5,377.33L573.0,376.83L573.5,377.20L574.0,377.75L574.5,377.74L575.0,377.49L575.5,377.63L576.0,378.13L576.5,378.43L577.0,378.32L577.5,378.27L578.0,378.56L578.5,378.67L579.0,378.23L579.5,377.93L580.0,378.35L580.5,378.65L581.0,377.93L581.5,376.93L582.0,376.82L582.5,377.26L583.0,377.22L583.5,376.78L584.0,376.58L584.5,376.41L585.0,375.98L585.5,375.92L586.0,376.62L586.5,377.18L587.0,376.93L587.5,376.66L588.0,377.25L588.5,378.04L589.0,378.03L589.5,377.54L590.0,377.57L590.5,378.22L591.0,378.86L591.5,379.08L592.0,378.84L592.5,378.23L593.0,377.70L593.5,377.65L594.0,377.88L594.5,377.85L595.0,377.57L595.5,377.45L596.0,377.37L596.5,376.91L597.0,376.14L597.5,375.58L598.0,375.62L598.5,376.20L599.0,376.71L599.5,376.43L600.0,375.60L600.5,375.38L601.0,376.09L601.5,376.55L602.0,376.10L602.5,375.85L603.0,376.68L603.5,377.67L604.0,377.74L604.5,377.31L605.0,377.20L605.5,377.37L606.0,377.59L606.5,378.03L607.0,378.50L607.5,378.54L608.0,378.21L608.5,377.95L609.0,377.84L609.5,377.85L610.0,378.01L610.5,378.02L611.0,377.62L611.5,377.28L612.0,377.47L612.5,377.66L613.0,377.30L613.5,376.85L614.0,376.80L614.5,376.68L615.0,376.24L615.5,376.26L616.0,376.95L616.5,377.21L617.0,376.39L617.5,375.58L618.0,375.88L618.5,376.78L619.0,377.09L619.5,376.68L620.0,376.45L620.5,376.88L621.0,377.41L621.5,377.50L622.0,377.50L622.5,377.91L623.0,378.26L623.5,378.01L624.0,377.76L624.5,378.25L625.0,378.85L625.5,378.68L626.0,378.35L626.5,378.60L627.0,378.68L627.5,377.87L628.0,377.23L628.5,377.77L629.0,378.47L629.5,378.02L630.0,377.14L630.5,377.10L631.0,377.37L631.5,376.78L632.0,375.87L632.5,376.07L633.0,377.21L633.5,377.56L634.0,376.63L634.5,375.86L635.0,376.30L635.5,377.07L636.0,377.01L636.5,376.54L637.0,376.63L637.5,377.36L638.0,378.08L638.5,378.29L639.0,377.75L639.5,376.90L640.0,377.00L640.5,378.32L641.0,379.13L641.5,378.30L642.0,377.44L642.5,378.10L643.0,378.91L643.5,378.14L644.0,376.88L644.5,376.95L645.0,377.75L645.5,377.88L646.0,377.54L646.5,377.30L647.0,376.73L647.5,375.85L648.0,375.66L648.5,376.44L649.0,377.16L649.5,376.96L650.0,376.07L650.5,375.36L651.0,375.59L651.5,376.62L652.0,377.21L652.5,376.73L653.0,376.14L653.5,376.30L654.0,376.71L654.5,376.92L655.0,377.26L655.5,377.58L656.0,377.30L656.5,377.00L657.0,377.48L657.5,378.03L658.0,377.79L658.5,377.40L659.0,377.56L659.5,377.73L660.0,377.84L660.5,378.45L661.0,378.71L661.5,377.46L662.0,376.06L662.5,376.63L663.0,378.23L663.5,378.53L664.0,377.63L664.5,376.96L665.0,376.56L665.5,376.22L666.0,376.57L666.5,377.18L667.0,376.74L667.5,375.94L668.0,376.47L668.5,377.50L669.0,376.98L669.5,375.47L670.0,375.18L670.5,376.23L671.0,377.09L671.5,377.23L672.0,377.08L672.5,376.94L673.0,377.02L673.5,377.24L674.0,377.02L674.5,376.70L675.0,377.50L675.5,379.01L676.0,379.20L676.5,377.85L677.0,377.10L677.5,377.81L678.0,378.44L678.5,378.13L679.0,377.76L679.5,377.95L680.0,378.28L680.5,378.25L681.0,377.60L681.5,376.62L682.0,376.37L682.5,377.20L683.0,377.75L683.5,377.11L684.0,376.40L684.5,376.56L685.0,376.66L685.5,376.16L686.0,376.16L686.5,376.76L687.0,376.84L687.5,376.83L688.0,378.43L688.5,380.84L689.0,381.58L689.5,380.09L690.0,377.62L690.5,375.46L691.0,374.20" fill="none" stroke="#000" stroke-width="1.05" stroke-linejoin="round"/>
<path d="M96.0,461.50L96.5,461.50L97.0,461.50L97.5,461.50L98.0,461.50L98.5,461.50L99.0,461.50L99.5,461.50L100.0,461.50L100.5,461.50L101.0,461.50L101.5,461.50L102.0,461.50L102.5,461.50L103.0,461.50L103.5,461.50L104.0,461.50L104.5,461.50L105.0,461.50L105.5,461.50L106.0,461.50L106.5,461.50L107.0,461.50L107.5,461.50L108.0,461.50L108.5,461.50L109.0,461.50L109.5,461.50L110.0,461.50L110.5,461.50L111.0,461.50L111.5,461.50L112.0,461.50L112.5,461.50L113.0,461.50L113.5,461.50L114.0,461.50L114.5,461.50L115.0,461.50L115.5,461.50L116.0,461.50L116.5,461.50L117.0,461.50L117.5,461.50L118.0,461.50L118.5,461.50L119.0,461.50L119.5,461.50L120.0,461.50L120.5,461.50L121.0,461.50L121.5,461.50L122.0,461.50L122.5,461.50L123.0,461.50L123.5,461.50L124.0,461.50L124.5,461.50L125.0,461.50L125.5,461.50L126.0,461.50L126.5,461.50L127.0,461.50L127.5,461.50L128.0,461.50L128.5,461.50L129.0,461.50L129.5,461.50L130.0,461.50L130.5,461.50L131.0,461.50L131.5,461.50L132.0,461.50L132.5,461.50L133.0,461.50L133.5,461.50L134.0,461.50L134.5,461.50L135.0,461.50L135.5,461.50L136.0,461.50L136.5,461.50L137.0,461.50L137.5,461.50L138.0,461.50L138.5,461.50L139.0,461.50L139.5,461.50L140.0,461.50L140.5,461.50L141.0,461.50L141.5,461.50L142.0,461.50L142.5,461.50L143.0,461.50L143.5,461.50L144.0,461.50L144.5,461.50L145.0,461.50L145.5,461.50L146.0,461.50L146.5,461.50L147.0,461.50L147.5,461.50L148.0,461.50L148.5,461.50L149.0,461.50L149.5,461.50L150.0,461.50L150.5,461.50L151.0,461.50L151.5,461.50L152.0,461.50L152.5,461.50L153.0,461.50L153.5,461.50L154.0,461.50L154.5,461.50L155.0,461.50L155.5,461.50L156.0,461.50L156.5,461.50L157.0,461.50L157.5,461.50L158.0,461.50L158.5,461.50L159.0,461.50L159.5,461.50L160.0,461.50L160.5,461.50L161.0,461.50L161.5,461.50L162.0,461.50L162.5,461.50L163.0,461.50L163.5,461.50L164.0,461.50L164.5,461.50L165.0,461.50L165.5,461.50L166.0,461.50L166.5,461.50L167.0,461.50L167.5,461.50L168.0,461.50L168.5,461.50L169.0,461.50L169.5,461.50L170.0,461.50L170.5,461.50L171.0,461.50L171.5,461.50L172.0,461.50L172.5,461.50L173.0,461.50L173.5,461.50L174.0,461.50L174.5,461.50L175.0,461.50L175.5,461.50L176.0,461.50L176.5,461.50L177.0,461.50L177.5,461.50L178.0,461.50L178.5,461.50L179.0,461.50L179.5,461.50L180.0,461.50L180.5,461.50L181.0,461.50L181.5,461.50L182.0,461.50L182.5,461.50L183.0,461.50L183.5,461.50L184.0,461.50L184.5,461.50L185.0,461.50L185.5,461.50L186.0,461.50L186.5,461.50L187.0,461.50L187.5,461.50L188.0,461.50L188.5,461.50L189.0,461.50L189.5,461.50L190.0,461.50L190.5,461.50L191.0,461.50L191.5,461.50L192.0,461.50L192.5,461.50L193.0,461.50L193.5,461.50L194.0,461.50L194.5,461.50L195.0,461.50L195.5,461.50L196.0,461.50L196.5,461.50L197.0,461.50L197.5,461.50L198.0,461.50L198.5,461.50L199.0,461.50L199.5,461.50L200.0,461.50L200.5,461.50L201.0,461.50L201.5,461.50L202.0,461.50L202.5,461.50L203.0,461.50L203.5,461.50L204.0,461.50L204.5,461.50L205.0,461.50L205.5,461.50L206.0,461.50L206.5,461.50L207.0,461.50L207.5,461.50L208.0,461.50L208.5,461.50L209.0,461.50L209.5,461.50L210.0,461.50L210.5,461.50L211.0,461.50L211.5,461.50L212.0,461.50L212.5,461.50L213.0,461.50L213.5,461.50L214.0,461.50L214.5,461.50L215.0,461.50L215.5,461.50L216.0,461.50L216.5,461.50L217.0,461.50L217.5,461.50L218.0,461.50L218.5,461.50L219.0,461.50L219.5,461.50L220.0,461.50L220.5,461.50L221.0,461.50L221.5,461.50L222.0,461.50L222.5,461.50L223.0,461.50L223.5,461.50L224.0,461.50L224.5,461.50L225.0,461.50L225.5,461.50L226.0,461.50L226.5,461.50L227.0,461.50L227.5,461.50L228.0,461.50L228.5,461.50L229.0,461.50L229.5,461.50L230.0,461.50L230.5,461.50L231.0,461.50L231.5,461.50L232.0,461.50L232.5,461.50L233.0,461.80L233.5,461.49L234.0,460.62L234.5,459.91L235.0,459.12L235.5,458.96L236.0,459.70L236.5,460.33L237.0,460.50L237.5,460.92L238.0,461.32L238.5,460.99L239.0,460.64L239.5,461.21L240.0,462.00L240.5,461.91L241.0,461.48L241.5,461.52L242.0,461.59L242.5,461.15L243.0,460.58L243.5,460.15L244.0,459.40L244.5,458.73L245.0,459.15L245.5,460.40L246.0,461.35L246.5,461.96L247.0,463.00L247.5,464.28L248.0,464.67L248.5,463.84L249.0,462.59L249.5,461.86L250.0,461.65L250.5,461.39L251.0,460.96L251.5,460.62L252.0,460.43L252.5,460.23L253.0,460.04L253.5,460.01L254.0,459.98L254.5,459.77L255.0,459.67L255.5,459.89L256.0,460.18L256.5,460.47L257.0,461.01L257.5,461.55L258.0,461.55L258.5,461.27L259.0,461.42L259.5,461.77L260.0,461.67L260.5,461.22L261.0,460.93L261.5,460.77L262.0,460.50L262.5,460.15L263.0,459.76L263.5,459.50L264.0,459.73L264.5,460.35L265.0,460.61L265.5,460.47L266.0,460.87L266.5,461.99L267.0,462.98L267.5,463.52L268.0,463.77L268.5,463.18L269.0,461.54L269.5,460.17L270.0,459.93L270.5,460.09L271.0,459.98L271.5,460.23L272.0,460.89L272.5,460.88L273.0,460.35L273.5,460.46L274.0,461.09L274.5,461.38L275.0,461.60L275.5,462.12L276.0,461.95L276.5,460.75L277.0,460.25L277.5,461.38L278.0,462.48L278.5,462.24L279.0,461.64L279.5,461.57L280.0,461.40L280.5,460.93L281.0,460.98L281.5,461.50L282.0,461.46L282.5,460.83L283.0,460.58L283.5,460.89L284.0,461.06L284.5,460.92L285.0,461.07L285.5,461.71L286.0,462.29L286.5,462.35L287.0,462.15L287.5,462.24L288.0,462.68L288.5,463.02L289.0,462.97L289.5,462.70L290.0,462.28L290.5,461.67L291.0,461.12L291.5,460.94L292.0,460.95L292.5,460.83L293.0,460.71L293.5,460.76L294.0,460.71L294.5,460.39L295.0,460.21L295.5,460.60L296.0,461.24L296.5,461.48L297.0,461.16L297.5,460.84L298.0,461.02L298.5,461.39L299.0,461.31L299.5,460.91L300.0,460.89L300.5,461.14L301.0,460.97L301.5,460.63L302.0,460.91L302.5,461.45L303.0,461.19L303.5,460.44L304.0,460.28L304.5,460.63L305.0,460.69L305.5,460.65L306.0,461.00L306.5,461.16L307.0,460.48L307.5,459.63L308.0,459.55L308.5,460.10L309.0,460.58L309.5,460.71L310.0,460.48L310.5,459.97L311.0,459.42L311.5,458.95L312.0,458.63L312.5,458.56L313.0,458.66L313.5,458.54L314.0,458.12L314.5,457.81L315.0,457.70L315.5,457.70L316.0,458.19L316.5,459.23L317.0,459.76L317.5,459.18L318.0,458.70L318.5,459.28L319.0,459.97L319.5,459.81L320.0,459.49L320.5,459.60L321.0,459.33L321.5,458.42L322.0,457.87L322.5,458.10L323.0,458.41L323.5,458.61L324.0,458.90L324.5,458.67L325.0,457.69L325.5,457.04L326.0,457.37L326.5,457.85L327.0,457.85L327.5,457.74L328.0,457.62L328.5,457.18L329.0,456.85L329.5,457.00L330.0,456.99L330.5,456.46L331.0,456.19L331.5,456.60L332.0,456.83L332.5,456.47L333.0,456.24L333.5,456.56L334.0,457.01L334.5,457.32L335.0,457.58L335.5,457.74L336.0,457.79L336.5,457.89L337.0,457.92L337.5,458.06L338.0,458.73L338.5,459.38L339.0,471.52L339.5,472.97L340.0,476.54L340.5,481.40L341.0,484.98L341.5,485.97L342.0,485.66L342.5,485.04L343.0,484.04L343.5,483.56L344.0,483.93L344.5,480.37L345.0,471.68L345.5,462.16L346.0,455.86L346.5,454.41L347.0,454.85L347.5,456.22L348.0,457.87L348.5,458.51L349.0,458.16L349.5,459.02L350.0,461.10L350.5,463.15L351.0,464.21L351.5,464.11L352.0,463.32L352.5,461.98L353.0,460.02L353.5,457.79L354.0,456.32L354.5,455.90L355.0,455.44L355.5,454.46L356.0,454.43L356.5,456.18L357.0,458.33L357.5,459.37L358.0,459.42L358.5,459.15L359.0,458.51L359.5,458.11L360.0,458.56L360.5,459.20L361.0,459.37L361.5,459.96L362.0,461.63L362.5,463.08L363.0,463.29L363.5,463.19L364.0,463.79L364.5,464.64L365.0,465.15L365.5,465.02L366.0,463.77L366.5,461.54L367.0,459.22L367.5,457.10L368.0,454.66L368.5,452.23L369.0,450.80L369.5,450.20L370.0,449.67L370.5,449.69L371.0,450.96L371.5,452.74L372.0,454.38L372.5,456.39L373.0,458.41L373.5,459.07L374.0,458.65L374.5,459.34L375.0,461.15L375.5,462.23L376.0,463.05L376.5,465.24L377.0,468.09L377.5,469.77L378.0,470.38L378.5,471.02L379.0,471.34L379.5,470.43L380.0,468.79L380.5,466.98L381.0,464.88L381.5,463.01L382.0,462.43L382.5,460.61L383.0,453.99L383.5,448.18L384.0,447.72L384.5,449.82L385.0,453.15L385.5,456.64L386.0,459.54L386.5,461.54L387.0,462.40L387.5,462.54L388.0,462.47L388.5,462.70L389.0,463.36L389.5,463.57L390.0,463.10L390.5,462.92L391.0,463.06L391.5,462.42L392.0,461.05L392.5,460.25L393.0,459.93L393.5,458.73L394.0,456.84L394.5,455.74L395.0,455.58L395.5,455.42L396.0,455.35L396.5,456.13L397.0,457.37L397.5,458.67L398.0,460.64L398.5,463.23L399.0,465.32L399.5,466.39L400.0,466.74L400.5,466.18L401.0,464.46L401.5,462.34L402.0,460.64L402.5,459.40L403.0,458.67L403.5,458.60L404.0,458.23L404.5,457.43L405.0,456.79L405.5,456.58L406.0,456.17L406.5,455.58L407.0,456.29L407.5,458.53L408.0,460.72L408.5,462.20L409.0,463.58L409.5,464.72L410.0,464.83L410.5,464.50L411.0,464.39L411.5,464.26L412.0,463.70L412.5,463.20L413.0,463.32L413.5,463.56L414.0,463.48L414.5,463.46L415.0,463.99L415.5,464.82L416.0,465.41L416.5,465.49L417.0,465.32L417.5,465.40L418.0,465.76L418.5,465.67L419.0,464.89L419.5,464.07L420.0,463.56L420.5,462.81L421.0,461.47L421.5,460.11L422.0,459.13L422.5,458.34L423.0,457.68L423.5,457.30L424.0,457.03L424.5,456.69L425.0,456.62L425.5,457.17L426.0,457.98L426.5,458.56L427.0,459.00L427.5,459.63L428.0,460.50L428.5,461.41L429.0,462.24L429.5,463.07L430.0,464.05L430.5,464.94L431.0,465.27L431.5,465.16L432.0,465.28L432.5,465.64L433.0,465.43L433.5,464.65L434.0,463.93L434.5,462.96L435.0,461.07L435.5,458.86L436.0,457.41L436.5,456.48L437.0,455.37L437.5,454.55L438.0,454.63L438.5,455.04L439.0,455.14L439.5,455.48L440.0,456.60L440.5,458.14L441.0,459.65L441.5,461.02L442.0,461.92L442.5,462.22L443.0,462.35L443.5,462.46L444.0,462.01L444.5,461.07L445.0,460.50L445.5,460.15L446.0,459.11L446.5,457.73L447.0,457.10L447.5,457.01L448.0,456.45L448.5,455.76L449.0,455.94L449.5,457.01L450.0,458.22L450.5,459.79L451.0,461.54L451.5,462.08L452.0,461.26L452.5,461.03L453.0,461.74L453.5,461.32L454.0,459.45L454.5,458.10L455.0,458.44L455.5,459.03L456.0,459.03L456.5,459.42L457.0,460.57L457.5,461.52L458.0,461.93L458.5,462.67L459.0,463.88L459.5,464.63L460.0,464.70L460.5,464.81L461.0,465.05L461.5,464.85L462.0,464.21L462.5,463.71L463.0,463.33L463.5,462.73L464.0,462.10L464.5,461.71L465.0,461.25L465.5,460.49L466.0,459.69L466.5,459.11L467.0,458.77L467.5,458.82L468.0,459.23L468.5,459.62L469.0,459.87L469.5,460.66L470.0,462.07L470.5,463.08L471.0,463.31L471.5,463.69L472.0,464.55L472.5,464.80L473.0,463.86L473.5,462.40L474.0,460.99L474.5,459.62L475.0,458.54L475.5,457.94L476.0,457.26L476.5,456.28L477.0,455.88L477.5,456.38L478.0,456.87L478.5,456.64L479.0,456.37L479.5,456.69L480.0,457.21L480.5,457.44L481.0,457.49L481.5,457.50L482.0,457.43L482.5,457.45L483.0,457.83L483.5,458.44L484.0,459.12L484.5,459.97L485.0,460.94L485.5,461.94L486.0,463.25L486.5,464.80L487.0,465.71L487.5,465.64L488.0,465.48L488.5,465.81L489.0,465.86L489.5,464.97L490.0,463.75L490.5,462.81L491.0,461.93L491.5,460.84L492.0,459.91L492.5,459.39L493.0,459.14L493.5,459.08L494.0,459.30L494.5,459.63L495.0,459.70L495.5,459.65L496.0,459.89L496.5,460.29L497.0,460.45L497.5,460.45L498.0,460.78L498.5,461.36L499.0,461.68L499.5,461.65L500.0,461.70L500.5,461.95L501.0,462.08L501.5,462.03L502.0,462.08L502.5,462.63L503.0,463.60L503.5,464.89L504.0,466.40L504.5,467.57L505.0,467.98L505.5,467.90L506.0,467.74L506.5,467.10L507.0,465.90L507.5,464.76L508.0,463.86L508.5,462.78L509.0,461.58L509.5,460.88L510.0,460.75L510.5,460.75L511.0,460.65L511.5,460.44L512.0,459.63L512.5,458.38L513.0,457.76L513.5,457.85L514.0,457.58L514.5,456.82L515.0,456.62L515.5,456.94L516.0,456.82L516.5,456.31L517.0,456.21L517.5,456.45L518.0,456.48L518.5,456.34L519.0,456.18L519.5,455.77L520.0,455.47L520.5,456.07L521.0,457.10L521.5,457.44L522.0,457.49L522.5,458.44L523.0,460.06L523.5,461.17L524.0,461.74L524.5,462.61L525.0,463.93L525.5,465.20L526.0,466.14L526.5,466.66L527.0,466.77L527.5,466.86L528.0,467.21L528.5,467.42L529.0,467.04L529.5,466.14L530.0,464.96L530.5,463.68L531.0,462.64L531.5,461.81L532.0,460.55L532.5,458.82L533.0,457.52L533.5,456.91L534.0,456.19L534.5,455.28L535.0,455.02L535.5,455.37L536.0,455.41L536.5,455.33L537.0,455.80L537.5,456.28L538.0,456.18L538.5,456.35L539.0,457.44L539.5,458.31L540.0,458.12L540.5,457.98L541.0,458.74L541.5,459.40L542.0,459.22L542.5,458.99L543.0,459.33L543.5,459.73L544.0,459.95L544.5,460.66L545.0,461.91L545.5,462.88L546.0,463.43L546.5,464.14L547.0,465.13L547.5,466.02L548.0,466.56L548.5,466.85L549.0,466.99L549.5,467.06L550.0,467.02L550.5,466.56L551.0,465.68L551.5,464.88L552.0,464.50L552.5,464.28L553.0,463.88L553.5,463.22L554.0,462.40L554.5,461.65L555.0,461.33L555.5,461.58L556.0,461.89L556.5,461.73L557.0,461.28L557.5,460.96L558.0,460.71L558.5,460.25L559.0,459.61L559.5,459.15L560.0,458.93L560.5,458.63L561.0,458.09L561.5,457.50L562.0,457.09L562.5,456.90L563.0,456.93L563.5,457.13L564.0,457.11L564.5,456.63L565.0,456.31L565.5,456.85L566.0,457.75L566.5,457.92L567.0,457.48L567.5,457.49L568.0,458.11L568.5,458.52L569.0,458.48L569.5,458.49L570.0,458.75L570.5,459.06L571.0,459.40L571.5,459.62L572.0,459.33L572.5,458.88L573.0,459.20L573.5,460.25L574.0,461.22L574.5,461.88L575.0,462.71L575.5,463.67L576.0,464.40L576.5,465.12L577.0,466.10L577.5,466.83L578.0,466.83L578.5,466.65L579.0,466.75L579.5,466.71L580.0,466.08L580.5,465.12L581.0,464.28L581.5,463.84L582.0,463.91L582.5,464.09L583.0,464.00L583.5,463.69L584.0,463.56L584.5,463.47L585.0,462.95L585.5,462.25L586.0,461.99L586.5,461.98L587.0,461.85L587.5,461.89L588.0,462.18L588.5,461.97L589.0,461.07L589.5,460.59L590.0,460.77L590.5,460.52L591.0,459.59L591.5,458.95L592.0,458.60L592.5,457.72L593.0,456.76L593.5,456.75L594.0,456.99L594.5,456.34L595.0,455.69L595.5,456.36L596.0,457.41L596.5,457.38L597.0,457.01L597.5,457.63L598.0,458.59L598.5,458.72L599.0,458.41L599.5,458.75L600.0,459.44L600.5,460.25L601.0,461.71L601.5,463.56L602.0,464.49L602.5,464.17L603.0,463.72L603.5,464.01L604.0,464.44L604.5,464.34L605.0,463.90L605.5,463.55L606.0,463.44L606.5,463.32L607.0,462.87L607.5,462.21L608.0,461.94L608.5,462.29L609.0,462.62L609.5,462.40L610.0,462.03L610.5,462.18L611.0,462.78L611.5,463.24L612.0,463.25L612.5,463.13L613.0,463.40L613.5,464.13L614.0,464.71L614.5,464.49L615.0,463.73L615.5,463.33L616.0,463.56L616.5,463.77L617.0,463.34L617.5,462.57L618.0,462.25L618.5,462.55L619.0,462.69L619.5,462.01L620.0,461.13L620.5,461.11L621.0,461.80L621.5,462.06L622.0,461.59L622.5,461.09L623.0,460.89L623.5,460.66L624.0,460.33L624.5,460.05L625.0,459.64L625.5,459.10L626.0,458.87L626.5,458.94L627.0,458.63L627.5,457.92L628.0,457.63L628.5,457.96L629.0,458.25L629.5,458.29L630.0,458.33L630.5,458.40L631.0,458.61L631.5,459.40L632.0,460.56L632.5,461.17L633.0,461.12L633.5,461.33L634.0,461.96L634.5,462.24L635.0,462.17L635.5,462.44L636.0,462.86L636.5,462.65L637.0,462.04L637.5,461.77L638.0,461.71L638.5,461.40L639.0,461.08L639.5,461.03L640.0,460.92L640.5,460.51L641.0,460.13L641.5,459.95L642.0,459.73L642.5,459.45L643.0,459.35L643.5,459.57L644.0,459.87L644.5,459.91L645.0,459.56L645.5,459.21L646.0,459.40L646.5,459.85L647.0,459.87L647.5,459.61L648.0,459.72L648.5,460.00L649.0,459.86L649.5,459.68L650.0,459.98L650.5,460.17L651.0,459.77L651.5,459.61L652.0,460.26L652.5,460.64L653.0,459.99L653.5,459.42L654.0,460.01L654.5,460.86L655.0,460.85L655.5,460.55L656.0,461.05L656.5,462.06L657.0,462.52L657.5,462.31L658.0,462.27L658.5,462.82L659.0,463.45L659.5,463.62L660.0,463.48L660.5,463.42L661.0,463.43L661.5,463.64L662.0,464.38L662.5,465.27L663.0,465.41L663.5,465.08L664.0,465.41L664.5,466.19L665.0,465.99L665.5,464.94L666.0,464.65L666.5,465.23L667.0,465.12L667.5,464.04L668.0,463.23L668.5,462.96L669.0,462.47L669.5,461.97L670.0,462.03L670.5,462.13L671.0,461.69L671.5,461.35L672.0,461.53L672.5,461.52L673.0,460.86L673.5,460.27L674.0,460.19L674.5,460.14L675.0,459.74L675.5,459.07L676.0,458.21L676.5,457.62L677.0,457.85L677.5,458.36L678.0,458.08L678.5,457.34L679.0,457.31L679.5,457.85L680.0,457.97L680.5,457.86L681.0,458.24L681.5,458.77L682.0,458.90L682.5,459.07L683.0,459.52L683.5,459.61L684.0,459.27L684.5,459.49L685.0,460.26L685.5,460.48L686.0,460.05L686.5,460.12L687.0,460.69L687.5,460.83L688.0,460.56L688.5,460.76L689.0,461.40L689.5,461.69L690.0,461.52L690.5,461.42L691.0,461.45" fill="none" stroke="#000" stroke-width="1.05" stroke-linejoin="round"/>
<path d="M96.0,499.85L96.5,499.85L97.0,499.85L97.5,499.85L98.0,499.85L98.5,499.85L99.0,499.85L99.5,499.85L100.0,499.85L100.5,499.85L101.0,499.85L101.5,499.85L102.0,499.85L102.5,499.85L103.0,499.85L103.5,499.85L104.0,499.85L104.5,499.85L105.0,499.85L105.5,499.85L106.0,499.85L106.5,499.85L107.0,499.85L107.5,499.85L108.0,499.85L108.5,499.85L109.0,499.85L109.5,499.85L110.0,499.85L110.5,499.85L111.0,499.85L111.5,499.85L112.0,499.85L112.5,499.85L113.0,499.85L113.5,499.85L114.0,499.85L114.5,499.85L115.0,499.85L115.5,499.85L116.0,499.85L116.5,499.85L117.0,499.85L117.5,499.85L118.0,499.85L118.5,499.85L119.0,499.85L119.5,499.85L120.0,499.85L120.5,499.85L121.0,499.85L121.5,499.85L122.0,499.85L122.5,499.85L123.0,499.85L123.5,499.85L124.0,499.85L124.5,499.85L125.0,499.85L125.5,499.85L126.0,499.85L126.5,499.85L127.0,499.85L127.5,499.85L128.0,499.85L128.5,499.85L129.0,499.85L129.5,499.85L130.0,499.85L130.5,499.85L131.0,499.85L131.5,499.85L132.0,499.85L132.5,499.85L133.0,499.85L133.5,499.85L134.0,499.85L134.5,499.85L135.0,499.85L135.5,499.85L136.0,499.85L136.5,499.85L137.0,499.85L137.5,499.85L138.0,499.85L138.5,499.85L139.0,499.85L139.5,499.85L140.0,499.85L140.5,499.85L141.0,499.85L141.5,499.85L142.0,499.85L142.5,499.85L143.0,499.85L143.5,499.85L144.0,499.85L144.5,499.85L145.0,499.85L145.5,499.85L146.0,499.85L146.5,499.85L147.0,499.85L147.5,499.85L148.0,499.85L148.5,499.85L149.0,499.85L149.5,499.85L150.0,499.85L150.5,499.85L151.0,499.85L151.5,499.85L152.0,499.85L152.5,499.85L153.0,499.85L153.5,499.85L154.0,499.85L154.5,499.85L155.0,499.85L155.5,499.85L156.0,499.85L156.5,499.85L157.0,499.85L157.5,499.85L158.0,499.85L158.5,499.85L159.0,499.85L159.5,499.85L160.0,499.85L160.5,499.85L161.0,499.85L161.5,499.85L162.0,499.85L162.5,499.85L163.0,499.85L163.5,499.85L164.0,499.85L164.5,499.85L165.0,499.85L165.5,499.85L166.0,499.85L166.5,499.85L167.0,499.85L167.5,499.85L168.0,499.85L168.5,499.85L169.0,499.85L169.5,499.85L170.0,499.85L170.5,499.85L171.0,499.85L171.5,499.85L172.0,499.85L172.5,499.85L173.0,499.85L173.5,499.85L174.0,499.85L174.5,499.85L175.0,499.85L175.5,499.85L176.0,499.85L176.5,499.85L177.0,499.85L177.5,499.85L178.0,499.85L178.5,499.85L179.0,499.85L179.5,499.85L180.0,499.85L180.5,499.85L181.0,499.85L181.5,499.85L182.0,499.85L182.5,499.85L183.0,499.85L183.5,499.85L184.0,499.85L184.5,499.85L185.0,499.85L185.5,499.85L186.0,499.85L186.5,499.85L187.0,499.85L187.5,499.85L188.0,499.85L188.5,499.85L189.0,499.85L189.5,499.85L190.0,499.85L190.5,499.85L191.0,499.85L191.5,499.85L192.0,499.85L192.5,499.85L193.0,499.85L193.5,499.85L194.0,499.85L194.5,499.85L195.0,499.85L195.5,499.85L196.0,499.85L196.5,499.85L197.0,499.85L197.5,499.85L198.0,499.85L198.5,499.85L199.0,499.85L199.5,499.85L200.0,499.85L200.5,499.85L201.0,499.85L201.5,499.85L202.0,499.85L202.5,499.85L203.0,499.85L203.5,499.85L204.0,499.85L204.5,499.85L205.0,499.85L205.5,499.85L206.0,499.85L206.5,499.85L207.0,499.85L207.5,499.85L208.0,499.85L208.5,499.85L209.0,499.85L209.5,499.85L210.0,499.85L210.5,499.85L211.0,499.85L211.5,499.85L212.0,499.85L212.5,499.85L213.0,499.85L213.5,499.85L214.0,499.85L214.5,499.85L215.0,499.85L215.5,499.85L216.0,499.85L216.5,499.85L217.0,499.85L217.5,499.85L218.0,499.85L218.5,499.85L219.0,499.85L219.5,499.85L220.0,499.85L220.5,499.85L221.0,499.85L221.5,499.85L222.0,499.85L222.5,499.85L223.0,499.85L223.5,499.85L224.0,499.85L224.5,499.85L225.0,499.85L225.5,499.85L226.0,499.85L226.5,499.85L227.0,499.85L227.5,499.85L228.0,499.85L228.5,499.85L229.0,499.85L229.5,499.85L230.0,499.85L230.5,499.85L231.0,499.85L231.5,499.85L232.0,499.85L232.5,499.85L233.0,499.53L233.5,498.98L234.0,498.68L234.5,497.25L235.0,495.02L235.5,493.87L236.0,494.52L236.5,495.92L237.0,497.43L237.5,499.17L238.0,500.33L238.5,500.36L239.0,500.06L239.5,500.30L240.0,500.92L240.5,501.23L241.0,501.36L241.5,501.40L242.0,499.99L242.5,497.88L243.0,497.01L243.5,497.14L244.0,497.57L244.5,497.95L245.0,498.17L245.5,498.19L246.0,498.03L246.5,498.00L247.0,498.27L247.5,498.64L248.0,498.96L248.5,499.25L249.0,499.45L249.5,499.34L250.0,498.99L250.5,498.70L251.0,498.89L251.5,499.71L252.0,500.68L252.5,501.04L253.0,500.85L253.5,500.86L254.0,501.20L254.5,501.28L255.0,501.08L255.5,500.36L256.0,498.67L256.5,497.19L257.0,496.88L257.5,497.19L258.0,497.87L258.5,498.63L259.0,499.70L259.5,500.93L260.0,501.20L260.5,500.44L261.0,499.98L261.5,500.54L262.0,501.11L262.5,500.70L263.0,499.95L263.5,499.92L264.0,500.40L264.5,500.45L265.0,499.91L265.5,499.49L266.0,499.74L266.5,500.31L267.0,500.40L267.5,499.85L268.0,499.32L268.5,499.36L269.0,499.73L269.5,499.93L270.0,499.81L270.5,499.48L271.0,499.12L271.5,499.03L272.0,499.26L272.5,499.43L273.0,499.17L273.5,498.75L274.0,498.67L274.5,499.02L275.0,499.43L275.5,499.54L276.0,499.45L276.5,499.47L277.0,499.63L277.5,499.64L278.0,499.57L278.5,499.97L279.0,500.83L279.5,501.30L280.0,501.02L280.5,500.68L281.0,500.73L281.5,500.89L282.0,501.14L282.5,501.70L283.0,502.04L283.5,501.60L284.0,501.08L284.5,501.26L285.0,501.45L285.5,500.87L286.0,500.40L286.5,500.82L287.0,501.06L287.5,500.17L288.0,499.22L288.5,499.31L289.0,499.71L289.5,499.43L290.0,498.87L290.5,498.66L291.0,498.64L291.5,498.68L292.0,498.95L292.5,499.15L293.0,498.97L293.5,499.02L294.0,499.84L294.5,500.75L295.0,500.91L295.5,500.56L296.0,500.42L296.5,500.63L297.0,500.97L297.5,501.29L298.0,501.28L298.5,500.72L299.0,499.92L299.5,499.53L300.0,499.71L300.5,499.93L301.0,499.75L301.5,499.32L302.0,499.10L302.5,499.12L303.0,499.04L303.5,498.79L304.0,498.80L304.5,499.24L305.0,499.60L305.5,499.51L306.0,499.21L306.5,499.16L307.0,499.48L307.5,499.95L308.0,500.17L308.5,499.93L309.0,499.60L309.5,499.83L310.0,500.42L310.5,500.53L311.0,500.01L311.5,499.76L312.0,500.18L312.5,500.59L313.0,500.37L313.5,499.83L314.0,499.65L314.5,500.00L315.0,500.38L315.5,500.22L316.0,499.71L316.5,499.70L317.0,500.25L317.5,500.33L318.0,499.60L318.5,499.16L319.0,499.67L319.5,500.27L320.0,500.33L320.5,500.32L321.0,500.55L321.5,500.63L322.0,500.67L322.5,501.26L323.0,502.15L323.5,502.53L324.0,502.52L324.5,502.85L325.0,503.33L325.5,503.32L326.0,502.83L326.5,502.27L327.0,501.87L327.5,501.62L328.0,501.35L328.5,500.51L329.0,499.01L329.5,497.56L330.0,496.68L330.5,495.96L331.0,495.23L331.5,495.15L332.0,495.73L332.5,495.92L333.0,495.25L333.5,494.75L334.0,495.23L334.5,496.19L335.0,496.85L335.5,497.04L336.0,496.43L336.5,494.81L337.0,492.56L337.5,490.34L338.0,488.45L338.5,486.80L339.0,485.55L339.5,485.30L340.0,486.78L340.5,489.49L341.0,492.24L341.5,494.89L342.0,497.45L342.5,499.04L343.0,501.43L343.5,504.42L344.0,507.38L344.5,508.85L345.0,508.62L345.5,507.34L346.0,506.10L346.5,505.33L347.0,504.75L347.5,504.48L348.0,504.62L348.5,504.85L349.0,504.38L349.5,503.39L350.0,502.80L350.5,502.99L351.0,503.44L351.5,503.57L352.0,503.33L352.5,503.18L353.0,503.43L353.5,503.79L354.0,503.81L354.5,503.65L355.0,502.61L355.5,500.00L356.0,496.46L356.5,493.38L357.0,492.29L357.5,493.27L358.0,495.53L358.5,498.01L359.0,499.59L359.5,499.80L360.0,499.57L360.5,499.19L361.0,498.53L361.5,498.04L362.0,498.24L362.5,498.33L363.0,497.62L363.5,496.58L364.0,496.11L364.5,496.06L365.0,495.90L365.5,496.05L366.0,497.03L366.5,498.25L367.0,499.35L367.5,500.88L368.0,502.77L368.5,503.82L369.0,503.62L369.5,503.47L370.0,504.19L370.5,504.71L371.0,504.36L371.5,503.83L372.0,503.87L372.5,504.40L373.0,505.00L373.5,505.26L374.0,504.96L374.5,504.29L375.0,503.69L375.5,503.24L376.0,502.66L376.5,502.08L377.0,501.65L377.5,501.13L378.0,500.51L378.5,500.26L379.0,500.42L379.5,500.45L380.0,500.19L380.5,500.18L381.0,500.43L381.5,500.21L382.0,499.53L382.5,499.55L383.0,500.83L383.5,502.16L384.0,502.70L384.5,502.86L385.0,503.14L385.5,502.97L386.0,501.73L386.5,500.22L387.0,499.46L387.5,499.17L388.0,498.63L388.5,498.19L389.0,498.18L389.5,497.49L390.0,495.62L390.5,493.52L391.0,492.39L391.5,492.04L392.0,491.87L392.5,492.13L393.0,493.15L393.5,494.16L394.0,494.80L394.5,495.90L395.0,497.68L395.5,498.99L396.0,499.36L396.5,499.61L397.0,500.33L397.5,502.03L398.0,503.44L398.5,503.86L399.0,503.79L399.5,503.02L400.0,502.01L400.5,501.46L401.0,500.98L401.5,500.04L402.0,499.07L402.5,498.53L403.0,498.14L403.5,497.82L404.0,497.76L404.5,497.95L405.0,497.76L405.5,497.02L406.0,496.36L406.5,496.24L407.0,496.62L407.5,497.22L408.0,497.73L408.5,497.96L409.0,498.13L409.5,498.52L410.0,499.07L410.5,499.62L411.0,500.08L411.5,500.25L412.0,499.83L412.5,499.01L413.0,498.21L413.5,497.52L414.0,496.87L414.5,496.38L415.0,496.05L415.5,495.60L416.0,495.07L416.5,494.84L417.0,495.02L417.5,495.42L418.0,496.17L418.5,497.45L419.0,498.78L419.5,499.54L420.0,499.93L420.5,500.59L421.0,501.63L421.5,502.54L422.0,502.95L422.5,503.03L423.0,503.12L423.5,503.19L424.0,502.85L424.5,502.13L425.0,501.56L425.5,501.34L426.0,500.98L426.5,500.21L427.0,499.46L427.5,498.97L428.0,498.41L428.5,497.71L429.0,497.24L429.5,497.05L430.0,496.85L430.5,496.66L431.0,496.70L431.5,497.12L432.0,497.87L432.5,499.07L433.0,500.46L433.5,501.30L434.0,501.41L434.5,501.37L435.0,501.40L435.5,501.07L436.0,500.44L436.5,499.90L437.0,499.45L437.5,499.00L438.0,498.65L438.5,498.15L439.0,497.16L439.5,496.14L440.0,495.80L440.5,495.79L441.0,495.36L441.5,494.85L442.0,494.99L442.5,495.46L443.0,495.56L443.5,495.49L444.0,495.85L444.5,496.59L445.0,497.39L445.5,498.32L446.0,499.42L446.5,500.31L447.0,500.66L447.5,500.70L448.0,500.89L448.5,501.34L449.0,501.69L449.5,501.61L450.0,501.38L450.5,501.64L451.0,502.19L451.5,502.15L452.0,501.60L452.5,501.64L453.0,502.36L453.5,502.64L454.0,502.14L454.5,501.96L455.0,503.34L455.5,504.68L456.0,504.49L456.5,503.82L457.0,503.18L457.5,502.44L458.0,501.58L458.5,500.82L459.0,500.23L459.5,499.88L460.0,499.88L460.5,499.90L461.0,499.72L461.5,499.39L462.0,499.07L462.5,498.73L463.0,498.24L463.5,497.78L464.0,497.62L464.5,497.69L465.0,497.53L465.5,496.84L466.0,495.86L466.5,495.31L467.0,495.50L467.5,496.01L468.0,496.32L468.5,496.44L469.0,496.51L469.5,496.65L470.0,497.15L470.5,498.15L471.0,499.26L471.5,500.17L472.0,501.06L472.5,502.00L473.0,502.54L473.5,502.64L474.0,502.87L474.5,503.17L475.0,503.16L475.5,503.11L476.0,503.71L476.5,504.62L477.0,504.86L477.5,504.58L478.0,504.70L478.5,505.13L479.0,504.93L479.5,504.03L480.0,502.98L480.5,501.92L481.0,500.72L481.5,499.26L482.0,497.37L482.5,495.28L483.0,493.93L483.5,493.54L484.0,493.00L484.5,491.85L485.0,491.25L485.5,491.74L486.0,492.28L486.5,492.33L487.0,492.78L487.5,493.90L488.0,494.60L488.5,494.64L489.0,495.17L489.5,496.37L490.0,497.09L490.5,497.08L491.0,497.44L491.5,498.37L492.0,498.79L492.5,498.33L493.0,497.96L493.5,498.09L494.0,498.20L494.5,498.10L495.0,498.33L495.5,498.95L496.0,499.25L496.5,498.92L497.0,498.57L497.5,498.64L498.0,498.81L498.5,498.91L499.0,499.28L499.5,499.80L500.0,499.79L500.5,499.35L501.0,499.31L501.5,499.67L502.0,499.51L502.5,499.07L503.0,499.50L503.5,500.78L504.0,501.66L504.5,501.83L505.0,502.08L505.5,502.59L506.0,502.88L506.5,503.02L507.0,503.38L507.5,503.67L508.0,503.47L508.5,503.13L509.0,502.96L509.5,502.57L510.0,501.92L510.5,501.60L511.0,501.66L511.5,501.48L512.0,500.92L512.5,500.50L513.0,500.39L513.5,500.26L514.0,499.97L514.5,499.72L515.0,499.71L515.5,499.89L516.0,499.96L516.5,499.70L517.0,499.43L517.5,499.57L518.0,499.81L518.5,499.51L519.0,498.93L519.5,498.79L520.0,499.00L520.5,498.95L521.0,498.72L521.5,498.76L522.0,498.83L522.5,498.54L523.0,498.26L523.5,498.41L524.0,498.74L524.5,498.89L525.0,498.89L525.5,498.83L526.0,498.78L526.5,499.01L527.0,499.57L527.5,499.97L528.0,499.94L528.5,499.93L529.0,500.22L529.5,500.49L530.0,500.55L530.5,500.73L531.0,501.13L531.5,501.54L532.0,501.79L532.5,501.83L533.0,501.55L533.5,501.17L534.0,501.27L534.5,501.89L535.0,502.37L535.5,502.19L536.0,501.54L536.5,501.00L537.0,500.90L537.5,501.12L538.0,501.16L538.5,500.76L539.0,500.29L539.5,500.19L540.0,500.38L540.5,500.43L541.0,500.29L541.5,500.08L542.0,499.87L542.5,499.72L543.0,499.65L543.5,499.55L544.0,499.32L544.5,499.00L545.0,498.60L545.5,498.12L546.0,497.73L546.5,497.52L547.0,497.21L547.5,496.68L548.0,496.35L548.5,496.43L549.0,496.44L549.5,496.09L550.0,495.75L550.5,495.67L551.0,495.62L551.5,495.73L552.0,496.26L552.5,496.88L553.0,497.11L553.5,497.25L554.0,497.78L554.5,498.46L555.0,498.85L555.5,499.11L556.0,499.45L556.5,499.74L557.0,499.92L557.5,500.04L558.0,499.99L558.5,499.78L559.0,499.88L559.5,500.37L560.0,500.61L560.5,500.43L561.0,500.44L561.5,500.79L562.0,500.99L562.5,501.08L563.0,501.36L563.5,501.44L564.0,500.91L564.5,500.48L565.0,500.82L565.5,501.26L566.0,500.95L566.5,500.29L567.0,500.00L567.5,499.88L568.0,499.55L568.5,499.23L569.0,499.09L569.5,498.86L570.0,498.56L570.5,498.48L571.0,498.56L571.5,498.40L572.0,498.05L572.5,497.89L573.0,498.12L573.5,498.56L574.0,498.84L574.5,498.77L575.0,498.53L575.5,498.53L576.0,498.89L576.5,499.25L577.0,499.43L577.5,499.58L578.0,499.79L578.5,499.84L579.0,499.59L579.5,499.35L580.0,499.56L580.5,500.18L581.0,500.61L581.5,500.41L582.0,500.11L582.5,500.42L583.0,501.20L583.5,501.81L584.0,502.13L584.5,502.49L585.0,502.92L585.5,503.32L586.0,503.66L586.5,503.77L587.0,503.60L587.5,503.62L588.0,504.07L588.5,504.19L589.0,503.52L589.5,502.97L590.0,503.19L590.5,503.28L591.0,502.51L591.5,501.78L592.0,501.76L592.5,501.63L593.0,500.96L593.5,500.65L594.0,500.88L594.5,500.62L595.0,499.81L595.5,499.55L596.0,499.91L596.5,499.93L597.0,499.64L597.5,499.82L598.0,500.13L598.5,499.67L599.0,498.88L599.5,498.72L600.0,498.89L600.5,498.68L601.0,498.33L601.5,498.26L602.0,498.03L602.5,497.26L603.0,496.56L603.5,496.50L604.0,496.66L604.5,496.43L605.0,495.99L605.5,495.80L606.0,495.68L606.5,495.19L607.0,494.63L607.5,494.71L608.0,495.35L608.5,495.61L609.0,495.18L609.5,494.82L610.0,495.06L610.5,495.55L611.0,495.96L611.5,496.41L612.0,496.81L612.5,496.87L613.0,496.92L613.5,497.37L614.0,497.72L614.5,497.40L615.0,497.09L615.5,497.55L616.0,498.30L616.5,498.58L617.0,498.63L617.5,498.98L618.0,499.44L618.5,499.66L619.0,499.94L619.5,500.50L620.0,500.90L620.5,500.76L621.0,500.44L621.5,500.61L622.0,501.17L622.5,501.51L623.0,501.43L623.5,501.44L624.0,501.92L624.5,502.31L625.0,501.91L625.5,501.21L626.0,501.25L626.5,501.86L627.0,501.95L627.5,501.43L628.0,501.15L628.5,501.36L629.0,501.41L629.5,501.03L630.0,500.60L630.5,500.50L631.0,500.73L631.5,500.98L632.0,500.84L632.5,500.32L633.0,499.99L633.5,500.06L634.0,500.05L634.5,499.81L635.0,499.85L635.5,500.21L636.0,500.27L636.5,499.94L637.0,499.72L637.5,499.65L638.0,499.53L638.5,499.62L639.0,500.04L639.5,500.18L640.0,499.81L640.5,499.64L641.0,499.92L641.5,499.86L642.0,499.28L642.5,499.07L643.0,499.57L643.5,500.04L644.0,499.97L644.5,499.65L645.0,499.32L645.5,499.04L646.0,499.01L646.5,499.30L647.0,499.52L647.5,499.47L648.0,499.39L648.5,499.31L649.0,499.06L649.5,498.83L650.0,498.95L650.5,499.18L651.0,499.18L651.5,499.12L652.0,499.23L652.5,499.20L653.0,498.83L653.5,498.60L654.0,498.94L654.5,499.40L655.0,499.24L655.5,498.60L656.0,498.36L656.5,498.72L657.0,498.87L657.5,498.35L658.0,497.89L658.5,498.14L659.0,498.51L659.5,498.28L660.0,497.83L660.5,497.80L661.0,497.89L661.5,497.72L662.0,497.80L662.5,498.45L663.0,499.11L663.5,499.27L664.0,499.29L664.5,499.62L665.0,500.15L665.5,500.60L666.0,500.76L666.5,500.61L667.0,500.55L667.5,500.82L668.0,500.98L668.5,500.55L669.0,500.03L669.5,500.13L670.0,500.48L670.5,500.40L671.0,500.26L671.5,500.43L672.0,500.38L672.5,499.81L673.0,499.47L673.5,499.77L674.0,499.96L674.5,499.70L675.0,499.60L675.5,499.79L676.0,499.72L676.5,499.43L677.0,499.47L677.5,499.70L678.0,499.53L678.5,499.18L679.0,499.25L679.5,499.66L680.0,499.91L680.5,499.80L681.0,499.50L681.5,499.26L682.0,499.33L682.5,499.56L683.0,499.51L683.5,499.32L684.0,499.56L684.5,500.02L685.0,499.87L685.5,499.19L686.0,499.01L686.5,499.53L687.0,499.84L687.5,499.58L688.0,499.36L688.5,499.50L689.0,499.64L689.5,499.62L690.0,499.73L690.5,499.97L691.0,499.91" fill="none" stroke="#000" stroke-width="1.05" stroke-linejoin="round"/>
<path d="M96.0,538.20L96.5,538.20L97.0,538.20L97.5,538.20L98.0,538.20L98.5,538.20L99.0,538.20L99.5,538.20L100.0,538.20L100.5,538.20L101.0,538.20L101.5,538.20L102.0,538.20L102.5,538.20L103.0,538.20L103.5,538.20L104.0,538.20L104.5,538.20L105.0,538.20L105.5,538.20L106.0,538.20L106.5,538.20L107.0,538.20L107.5,538.20L108.0,538.20L108.5,538.20L109.0,538.20L109.5,538.20L110.0,538.20L110.5,538.20L111.0,538.20L111.5,538.20L112.0,538.20L112.5,538.20L113.0,538.20L113.5,538.20L114.0,538.20L114.5,538.20L115.0,538.20L115.5,538.20L116.0,538.20L116.5,538.20L117.0,538.20L117.5,538.20L118.0,538.20L118.5,538.20L119.0,538.20L119.5,538.20L120.0,538.20L120.5,538.20L121.0,538.20L121.5,538.20L122.0,538.20L122.5,538.20L123.0,538.20L123.5,538.20L124.0,538.20L124.5,538.20L125.0,538.20L125.5,538.20L126.0,538.20L126.5,538.20L127.0,538.20L127.5,538.20L128.0,538.20L128.5,538.20L129.0,538.20L129.5,538.20L130.0,538.20L130.5,538.20L131.0,538.20L131.5,538.20L132.0,538.20L132.5,538.20L133.0,538.20L133.5,538.20L134.0,538.20L134.5,538.20L135.0,538.20L135.5,538.20L136.0,538.20L136.5,538.20L137.0,538.20L137.5,538.20L138.0,538.20L138.5,538.20L139.0,538.20L139.5,538.20L140.0,538.20L140.5,538.20L141.0,538.20L141.5,538.20L142.0,538.20L142.5,538.20L143.0,538.20L143.5,538.20L144.0,538.20L144.5,538.20L145.0,538.20L145.5,538.20L146.0,538.20L146.5,538.20L147.0,538.20L147.5,538.20L148.0,538.20L148.5,538.20L149.0,538.20L149.5,538.20L150.0,538.20L150.5,538.20L151.0,538.20L151.5,538.20L152.0,538.20L152.5,538.20L153.0,538.20L153.5,538.20L154.0,538.20L154.5,538.20L155.0,538.20L155.5,538.20L156.0,538.20L156.5,538.20L157.0,538.20L157.5,538.20L158.0,538.20L158.5,538.20L159.0,538.20L159.5,538.20L160.0,538.20L160.5,538.20L161.0,538.20L161.5,538.20L162.0,538.20L162.5,538.20L163.0,538.20L163.5,538.20L164.0,538.20L164.5,538.20L165.0,538.20L165.5,538.20L166.0,538.20L166.5,538.20L167.0,538.20L167.5,538.20L168.0,538.20L168.5,538.20L169.0,538.20L169.5,538.20L170.0,538.20L170.5,538.20L171.0,538.20L171.5,538.20L172.0,538.20L172.5,538.20L173.0,538.20L173.5,538.20L174.0,538.20L174.5,538.20L175.0,538.20L175.5,538.20L176.0,538.20L176.5,538.20L177.0,538.20L177.5,538.20L178.0,538.20L178.5,538.20L179.0,538.20L179.5,538.20L180.0,538.20L180.5,538.20L181.0,538.20L181.5,538.20L182.0,538.20L182.5,538.20L183.0,538.20L183.5,538.20L184.0,538.20L184.5,538.20L185.0,538.20L185.5,538.20L186.0,538.20L186.5,538.20L187.0,538.20L187.5,538.20L188.0,538.20L188.5,538.20L189.0,538.20L189.5,538.20L190.0,538.20L190.5,538.20L191.0,538.20L191.5,538.20L192.0,538.20L192.5,538.20L193.0,538.20L193.5,538.20L194.0,538.20L194.5,538.20L195.0,538.20L195.5,538.20L196.0,538.20L196.5,538.20L197.0,538.20L197.5,538.20L198.0,538.20L198.5,538.20L199.0,538.20L199.5,538.20L200.0,538.20L200.5,538.20L201.0,538.20L201.5,538.20L202.0,538.20L202.5,538.20L203.0,538.20L203.5,538.20L204.0,538.20L204.5,538.20L205.0,538.20L205.5,538.20L206.0,538.20L206.5,538.20L207.0,538.20L207.5,538.20L208.0,538.20L208.5,538.20L209.0,538.20L209.5,538.20L210.0,538.20L210.5,538.20L211.0,538.20L211.5,538.20L212.0,538.20L212.5,538.20L213.0,538.20L213.5,538.20L214.0,538.20L214.5,538.20L215.0,538.20L215.5,538.20L216.0,538.20L216.5,538.20L217.0,538.20L217.5,538.20L218.0,538.20L218.5,538.20L219.0,538.20L219.5,538.20L220.0,538.20L220.5,538.20L221.0,538.20L221.5,538.20L222.0,538.20L222.5,538.20L223.0,538.20L223.5,538.20L224.0,538.20L224.5,538.20L225.0,538.20L225.5,538.20L226.0,538.20L226.5,538.20L227.0,538.20L227.5,538.20L228.0,538.20L228.5,538.20L229.0,538.20L229.5,538.20L230.0,538.20L230.5,538.20L231.0,538.20L231.5,538.20L232.0,538.20L232.5,538.20L233.0,538.25L233.5,539.49L234.0,542.71L234.5,546.79L235.0,550.49L235.5,552.51L236.0,549.53L236.5,540.61L237.0,533.44L237.5,533.04L238.0,534.78L238.5,536.91L239.0,538.28L239.5,538.66L240.0,538.19L240.5,537.01L241.0,535.69L241.5,534.93L242.0,534.63L242.5,534.62L243.0,535.46L243.5,537.36L244.0,539.15L244.5,539.62L245.0,539.27L245.5,538.91L246.0,538.23L246.5,536.97L247.0,535.81L247.5,535.45L248.0,535.68L248.5,535.91L249.0,536.15L249.5,536.50L250.0,536.86L250.5,537.16L251.0,537.34L251.5,537.50L252.0,537.82L252.5,538.46L253.0,539.44L253.5,540.38L254.0,540.73L254.5,540.29L255.0,539.62L255.5,539.36L256.0,539.38L256.5,538.80L257.0,537.39L257.5,536.05L258.0,535.52L258.5,535.48L259.0,535.42L259.5,535.47L260.0,535.77L260.5,536.11L261.0,536.46L261.5,536.92L262.0,537.16L262.5,536.94L263.0,536.94L263.5,537.59L264.0,538.19L264.5,538.09L265.0,537.77L265.5,537.98L266.0,538.62L266.5,539.13L267.0,539.35L267.5,539.40L268.0,539.45L268.5,539.64L269.0,539.84L269.5,539.68L270.0,539.24L270.5,539.03L271.0,539.11L271.5,538.96L272.0,538.47L272.5,538.11L273.0,538.07L273.5,538.11L274.0,538.12L274.5,538.01L275.0,537.73L275.5,537.38L276.0,537.26L276.5,537.27L277.0,536.96L277.5,536.34L278.0,536.07L278.5,536.44L279.0,536.97L279.5,537.02L280.0,536.52L280.5,536.07L281.0,536.27L281.5,537.09L282.0,537.83L282.5,538.05L283.0,537.94L283.5,537.70L284.0,537.40L284.5,537.38L285.0,537.94L285.5,538.54L286.0,538.45L286.5,537.92L287.0,537.65L287.5,537.58L288.0,537.32L288.5,537.13L289.0,537.30L289.5,537.46L290.0,537.33L290.5,537.32L291.0,537.56L291.5,537.62L292.0,537.50L292.5,537.79L293.0,538.52L293.5,538.98L294.0,538.89L294.5,538.64L295.0,538.53L295.5,538.56L296.0,538.65L296.5,538.57L297.0,538.07L297.5,537.33L298.0,536.82L298.5,536.60L299.0,536.43L299.5,536.34L300.0,536.53L300.5,536.79L301.0,536.77L301.5,536.35L302.0,535.82L302.5,535.65L303.0,536.04L303.5,536.55L304.0,536.61L304.5,536.23L305.0,535.87L305.5,535.67L306.0,535.53L306.5,535.59L307.0,535.83L307.5,535.84L308.0,535.61L308.5,535.64L309.0,535.91L309.5,535.77L310.0,535.35L310.5,535.45L311.0,536.07L311.5,536.34L312.0,536.26L312.5,536.61L313.0,537.36L313.5,537.64L314.0,537.21L314.5,536.76L315.0,536.74L315.5,536.97L316.0,537.29L316.5,537.53L317.0,537.46L317.5,537.04L318.0,536.60L318.5,536.40L319.0,536.47L319.5,536.70L320.0,536.84L320.5,536.70L321.0,536.51L321.5,536.48L322.0,536.43L322.5,536.24L323.0,536.11L323.5,536.10L324.0,535.77L324.5,535.01L325.0,534.49L325.5,534.54L326.0,534.55L326.5,534.08L327.0,533.91L327.5,534.92L328.0,536.90L328.5,539.10L329.0,540.92L329.5,542.25L330.0,543.21L330.5,543.71L331.0,543.57L331.5,542.97L332.0,542.24L332.5,541.47L333.0,540.48L333.5,539.47L334.0,538.80L334.5,538.17L335.0,537.18L335.5,536.49L336.0,536.37L336.5,536.23L337.0,535.50L337.5,534.84L338.0,534.50L338.5,534.22L339.0,535.51L339.5,540.99L340.0,543.48L340.5,544.17L341.0,544.18L341.5,543.68L342.0,543.45L342.5,542.43L343.0,540.19L343.5,537.93L344.0,537.11L344.5,537.20L345.0,537.48L345.5,537.89L346.0,538.37L346.5,538.71L347.0,538.62L347.5,538.12L348.0,537.83L348.5,538.16L349.0,538.51L349.5,538.15L350.0,537.36L350.5,537.00L351.0,537.16L351.5,537.27L352.0,537.15L352.5,537.04L353.0,536.80L353.5,536.26L354.0,535.84L354.5,535.77L355.0,535.67L355.5,535.24L356.0,534.81L356.5,534.67L357.0,534.77L357.5,535.06L358.0,535.39L358.5,535.51L359.0,535.62L359.5,536.25L360.0,537.27L360.5,537.77L361.0,537.41L361.5,536.07L362.0,533.95L362.5,531.79L363.0,530.46L363.5,530.51L364.0,531.09L364.5,531.61L365.0,532.53L365.5,534.12L366.0,535.68L366.5,536.45L367.0,536.79L367.5,538.26L368.0,540.47L368.5,542.79L369.0,544.84L369.5,546.34L370.0,546.97L370.5,546.98L371.0,546.44L371.5,545.54L372.0,544.82L372.5,544.43L373.0,543.78L373.5,542.59L374.0,541.33L374.5,540.59L375.0,540.42L375.5,540.61L376.0,540.76L376.5,540.25L377.0,539.17L377.5,538.16L378.0,537.45L378.5,536.52L379.0,535.08L379.5,533.75L380.0,533.13L380.5,533.01L381.0,532.90L381.5,532.69L382.0,533.02L382.5,534.17L383.0,536.09L383.5,537.72L384.0,537.80L384.5,536.89L385.0,536.27L385.5,536.50L386.0,536.83L386.5,536.66L387.0,536.24L387.5,535.79L388.0,535.30L388.5,535.12L389.0,535.43L389.5,535.52L390.0,534.88L390.5,533.96L391.0,533.51L391.5,533.45L392.0,533.31L392.5,533.36L393.0,534.11L393.5,535.56L394.0,537.09L394.5,538.04L395.0,538.24L395.5,538.04L396.0,537.77L396.5,537.38L397.0,537.14L397.5,537.32L398.0,537.46L398.5,536.97L399.0,536.23L399.5,536.14L400.0,536.60L400.5,536.90L401.0,537.01L401.5,537.42L402.0,538.07L402.5,538.72L403.0,539.74L403.5,541.33L404.0,542.73L404.5,543.29L405.0,543.42L405.5,543.72L406.0,544.03L406.5,544.16L407.0,544.22L407.5,544.11L408.0,543.44L408.5,542.12L409.0,540.56L409.5,539.11L410.0,538.01L410.5,537.45L411.0,537.33L411.5,537.40L412.0,537.41L412.5,537.45L413.0,537.32L413.5,536.84L414.0,536.33L414.5,536.17L415.0,536.30L415.5,536.52L416.0,536.79L416.5,536.86L417.0,536.45L417.5,535.83L418.0,535.43L418.5,535.16L419.0,534.72L419.5,534.16L420.0,533.76L420.5,533.54L421.0,533.34L421.5,533.03L422.0,532.52L422.5,532.02L423.0,531.95L423.5,532.41L424.0,533.02L424.5,533.54L425.0,534.03L425.5,534.45L426.0,534.78L426.5,535.22L427.0,535.69L427.5,535.67L428.0,535.26L428.5,535.38L429.0,536.27L429.5,537.20L430.0,537.77L430.5,538.28L431.0,538.81L431.5,539.08L432.0,539.37L432.5,540.17L433.0,541.10L433.5,541.49L434.0,541.52L434.5,541.67L435.0,541.66L435.5,541.14L436.0,540.68L436.5,541.00L437.0,541.79L437.5,542.29L438.0,542.27L438.5,542.01L439.0,541.80L439.5,541.77L440.0,541.93L440.5,542.12L441.0,542.12L441.5,541.82L442.0,541.39L442.5,541.12L443.0,540.95L443.5,540.36L444.0,539.20L444.5,538.22L445.0,538.07L445.5,538.25L446.0,537.95L446.5,537.34L447.0,537.05L447.5,536.98L448.0,536.81L448.5,536.78L449.0,536.83L449.5,536.32L450.0,535.29L450.5,534.64L451.0,534.80L451.5,535.17L452.0,535.22L452.5,534.18L453.0,532.77L453.5,532.32L454.0,532.56L454.5,533.30L455.0,533.98L455.5,534.30L456.0,534.63L456.5,535.27L457.0,536.10L457.5,536.87L458.0,537.31L458.5,537.15L459.0,536.63L459.5,536.52L460.0,537.04L460.5,537.43L461.0,537.09L461.5,536.29L462.0,535.52L462.5,535.05L463.0,535.00L463.5,535.38L464.0,535.81L464.5,536.15L465.0,536.50L465.5,537.16L466.0,538.28L466.5,539.72L467.0,540.97L467.5,541.49L468.0,541.25L468.5,541.01L469.0,541.11L469.5,541.35L470.0,541.66L470.5,541.95L471.0,541.89L471.5,541.45L472.0,541.26L472.5,541.64L473.0,541.98L473.5,541.73L474.0,541.30L474.5,541.04L475.0,540.67L475.5,540.00L476.0,539.32L476.5,538.80L477.0,538.36L477.5,538.18L478.0,538.37L478.5,538.48L479.0,538.02L479.5,537.35L480.0,536.89L480.5,536.45L481.0,535.91L481.5,535.45L482.0,534.94L482.5,534.15L483.0,533.37L483.5,533.12L484.0,533.21L484.5,533.21L485.0,533.20L485.5,533.41L486.0,533.57L486.5,533.40L487.0,533.23L487.5,533.47L488.0,533.97L488.5,534.27L489.0,534.16L489.5,533.89L490.0,533.77L490.5,533.96L491.0,534.34L491.5,535.03L492.0,536.07L492.5,536.95L493.0,537.13L493.5,537.04L494.0,537.43L494.5,538.03L495.0,538.15L495.5,538.15L496.0,538.55L496.5,538.99L497.0,538.96L497.5,539.04L498.0,539.78L498.5,540.49L499.0,540.51L499.5,540.53L500.0,541.34L500.5,542.33L501.0,542.52L501.5,542.03L502.0,541.60L502.5,541.59L503.0,541.91L503.5,542.32L504.0,542.54L504.5,542.40L505.0,542.06L505.5,541.80L506.0,541.57L506.5,541.29L507.0,540.70L507.5,539.70L508.0,538.64L508.5,537.94L509.0,537.28L509.5,536.04L510.0,534.54L510.5,533.81L511.0,533.94L511.5,534.05L512.0,533.82L512.5,533.84L513.0,534.43L513.5,535.19L514.0,535.80L514.5,536.35L515.0,537.06L515.5,538.02L516.0,539.07L516.5,539.77L517.0,539.86L517.5,539.49L518.0,539.21L518.5,539.37L519.0,539.94L519.5,540.46L520.0,540.30L520.5,539.69L521.0,539.72L521.5,540.62L522.0,541.13L522.5,540.49L523.0,539.77L523.5,540.00L524.0,540.68L524.5,540.89L525.0,540.78L525.5,540.64L526.0,540.32L526.5,539.95L527.0,540.13L527.5,540.72L528.0,540.92L528.5,540.57L529.0,540.30L529.5,540.38L530.0,540.40L530.5,540.08L531.0,539.65L531.5,539.19L532.0,538.52L532.5,537.67L533.0,536.96L533.5,536.75L534.0,536.91L534.5,536.88L535.0,536.27L535.5,535.58L536.0,535.53L536.5,535.91L537.0,536.00L537.5,535.52L538.0,534.64L538.5,533.74L539.0,533.27L539.5,533.39L540.0,533.53L540.5,533.05L541.0,532.25L541.5,531.84L542.0,531.92L542.5,532.13L543.0,532.40L543.5,532.66L544.0,532.75L544.5,533.03L545.0,534.04L545.5,535.48L546.0,536.56L546.5,537.26L547.0,538.13L547.5,539.17L548.0,540.07L548.5,541.01L549.0,542.09L549.5,542.72L550.0,542.59L550.5,542.38L551.0,542.68L551.5,543.15L552.0,543.14L552.5,542.64L553.0,542.02L553.5,541.55L554.0,541.38L554.5,541.41L555.0,541.31L555.5,540.83L556.0,540.09L556.5,539.39L557.0,539.02L557.5,539.04L558.0,539.09L558.5,538.72L559.0,538.15L559.5,537.95L560.0,538.09L560.5,538.11L561.0,537.95L561.5,537.91L562.0,537.92L562.5,537.71L563.0,537.40L563.5,537.19L564.0,537.01L564.5,536.80L565.0,536.68L565.5,536.54L566.0,536.15L566.5,535.71L567.0,535.58L567.5,535.72L568.0,535.88L568.5,535.91L569.0,535.73L569.5,535.50L570.0,535.76L570.5,536.71L571.0,537.51L571.5,537.38L572.0,536.85L572.5,536.91L573.0,537.44L573.5,537.70L574.0,537.79L574.5,538.06L575.0,538.32L575.5,538.46L576.0,538.80L576.5,539.33L577.0,539.51L577.5,539.31L578.0,539.34L578.5,539.72L579.0,539.92L579.5,539.73L580.0,539.54L580.5,539.57L581.0,539.56L581.5,539.24L582.0,538.92L582.5,539.09L583.0,539.64L583.5,539.77L584.0,539.06L584.5,538.24L585.0,538.19L585.5,538.74L586.0,539.14L586.5,539.09L587.0,538.69L587.5,538.15L588.0,537.99L588.5,538.54L589.0,539.15L589.5,538.88L590.0,538.16L590.5,538.17L591.0,538.90L591.5,539.20L592.0,538.85L592.5,538.63L593.0,538.89L593.5,539.25L594.0,539.41L594.5,539.35L595.0,539.10L595.5,538.98L596.0,539.38L596.5,539.97L597.0,540.03L597.5,539.56L598.0,539.29L598.5,539.49L599.0,539.74L599.5,539.70L600.0,539.49L600.5,539.42L601.0,539.61L601.5,539.79L602.0,539.49L602.5,538.78L603.0,538.36L603.5,538.60L604.0,538.97L604.5,538.92L605.0,538.51L605.5,538.03L606.0,537.63L606.5,537.50L607.0,537.59L607.5,537.57L608.0,537.26L608.5,537.00L609.0,536.97L609.5,536.90L610.0,536.68L610.5,536.52L611.0,536.49L611.5,536.45L612.0,536.40L612.5,536.41L613.0,536.42L613.5,536.52L614.0,536.74L614.5,536.85L615.0,536.71L615.5,536.79L616.0,537.38L616.5,537.90L617.0,537.88L617.5,537.83L618.0,538.18L618.5,538.51L619.0,538.50L619.5,538.61L620.0,538.98L620.5,539.06L621.0,538.73L621.5,538.62L622.0,538.81L622.5,538.77L623.0,538.43L623.5,538.30L624.0,538.40L624.5,538.28L625.0,537.95L625.5,537.76L626.0,537.73L626.5,537.53L627.0,537.18L627.5,537.07L628.0,537.38L628.5,537.72L629.0,537.55L629.5,537.00L630.0,536.80L630.5,537.21L631.0,537.67L631.5,537.69L632.0,537.59L632.5,537.68L633.0,537.85L633.5,538.08L634.0,538.47L634.5,538.70L635.0,538.41L635.5,538.12L636.0,538.56L636.5,539.41L637.0,539.81L637.5,539.72L638.0,539.58L638.5,539.49L639.0,539.41L639.5,539.61L640.0,540.05L640.5,540.31L641.0,540.33L641.5,540.37L642.0,540.34L642.5,540.03L643.0,539.72L643.5,539.74L644.0,539.88L644.5,539.92L645.0,540.02L645.5,540.10L646.0,539.75L646.5,539.07L647.0,538.75L647.5,538.95L648.0,539.15L648.5,538.99L649.0,538.66L649.5,538.48L650.0,538.49L650.5,538.51L651.0,538.30L651.5,537.91L652.0,537.73L652.5,537.97L653.0,538.32L653.5,538.41L654.0,538.16L654.5,537.74L655.0,537.49L655.5,537.80L656.0,538.39L656.5,538.41L657.0,537.64L657.5,537.06L658.0,537.31L658.5,537.81L659.0,537.84L659.5,537.57L660.0,537.35L660.5,537.16L661.0,536.96L661.5,536.89L662.0,536.90L662.5,536.87L663.0,536.89L663.5,536.96L664.0,536.83L664.5,536.57L665.0,536.49L665.5,536.49L666.0,536.29L666.5,536.16L667.0,536.41L667.5,536.72L668.0,536.72L668.5,536.60L669.0,536.52L669.5,536.28L670.0,536.09L670.5,536.57L671.0,537.42L671.5,537.65L672.0,537.15L672.5,536.95L673.0,537.50L673.5,538.10L674.0,538.16L674.5,538.00L675.0,538.15L675.5,538.51L676.0,538.73L676.5,538.80L677.0,539.01L677.5,539.32L678.0,539.30L678.5,538.91L679.0,538.73L679.5,539.03L680.0,539.27L680.5,539.16L681.0,539.12L681.5,539.18L682.0,538.75L682.5,537.95L683.0,537.77L683.5,538.25L684.0,538.32L684.5,537.75L685.0,537.47L685.5,537.70L686.0,537.54L686.5,536.88L687.0,536.71L687.5,537.36L688.0,538.12L688.5,538.16L689.0,537.66L689.5,537.46L690.0,537.77L690.5,538.33L691.0,538.69" fill="none" stroke="#000" stroke-width="1.05" stroke-linejoin="round"/>
<path d="M99.6,824.9L100.0,824.6L100.6,824.2L101.4,823.7L102.1,823.2L102.8,822.7L103.5,822.3L104.1,821.8L104.8,821.4L105.4,820.9L106.1,820.2L106.5,819.7L106.9,819.1L107.3,818.5L107.7,817.9L108.1,817.2L108.5,816.5L108.9,815.8L109.3,815.2L109.7,814.6L110.1,813.9L110.4,813.2L110.8,812.5L111.2,811.8L111.5,811.2L111.9,810.7L112.2,810.3L113.0,809.6L113.8,809.4L114.5,809.3L115.2,809.2L115.9,809.3L116.6,809.5L117.3,809.8L117.9,810.2L118.5,810.8L118.9,811.3L119.2,811.9L119.6,812.5L119.9,813.2L120.3,814.0L120.6,814.6L120.9,815.3L121.2,816.0L121.5,816.7L121.7,817.4L122.0,818.0L122.3,818.6L122.7,819.5L123.1,820.4L123.6,821.1L124.0,821.6L124.9,821.7L126.0,821.3L126.6,821.1L127.3,820.8L128.1,820.5L128.8,820.4L129.6,820.5L130.4,820.8L131.3,821.1L132.0,821.4L132.8,821.7L133.4,821.9L134.2,821.9L134.9,821.8L135.7,821.5L136.6,821.2L137.5,820.9L138.2,820.7L138.9,820.6L139.6,820.4L140.4,820.2L141.1,820.0L141.8,819.9L142.6,819.7L143.4,819.5L144.2,819.4L144.9,819.3L145.6,819.2L146.5,819.2L147.3,819.4L148.3,819.6L148.9,819.8L149.6,820.0L150.3,820.3L151.1,820.5L151.9,820.8L152.6,821.0L153.3,821.2L154.0,821.4L154.7,821.6L155.5,821.7L156.2,821.9L157.0,822.1L157.7,822.3L158.5,822.4L159.2,822.6L160.0,822.8L160.8,822.9L161.6,823.1L162.4,823.2L163.2,823.3L164.0,823.4L164.8,823.5L165.6,823.6L166.3,823.7L167.1,823.8L167.8,823.9L168.5,824.0L169.2,824.1L169.9,824.2L170.5,824.3L171.2,824.4L172.0,824.6L172.7,824.8L173.3,824.9L174.0,825.1L174.8,825.4L175.5,825.6L176.3,825.8L177.1,826.0L178.0,826.2L178.6,826.3L179.3,826.5L180.0,826.6L180.7,826.7L181.4,826.9L182.1,827.0L182.9,827.1L183.6,827.3L184.4,827.4L185.2,827.5L186.0,827.6L186.6,827.7L187.3,827.8L187.9,827.8L188.6,827.9L189.3,828.0L189.9,828.1L190.6,828.1L191.3,828.2L192.1,828.3L192.8,828.3L193.6,828.4L194.3,828.5L195.2,828.5L196.0,828.6L196.6,828.6L197.2,828.7L197.8,828.7L198.4,828.8L199.1,828.8L199.7,828.9L200.4,828.9L201.0,828.9L201.7,829.0L202.4,829.0L203.1,829.1L203.8,829.1L204.5,829.1L205.2,829.2L206.0,829.2L206.8,829.3L207.5,829.3L208.3,829.3L209.2,829.4L210.0,829.4L210.6,829.4L211.2,829.4L211.8,829.5L212.5,829.5L213.1,829.5L213.7,829.5L214.3,829.6L215.0,829.6L215.6,829.6L216.3,829.6L217.0,829.7L217.6,829.7L218.3,829.7L219.0,829.7L219.7,829.7L220.4,829.8L221.1,829.8L221.9,829.8L222.6,829.8L223.4,829.8L224.2,829.9L224.9,829.9L225.7,829.9L226.6,829.9L227.4,829.9L228.2,830.0L229.1,830.0L230.0,830.0L230.6,830.0L231.2,830.0L231.8,830.0L232.4,830.1L233.0,830.1L233.7,830.1L234.3,830.1L234.9,830.1L235.6,830.1L236.2,830.1L236.9,830.1L237.6,830.2L238.2,830.2L238.9,830.2L239.6,830.2L240.2,830.2L240.9,830.2L241.6,830.2L242.3,830.2L243.0,830.3L243.8,830.3L244.5,830.3L245.2,830.3L245.9,830.3L246.7,830.3L247.4,830.3L248.1,830.3L248.9,830.4L249.6,830.4L250.4,830.4L251.2,830.4L252.0,830.4L252.7,830.4L253.5,830.4L254.3,830.4L255.1,830.4L255.9,830.5L256.7,830.5L257.5,830.5L258.3,830.5L259.2,830.5L260.0,830.5L260.6,830.5L261.2,830.5L261.8,830.5L262.5,830.5L263.1,830.5L263.7,830.5L264.3,830.5L264.9,830.6L265.5,830.6L266.2,830.6L266.8,830.6L267.4,830.6L268.0,830.6L268.7,830.6L269.3,830.6L269.9,830.6L270.6,830.6L271.2,830.6L271.9,830.6L272.5,830.6L273.1,830.6L273.8,830.6L274.5,830.6L275.1,830.6L275.8,830.7L276.4,830.7L277.1,830.7L277.8,830.7L278.5,830.7L279.2,830.7L279.8,830.7L280.5,830.7L281.2,830.7L281.9,830.7L282.6,830.7L283.4,830.7L284.1,830.7L284.8,830.7L285.5,830.7L286.3,830.7L287.0,830.7L287.8,830.7L288.6,830.7L289.3,830.7L290.1,830.7L290.9,830.8L291.7,830.8L292.5,830.8L293.3,830.8L294.1,830.8L294.9,830.8L295.7,830.8L296.6,830.8L297.4,830.8L298.3,830.8L299.1,830.8L300.0,830.8L300.6,830.8L301.1,830.8L301.6,830.8L302.1,830.8L302.5,830.8L303.0,830.8L303.4,830.8L303.7,830.8L304.1,830.8L304.4,830.8L304.7,830.8L305.0,830.8L305.2,830.8L305.5,830.8L305.7,830.8L305.9,830.8L306.1,830.8L306.3,830.9L306.5,830.9L306.7,830.9L306.9,830.9L307.0,830.9L307.2,830.9L307.3,830.9L307.4,830.9L307.6,830.9L307.7,830.9L307.9,830.9L308.0,830.9L308.2,830.9L308.3,830.9L308.5,830.9L308.7,830.9L308.8,830.9L309.0,830.9L309.2,830.9L309.4,830.9L309.7,830.9L309.9,830.9L310.2,830.9L310.4,830.9L310.7,830.9L311.0,830.9L311.4,830.9L311.7,830.9L312.1,830.9L312.5,830.9L313.0,830.9L313.4,830.9L313.9,830.9L314.4,830.9L315.0,830.9L315.6,830.9L316.2,830.9L316.9,830.9L317.6,831.0L318.3,831.0L319.1,831.0L319.9,831.0L320.8,831.0L321.7,831.0L322.6,831.0L323.6,831.0L324.7,831.0L325.8,831.0L326.9,831.0L328.1,831.0L329.4,831.0L330.7,831.0L332.0,831.0L333.5,831.0L334.9,831.0L336.5,831.0L338.1,831.0L339.7,831.0L341.4,831.0L343.2,831.0L345.1,831.0L347.0,831.0L349.0,831.0L351.0,831.0L353.2,831.0L355.4,831.0L357.6,831.0L360.0,831.0L360.4,831.0L360.8,831.0L361.2,831.0L361.7,831.0L362.1,831.0L362.5,831.0L363.0,831.0L363.4,831.0L363.8,831.0L364.3,831.0L364.7,831.0L365.2,831.0L365.7,831.0L366.1,831.0L366.6,831.0L367.0,831.0L367.5,831.0L368.0,831.0L368.5,831.0L369.0,831.0L369.4,831.0L369.9,831.0L370.4,831.0L370.9,831.0L371.4,831.0L371.9,831.0L372.4,831.0L372.9,831.0L373.4,831.0L373.9,831.0L374.5,831.0L375.0,831.0L375.5,831.0L376.0,831.0L376.6,831.0L377.1,831.0L377.6,831.0L378.2,831.0L378.7,831.0L379.3,831.0L379.8,831.0L380.4,831.0L380.9,831.0L381.5,831.0L382.1,831.0L382.6,831.0L383.2,831.0L383.8,831.0L384.3,831.0L384.9,831.0L385.5,831.0L386.1,831.0L386.7,831.0L387.3,831.0L387.9,831.0L388.5,831.0L389.0,831.0L389.6,831.0L390.3,831.0L390.9,831.0L391.5,831.0L392.1,831.0L392.7,831.0L393.3,831.0L393.9,831.0L394.6,831.0L395.2,831.0L395.8,831.0L396.4,831.0L397.1,831.0L397.7,831.0L398.4,831.0L399.0,831.0L399.6,831.0L400.3,831.0L400.9,831.0L401.6,831.0L402.3,831.0L402.9,831.0L403.6,831.0L404.2,831.0L404.9,831.0L405.6,831.0L406.2,831.0L406.9,831.0L407.6,831.0L408.3,831.0L408.9,831.0L409.6,831.0L410.3,831.0L411.0,831.0L411.7,831.0L412.4,831.0L413.1,831.0L413.8,831.0L414.5,831.0L415.2,831.0L415.9,831.0L416.6,831.0L417.3,831.0L418.0,831.0L418.7,831.0L419.4,831.0L420.1,831.0L420.8,831.0L421.6,831.0L422.3,831.0L423.0,831.0L423.7,831.0L424.5,831.0L425.2,831.0L425.9,831.0L426.7,831.0L427.4,831.0L428.1,831.0L428.9,831.0L429.6,831.0L430.4,831.0L431.1,831.0L431.9,831.0L432.6,831.0L433.4,831.0L434.1,831.0L434.9,831.0L435.6,831.0L436.4,831.0L437.2,831.0L437.9,831.0L438.7,831.0L439.4,831.0L440.2,831.0L441.0,831.0L441.8,831.0L442.5,831.0L443.3,831.0L444.1,831.0L444.9,831.0L445.6,831.0L446.4,831.0L447.2,831.0L448.0,831.0L448.8,831.0L449.6,831.0L450.3,831.0L451.1,831.0L451.9,831.0L452.7,831.0L453.5,831.0L454.3,831.0L455.1,831.0L455.9,831.0L456.7,831.0L457.5,831.0L458.3,831.0L459.1,831.0L459.9,831.0L460.7,831.0L461.5,831.0L462.4,831.0L463.2,831.0L464.0,831.0L464.8,831.0L465.6,831.0L466.4,831.0L467.2,831.0L468.1,831.0L468.9,831.0L469.7,831.0L470.5,831.0L471.3,831.0L472.2,831.0L473.0,831.0L473.8,831.0L474.6,831.0L475.5,831.0L476.3,831.0L477.1,831.0L478.0,831.0L478.8,831.0L479.6,831.0L480.5,831.0L481.3,831.0L482.1,831.0L483.0,831.0L483.8,831.0L484.6,831.0L485.5,831.0L486.3,831.0L487.2,831.0L488.0,831.0L488.8,831.0L489.7,831.0L490.5,831.0L491.4,831.0L492.2,831.0L493.1,831.0L493.9,831.0L494.8,831.0L495.6,831.0L496.5,831.0L497.3,831.0L498.1,831.0L499.0,831.0L499.9,831.0L500.7,831.0L501.6,831.0L502.4,831.0L503.3,831.0L504.1,831.0L505.0,831.0L505.8,831.0L506.7,831.0L507.5,831.0L508.4,831.0L509.2,831.0L510.1,831.0L511.0,831.0L511.8,831.0L512.7,831.0L513.5,831.0L514.4,831.0L515.2,831.0L516.1,831.0L517.0,831.0L517.8,831.0L518.7,831.0L519.5,831.0L520.4,831.0L521.3,831.0L522.1,831.0L523.0,831.0L523.8,831.0L524.7,831.0L525.6,831.0L526.4,831.0L527.3,831.0L528.1,831.0L529.0,831.0L529.9,831.0L530.7,831.0L531.6,831.0L532.4,831.0L533.3,831.0L534.2,831.0L535.0,831.0L535.9,831.0L536.8,831.0L537.6,831.0L538.5,831.0L539.3,831.0L540.2,831.0L541.0,831.0L541.9,831.0L542.8,831.0L543.6,831.0L544.5,831.0L545.3,831.0L546.2,831.0L547.1,831.0L547.9,831.0L548.8,831.0L549.6,831.0L550.5,831.0L551.3,831.0L552.2,831.0L553.1,831.0L553.9,831.0L554.8,831.0L555.6,831.0L556.5,831.0L557.3,831.0L558.2,831.0L559.0,831.0L559.9,831.0L560.7,831.0L561.6,831.0L562.4,831.0L563.3,831.0L564.1,831.0L565.0,831.0L565.8,831.0L566.7,831.0L567.5,831.0L568.4,831.0L569.2,831.0L570.1,831.0L570.9,831.0L571.7,831.0L572.6,831.0L573.4,831.0L574.3,831.0L575.1,831.0L575.9,831.0L576.8,831.0L577.6,831.0L578.4,831.0L579.3,831.0L580.1,831.0L581.0,831.0L581.8,831.0L582.6,831.0L583.4,831.0L584.3,831.0L585.1,831.0L585.9,831.0L586.8,831.0L587.6,831.0L588.4,831.0L589.2,831.0L590.1,831.0L590.9,831.0L591.7,831.0L592.5,831.0L593.3,831.0L594.1,831.0L595.0,831.0L595.8,831.0L596.6,831.0L597.4,831.0L598.2,831.0L599.0,831.0L599.8,831.0L600.6,831.0L601.4,831.0L602.2,831.0L603.0,831.0L603.8,831.0L604.6,831.0L605.4,831.0L606.2,831.0L607.0,831.0L607.8,831.0L608.6,831.0L609.4,831.0L610.2,831.0L611.0,831.0L611.8,831.0L612.6,831.0L613.3,831.0L614.1,831.0L614.9,831.0L615.7,831.0L616.5,831.0L617.2,831.0L618.0,831.0L618.8,831.0L619.5,831.0L620.3,831.0L621.1,831.0L621.8,831.0L622.6,831.0L623.4,831.0L624.1,831.0L624.9,831.0L625.6,831.0L626.4,831.0L627.2,831.0L627.9,831.0L628.7,831.0L629.4,831.0L630.1,831.0L630.9,831.0L631.6,831.0L632.4,831.0L633.1,831.0L633.8,831.0L634.6,831.0L635.3,831.0L636.0,831.0L636.8,831.0L637.5,831.0L638.2,831.0L638.9,831.0L639.7,831.0L640.4,831.0L641.1,831.0L641.8,831.0L642.5,831.0L643.2,831.0L643.9,831.0L644.6,831.0L645.3,831.0L646.0,831.0L646.7,831.0L647.4,831.0L648.1,831.0L648.8,831.0L649.5,831.0L650.2,831.0L650.9,831.0L651.5,831.0L652.2,831.0L652.9,831.0L653.6,831.0L654.2,831.0L654.9,831.0L655.6,831.0L656.2,831.0L656.9,831.0L657.6,831.0L658.2,831.0L658.9,831.0L659.5,831.0L660.2,831.0L660.8,831.0L661.5,831.0L662.1,831.0L662.7,831.0L663.4,831.0L664.0,831.0L664.6,831.0L665.3,831.0L665.9,831.0L666.5,831.0L667.1,831.0L667.7,831.0L668.4,831.0L669.0,831.0L669.6,831.0L670.2,831.0L670.8,831.0L671.4,831.0L672.0,831.0L672.6,831.0L673.2,831.0L673.7,831.0L674.3,831.0L674.9,831.0L675.5,831.0L676.1,831.0L676.6,831.0L677.2,831.0L677.8,831.0L678.3,831.0L678.9,831.0L679.5,831.0L680.0,831.0L680.6,831.0L681.1,831.0L681.7,831.0L682.2,831.0L682.7,831.0L683.3,831.0L683.8,831.0L684.3,831.0L684.9,831.0L685.4,831.0L685.9,831.0L686.4,831.0L686.9,831.0L687.4,831.0L688.0,831.0L688.5,831.0L689.0,831.0L689.4,831.0L689.9,831.0L690.4,831.0L690.9,831.0L691.4,831.0L691.9,831.0L692.4,831.0L692.8,831.0L693.3,831.0L693.8,831.0L694.2,831.0L694.7,831.0L695.1,831.0L695.6,831.0L696.0,831.0L696.5,831.0L696.9,831.0L697.4,831.0L697.8,831.0L698.2,831.0L698.6,831.0L699.1,831.0L699.5,831.0L699.9,831.0L700.3,831.0L700.7,831.0L701.1,831.0L701.5,831.0L701.9,831.0L702.3,831.0L702.7,831.0L703.1,831.0L703.5,831.0L703.8,831.0L704.2,831.0L704.6,831.0L704.9,831.0L705.3,831.0L705.6,831.0L706.0,831.0" fill="none" stroke="#000" stroke-width="1.1"/>
<path d="M99.6,825.3L100.0,825.0L100.5,824.7L101.2,824.3L101.9,823.9L102.6,823.4L103.3,822.9L104.0,822.3L104.5,821.8L105.0,821.3L105.5,820.7L106.1,820.1L106.6,819.5L107.1,818.9L107.6,818.3L108.1,817.8L108.5,817.2L109.0,816.5L109.5,815.8L109.9,815.1L110.3,814.4L110.7,813.7L111.1,813.1L111.5,812.6L112.1,812.0L112.7,811.5L113.3,811.1L113.9,810.8L114.5,810.6L115.2,810.5L115.8,810.6L116.5,810.8L117.3,811.0L118.0,811.2L118.6,811.4L119.3,811.6L119.9,811.9L120.6,812.1L121.3,812.4L122.0,812.6L122.7,812.8L123.5,812.9L124.3,812.9L125.1,813.1L125.8,813.2L126.5,813.4L127.3,813.7L127.9,814.1L128.6,814.6L129.3,815.1L130.0,815.6L130.5,816.0L131.1,816.5L131.7,816.9L132.2,817.4L132.8,817.9L133.4,818.4L134.0,818.8L134.6,819.2L135.2,819.6L135.9,819.9L136.5,820.2L137.2,820.6L137.9,820.9L138.5,821.2L139.1,821.5L139.8,821.8L140.4,822.1L141.0,822.4L141.6,822.7L142.3,822.9L143.0,823.2L143.6,823.4L144.3,823.7L144.9,823.9L145.6,824.1L146.3,824.4L147.0,824.6L147.8,824.8L148.5,825.0L149.2,825.2L149.9,825.3L150.6,825.5L151.3,825.7L152.1,825.8L152.8,826.0L153.6,826.1L154.3,826.3L155.0,826.4L155.7,826.5L156.4,826.7L157.1,826.8L157.7,826.9L158.4,827.0L159.2,827.2L160.0,827.3L161.0,827.4L161.6,827.5L162.2,827.5L162.8,827.6L163.5,827.7L164.2,827.7L164.9,827.8L165.7,827.8L166.4,827.9L167.2,828.0L168.0,828.0L168.8,828.1L169.6,828.1L170.4,828.2L171.2,828.2L172.0,828.3L172.7,828.3L173.3,828.4L174.0,828.4L174.7,828.5L175.4,828.5L176.1,828.6L176.8,828.6L177.5,828.6L178.2,828.7L179.0,828.7L179.7,828.8L180.4,828.8L181.2,828.8L181.9,828.9L182.7,828.9L183.5,828.9L184.2,829.0L185.0,829.0L185.7,829.0L186.3,829.1L186.9,829.1L187.5,829.1L188.1,829.1L188.7,829.2L189.3,829.2L189.9,829.2L190.5,829.2L191.1,829.2L191.8,829.3L192.4,829.3L193.1,829.3L193.8,829.3L194.6,829.4L195.3,829.4L196.2,829.4L197.1,829.4L198.0,829.4L199.0,829.5L200.0,829.5L200.5,829.5L201.1,829.5L201.7,829.5L202.2,829.6L202.8,829.6L203.4,829.6L204.0,829.6L204.6,829.6L205.3,829.6L205.9,829.6L206.5,829.7L207.2,829.7L207.8,829.7L208.5,829.7L209.2,829.7L209.9,829.7L210.6,829.7L211.3,829.8L212.0,829.8L212.7,829.8L213.4,829.8L214.2,829.8L214.9,829.8L215.7,829.8L216.4,829.9L217.2,829.9L217.9,829.9L218.7,829.9L219.5,829.9L220.3,829.9L221.0,829.9L221.8,830.0L222.6,830.0L223.4,830.0L224.2,830.0L225.1,830.0L225.9,830.0L226.7,830.0L227.5,830.1L228.3,830.1L229.2,830.1L230.0,830.1L230.6,830.1L231.2,830.1L231.9,830.1L232.5,830.1L233.1,830.1L233.7,830.2L234.4,830.2L235.0,830.2L235.7,830.2L236.3,830.2L236.9,830.2L237.6,830.2L238.2,830.2L238.9,830.2L239.6,830.2L240.2,830.3L240.9,830.3L241.6,830.3L242.2,830.3L242.9,830.3L243.6,830.3L244.3,830.3L244.9,830.3L245.6,830.3L246.3,830.3L247.0,830.3L247.7,830.4L248.4,830.4L249.1,830.4L249.8,830.4L250.5,830.4L251.2,830.4L251.9,830.4L252.7,830.4L253.4,830.4L254.1,830.4L254.8,830.4L255.6,830.5L256.3,830.5L257.0,830.5L257.8,830.5L258.5,830.5L259.2,830.5L260.0,830.5L260.7,830.5L261.5,830.5L262.3,830.5L263.0,830.5L263.8,830.5L264.5,830.5L265.3,830.6L266.1,830.6L266.9,830.6L267.6,830.6L268.4,830.6L269.2,830.6L270.0,830.6L270.6,830.6L271.1,830.6L271.6,830.6L272.1,830.6L272.4,830.6L272.8,830.6L273.1,830.6L273.3,830.6L273.5,830.6L273.7,830.7L273.8,830.7L273.9,830.7L273.9,830.7L274.0,830.7L274.0,830.7L274.0,830.7L274.0,830.7L273.9,830.7L273.9,830.7L273.8,830.7L273.7,830.7L273.6,830.7L273.5,830.7L273.5,830.7L273.4,830.7L273.3,830.7L273.2,830.7L273.2,830.7L273.1,830.7L273.1,830.7L273.1,830.8L273.1,830.8L273.1,830.8L273.2,830.8L273.3,830.8L273.4,830.8L273.6,830.8L273.8,830.8L274.1,830.8L274.4,830.8L274.7,830.8L275.1,830.8L275.5,830.8L276.0,830.8L276.6,830.8L277.2,830.8L277.8,830.8L278.6,830.8L279.4,830.8L280.3,830.8L281.2,830.8L282.2,830.8L283.4,830.8L284.5,830.8L285.8,830.8L287.2,830.8L288.6,830.9L290.2,830.9L291.8,830.9L293.6,830.9L295.4,830.9L297.4,830.9L299.4,830.9L301.6,830.9L303.8,830.9L306.2,830.9L308.7,830.9L311.4,830.9L314.1,830.9L317.0,830.9L320.0,830.9L320.4,830.9L320.8,830.9L321.2,830.9L321.6,830.9L322.0,830.9L322.4,830.9L322.9,830.9L323.3,830.9L323.7,830.9L324.1,830.9L324.6,830.9L325.0,830.9L325.4,830.9L325.9,830.9L326.3,830.9L326.8,830.9L327.2,830.9L327.7,830.9L328.1,830.9L328.6,830.9L329.1,830.9L329.5,830.9L330.0,830.9L330.5,830.9L330.9,830.9L331.4,830.9L331.9,830.9L332.4,830.9L332.9,830.9L333.4,830.9L333.9,830.9L334.4,830.9L334.9,830.9L335.4,830.9L335.9,830.9L336.4,830.9L336.9,830.9L337.4,830.9L338.0,830.9L338.5,830.9L339.0,830.9L339.5,830.9L340.1,830.9L340.6,830.9L341.1,830.9L341.7,830.9L342.2,830.9L342.8,830.9L343.3,830.9L343.9,830.9L344.4,830.9L345.0,830.9L345.5,830.9L346.1,830.9L346.7,830.9L347.2,830.9L347.8,830.9L348.4,830.9L349.0,830.9L349.5,830.9L350.1,830.9L350.7,830.9L351.3,830.9L351.9,830.9L352.5,830.9L353.1,830.9L353.7,830.9L354.3,830.9L354.9,830.9L355.5,830.9L356.1,830.9L356.7,830.9L357.3,830.9L357.9,830.9L358.6,830.9L359.2,830.9L359.8,830.9L360.4,830.9L361.1,830.9L361.7,830.9L362.3,830.9L363.0,830.9L363.6,830.9L364.2,830.9L364.9,830.9L365.5,830.9L366.2,830.9L366.8,830.9L367.5,830.9L368.1,830.9L368.8,830.9L369.5,830.9L370.1,830.9L370.8,830.9L371.5,830.9L372.1,830.9L372.8,830.9L373.5,830.9L374.2,830.9L374.8,830.9L375.5,830.9L376.2,830.9L376.9,830.9L377.6,830.9L378.3,830.9L378.9,830.9L379.6,830.9L380.3,830.9L381.0,830.9L381.7,830.9L382.4,830.9L383.1,831.0L383.8,831.0L384.6,831.0L385.3,831.0L386.0,831.0L386.7,831.0L387.4,831.0L388.1,831.0L388.8,831.0L389.6,831.0L390.3,831.0L391.0,831.0L391.7,831.0L392.5,831.0L393.2,831.0L393.9,831.0L394.7,831.0L395.4,831.0L396.1,831.0L396.9,831.0L397.6,831.0L398.4,831.0L399.1,831.0L399.9,831.0L400.6,831.0L401.4,831.0L402.1,831.0L402.9,831.0L403.6,831.0L404.4,831.0L405.1,831.0L405.9,831.0L406.7,831.0L407.4,831.0L408.2,831.0L409.0,831.0L409.7,831.0L410.5,831.0L411.3,831.0L412.0,831.0L412.8,831.0L413.6,831.0L414.4,831.0L415.2,831.0L415.9,831.0L416.7,831.0L417.5,831.0L418.3,831.0L419.1,831.0L419.9,831.0L420.6,831.0L421.4,831.0L422.2,831.0L423.0,831.0L423.8,831.0L424.6,831.0L425.4,831.0L426.2,831.0L427.0,831.0L427.8,831.0L428.6,831.0L429.4,831.0L430.2,831.0L431.0,831.0L431.8,831.0L432.7,831.0L433.5,831.0L434.3,831.0L435.1,831.0L435.9,831.0L436.7,831.0L437.5,831.0L438.3,831.0L439.2,831.0L440.0,831.0L440.8,831.0L441.6,831.0L442.4,831.0L443.3,831.0L444.1,831.0L444.9,831.0L445.7,831.0L446.6,831.0L447.4,831.0L448.2,831.0L449.1,831.0L449.9,831.0L450.7,831.0L451.6,831.0L452.4,831.0L453.2,831.0L454.1,831.0L454.9,831.0L455.7,831.0L456.6,831.0L457.4,831.0L458.3,831.0L459.1,831.0L459.9,831.0L460.8,831.0L461.6,831.0L462.5,831.0L463.3,831.0L464.2,831.0L465.0,831.0L465.9,831.0L466.7,831.0L467.5,831.0L468.4,831.0L469.2,831.0L470.1,831.0L470.9,831.0L471.8,831.0L472.6,831.0L473.5,831.0L474.4,831.0L475.2,831.0L476.1,831.0L476.9,831.0L477.8,831.0L478.6,831.0L479.5,831.0L480.3,831.0L481.2,831.0L482.1,831.0L482.9,831.0L483.8,831.0L484.6,831.0L485.5,831.0L486.3,831.0L487.2,831.0L488.1,831.0L488.9,831.0L489.8,831.0L490.6,831.0L491.5,831.0L492.4,831.0L493.2,831.0L494.1,831.0L495.0,831.0L495.8,831.0L496.7,831.0L497.5,831.0L498.4,831.0L499.3,831.0L500.1,831.0L501.0,831.0L501.9,831.0L502.7,831.0L503.6,831.0L504.5,831.0L505.3,831.0L506.2,831.0L507.0,831.0L507.9,831.0L508.8,831.0L509.6,831.0L510.5,831.0L511.4,831.0L512.2,831.0L513.1,831.0L514.0,831.0L514.8,831.0L515.7,831.0L516.6,831.0L517.4,831.0L518.3,831.0L519.1,831.0L520.0,831.0L520.9,831.0L521.7,831.0L522.6,831.0L523.5,831.0L524.3,831.0L525.2,831.0L526.1,831.0L526.9,831.0L527.8,831.0L528.6,831.0L529.5,831.0L530.4,831.0L531.2,831.0L532.1,831.0L532.9,831.0L533.8,831.0L534.7,831.0L535.5,831.0L536.4,831.0L537.2,831.0L538.1,831.0L539.0,831.0L539.8,831.0L540.7,831.0L541.5,831.0L542.4,831.0L543.2,831.0L544.1,831.0L545.0,831.0L545.8,831.0L546.7,831.0L547.5,831.0L548.4,831.0L549.2,831.0L550.1,831.0L550.9,831.0L551.8,831.0L552.6,831.0L553.5,831.0L554.3,831.0L555.2,831.0L556.0,831.0L556.9,831.0L557.7,831.0L558.5,831.0L559.4,831.0L560.2,831.0L561.1,831.0L561.9,831.0L562.8,831.0L563.6,831.0L564.4,831.0L565.3,831.0L566.1,831.0L567.0,831.0L567.8,831.0L568.6,831.0L569.5,831.0L570.3,831.0L571.1,831.0L572.0,831.0L572.8,831.0L573.6,831.0L574.4,831.0L575.3,831.0L576.1,831.0L576.9,831.0L577.8,831.0L578.6,831.0L579.4,831.0L580.2,831.0L581.0,831.0L581.9,831.0L582.7,831.0L583.5,831.0L584.3,831.0L585.1,831.0L585.9,831.0L586.8,831.0L587.6,831.0L588.4,831.0L589.2,831.1L590.0,831.1L590.8,831.1L591.6,831.1L592.4,831.1L593.2,831.1L594.0,831.1L594.8,831.1L595.6,831.1L596.4,831.1L597.2,831.1L598.0,831.1L598.8,831.1L599.6,831.1L600.4,831.1L601.2,831.1L602.0,831.1L602.8,831.1L603.5,831.1L604.3,831.1L605.1,831.1L605.9,831.1L606.7,831.1L607.4,831.1L608.2,831.1L609.0,831.1L609.8,831.1L610.5,831.1L611.3,831.1L612.1,831.1L612.8,831.1L613.6,831.1L614.4,831.1L615.1,831.1L615.9,831.1L616.7,831.1L617.4,831.1L618.2,831.1L618.9,831.1L619.7,831.1L620.4,831.1L621.2,831.1L621.9,831.1L622.7,831.1L623.4,831.1L624.2,831.1L624.9,831.1L625.6,831.1L626.4,831.1L627.1,831.1L627.9,831.1L628.6,831.1L629.3,831.1L630.0,831.1L630.8,831.1L631.5,831.1L632.2,831.1L632.9,831.1L633.7,831.1L634.4,831.1L635.1,831.1L635.8,831.1L636.5,831.1L637.2,831.1L637.9,831.1L638.6,831.1L639.3,831.1L640.0,831.1L640.7,831.1L641.4,831.1L642.1,831.1L642.8,831.1L643.5,831.1L644.2,831.1L644.9,831.1L645.6,831.1L646.2,831.1L646.9,831.1L647.6,831.1L648.3,831.1L648.9,831.1L649.6,831.1L650.3,831.1L650.9,831.1L651.6,831.1L652.3,831.1L652.9,831.1L653.6,831.1L654.2,831.1L654.9,831.1L655.5,831.1L656.2,831.1L656.8,831.1L657.5,831.1L658.1,831.1L658.7,831.1L659.4,831.1L660.0,831.1L660.6,831.1L661.3,831.1L661.9,831.1L662.5,831.1L663.1,831.1L663.8,831.1L664.4,831.1L665.0,831.1L665.6,831.1L666.2,831.1L666.8,831.1L667.4,831.1L668.0,831.1L668.6,831.1L669.2,831.1L669.8,831.1L670.4,831.1L671.0,831.1L671.5,831.1L672.1,831.1L672.7,831.1L673.3,831.1L673.9,831.1L674.4,831.1L675.0,831.1L675.6,831.1L676.1,831.1L676.7,831.1L677.2,831.1L677.8,831.1L678.3,831.1L678.9,831.1L679.4,831.1L680.0,831.1L680.5,831.1L681.0,831.1L681.6,831.1L682.1,831.1L682.6,831.1L683.2,831.1L683.7,831.1L684.2,831.1L684.7,831.1L685.2,831.1L685.7,831.1L686.2,831.1L686.7,831.1L687.2,831.1L687.7,831.1L688.2,831.1L688.7,831.1L689.2,831.1L689.7,831.1L690.2,831.1L690.7,831.1L691.1,831.1L691.6,831.1L692.1,831.1L692.5,831.1L693.0,831.1L693.5,831.1L693.9,831.1L694.4,831.1L694.8,831.1L695.3,831.1L695.7,831.1L696.1,831.1L696.6,831.1L697.0,831.1L697.4,831.1L697.9,831.1L698.3,831.1L698.7,831.1L699.1,831.1L699.5,831.1L699.9,831.1L700.3,831.1L700.7,831.1L701.1,831.1L701.5,831.1L701.9,831.1L702.3,831.1L702.7,831.1L703.1,831.1L703.5,831.1L703.8,831.1L704.2,831.1L704.6,831.1L704.9,831.1L705.3,831.1L705.6,831.1L706.0,831.1" fill="none" stroke="#000" stroke-width="1.1" stroke-dasharray="6 2.5"/>
<path d="M99.6,825.6L100.0,825.4L100.5,825.1L101.2,824.7L101.9,824.3L102.6,823.9L103.4,823.5L104.0,823.0L104.5,822.6L105.1,822.1L105.6,821.6L106.1,821.1L106.6,820.6L107.1,820.1L107.6,819.5L108.0,819.0L108.5,818.4L108.9,817.7L109.4,817.0L109.8,816.3L110.2,815.6L110.6,815.0L111.0,814.5L111.6,813.7L112.2,812.9L112.9,812.5L113.5,812.5L113.9,812.8L114.3,813.4L114.8,814.1L115.3,814.9L115.7,815.7L116.1,816.4L116.5,817.0L117.1,817.7L117.5,818.3L118.0,818.7L118.5,819.2L119.1,819.6L119.7,820.0L120.3,820.4L121.0,820.8L121.7,821.2L122.4,821.7L123.1,822.1L124.0,822.4L124.7,822.5L125.4,822.5L126.2,822.4L126.9,822.4L127.7,822.3L128.5,822.2L129.2,822.1L130.0,821.9L130.8,821.7L131.5,821.6L132.2,821.6L133.0,821.7L133.6,822.0L134.2,822.4L134.8,822.9L135.4,823.5L136.1,824.0L136.8,824.5L137.5,824.8L138.1,824.9L138.8,824.9L139.5,824.9L140.3,824.8L141.0,824.8L141.8,824.7L142.6,824.6L143.3,824.6L144.0,824.6L144.7,824.7L145.4,824.8L146.1,825.0L146.8,825.2L147.5,825.4L148.2,825.6L149.1,825.8L150.0,826.0L150.6,826.1L151.2,826.2L151.8,826.3L152.5,826.3L153.2,826.4L153.9,826.5L154.6,826.6L155.4,826.6L156.1,826.7L156.9,826.8L157.7,826.9L158.4,826.9L159.2,827.0L160.0,827.1L160.6,827.2L161.3,827.2L161.9,827.3L162.6,827.4L163.2,827.4L163.8,827.5L164.5,827.6L165.2,827.6L165.8,827.7L166.5,827.8L167.2,827.8L168.0,827.9L168.7,828.0L169.5,828.0L170.3,828.1L171.1,828.1L172.0,828.2L172.6,828.2L173.2,828.3L173.9,828.3L174.5,828.3L175.2,828.4L175.9,828.4L176.5,828.5L177.2,828.5L178.0,828.5L178.7,828.6L179.4,828.6L180.1,828.6L180.9,828.6L181.6,828.7L182.4,828.7L183.1,828.7L183.9,828.8L184.6,828.8L185.4,828.8L186.2,828.9L186.9,828.9L187.7,828.9L188.5,828.9L189.2,829.0L190.0,829.0L190.7,829.0L191.3,829.0L192.0,829.1L192.7,829.1L193.3,829.1L194.0,829.1L194.6,829.2L195.3,829.2L195.9,829.2L196.6,829.2L197.2,829.3L197.9,829.3L198.6,829.3L199.2,829.3L199.9,829.3L200.6,829.4L201.3,829.4L202.0,829.4L202.8,829.4L203.5,829.4L204.2,829.5L205.0,829.5L205.8,829.5L206.6,829.5L207.4,829.5L208.3,829.6L209.1,829.6L210.0,829.6L210.6,829.6L211.2,829.6L211.8,829.6L212.4,829.7L213.0,829.7L213.7,829.7L214.3,829.7L214.9,829.7L215.6,829.7L216.2,829.7L216.9,829.8L217.6,829.8L218.2,829.8L218.9,829.8L219.6,829.8L220.2,829.8L220.9,829.8L221.6,829.9L222.3,829.9L223.0,829.9L223.8,829.9L224.5,829.9L225.2,829.9L225.9,829.9L226.7,830.0L227.4,830.0L228.1,830.0L228.9,830.0L229.6,830.0L230.4,830.0L231.2,830.0L232.0,830.1L232.7,830.1L233.5,830.1L234.3,830.1L235.1,830.1L235.9,830.1L236.7,830.1L237.5,830.2L238.3,830.2L239.2,830.2L240.0,830.2L240.6,830.2L241.2,830.2L241.9,830.2L242.5,830.2L243.1,830.2L243.7,830.3L244.4,830.3L245.0,830.3L245.7,830.3L246.3,830.3L246.9,830.3L247.6,830.3L248.2,830.3L248.9,830.3L249.6,830.3L250.2,830.4L250.9,830.4L251.6,830.4L252.2,830.4L252.9,830.4L253.6,830.4L254.3,830.4L254.9,830.4L255.6,830.4L256.3,830.4L257.0,830.5L257.7,830.5L258.4,830.5L259.1,830.5L259.8,830.5L260.5,830.5L261.2,830.5L261.9,830.5L262.7,830.5L263.4,830.5L264.1,830.5L264.8,830.6L265.6,830.6L266.3,830.6L267.0,830.6L267.8,830.6L268.5,830.6L269.2,830.6L270.0,830.6L270.7,830.6L271.5,830.6L272.3,830.6L273.0,830.6L273.8,830.6L274.5,830.7L275.3,830.7L276.1,830.7L276.9,830.7L277.6,830.7L278.4,830.7L279.2,830.7L280.0,830.7L280.6,830.7L281.1,830.7L281.6,830.7L282.1,830.7L282.5,830.7L282.8,830.7L283.1,830.7L283.4,830.7L283.6,830.7L283.7,830.7L283.9,830.7L284.0,830.8L284.1,830.8L284.1,830.8L284.2,830.8L284.2,830.8L284.2,830.8L284.1,830.8L284.1,830.8L284.1,830.8L284.0,830.8L284.0,830.8L283.9,830.8L283.8,830.8L283.8,830.8L283.7,830.8L283.7,830.8L283.6,830.8L283.6,830.8L283.6,830.8L283.6,830.8L283.7,830.8L283.7,830.8L283.8,830.8L283.9,830.8L284.1,830.8L284.3,830.8L284.5,830.8L284.7,830.8L285.0,830.8L285.4,830.8L285.8,830.8L286.2,830.8L286.7,830.8L287.3,830.8L287.9,830.8L288.6,830.8L289.3,830.8L290.1,830.8L291.0,830.9L291.9,830.9L293.0,830.9L294.1,830.9L295.2,830.9L296.5,830.9L297.8,830.9L299.3,830.9L300.8,830.9L302.4,830.9L304.1,830.9L305.9,830.9L307.8,830.9L309.8,830.9L312.0,830.9L314.2,830.9L316.5,830.9L319.0,830.9L321.6,830.9L324.3,830.9L327.1,830.9L330.0,830.9L330.4,830.9L330.8,830.9L331.2,830.9L331.6,830.9L332.0,830.9L332.4,830.9L332.9,830.9L333.3,830.9L333.7,830.9L334.1,830.9L334.6,830.9L335.0,830.9L335.5,830.9L335.9,830.9L336.3,830.9L336.8,830.9L337.2,830.9L337.7,830.9L338.2,830.9L338.6,830.9L339.1,830.9L339.6,830.9L340.0,830.9L340.5,830.9L341.0,830.9L341.5,830.9L342.0,830.9L342.5,830.9L342.9,830.9L343.4,830.9L343.9,830.9L344.4,830.9L344.9,830.9L345.5,830.9L346.0,830.9L346.5,830.9L347.0,830.9L347.5,830.9L348.0,830.9L348.6,830.9L349.1,830.9L349.6,830.9L350.2,830.9L350.7,830.9L351.3,830.9L351.8,830.9L352.3,830.9L352.9,830.9L353.4,830.9L354.0,830.9L354.6,830.9L355.1,830.9L355.7,830.9L356.3,830.9L356.8,830.9L357.4,830.9L358.0,830.9L358.6,830.9L359.1,830.9L359.7,830.9L360.3,830.9L360.9,830.9L361.5,830.9L362.1,830.9L362.7,830.9L363.3,830.9L363.9,830.9L364.5,830.9L365.1,830.9L365.7,830.9L366.3,830.9L367.0,830.9L367.6,830.9L368.2,830.9L368.8,830.9L369.4,830.9L370.1,830.9L370.7,830.9L371.3,830.9L372.0,830.9L372.6,830.9L373.3,830.9L373.9,830.9L374.6,830.9L375.2,830.9L375.9,830.9L376.5,830.9L377.2,830.9L377.8,830.9L378.5,830.9L379.1,830.9L379.8,830.9L380.5,830.9L381.2,830.9L381.8,830.9L382.5,830.9L383.2,830.9L383.9,830.9L384.5,830.9L385.2,830.9L385.9,830.9L386.6,830.9L387.3,830.9L388.0,830.9L388.7,830.9L389.4,830.9L390.1,830.9L390.8,830.9L391.5,830.9L392.2,830.9L392.9,830.9L393.6,830.9L394.3,830.9L395.0,830.9L395.7,830.9L396.5,830.9L397.2,830.9L397.9,830.9L398.6,830.9L399.3,830.9L400.1,830.9L400.8,830.9L401.5,830.9L402.3,831.0L403.0,831.0L403.7,831.0L404.5,831.0L405.2,831.0L406.0,831.0L406.7,831.0L407.5,831.0L408.2,831.0L409.0,831.0L409.7,831.0L410.5,831.0L411.2,831.0L412.0,831.0L412.7,831.0L413.5,831.0L414.2,831.0L415.0,831.0L415.8,831.0L416.5,831.0L417.3,831.0L418.1,831.0L418.9,831.0L419.6,831.0L420.4,831.0L421.2,831.0L422.0,831.0L422.7,831.0L423.5,831.0L424.3,831.0L425.1,831.0L425.9,831.0L426.6,831.0L427.4,831.0L428.2,831.0L429.0,831.0L429.8,831.0L430.6,831.0L431.4,831.0L432.2,831.0L433.0,831.0L433.8,831.0L434.6,831.0L435.4,831.0L436.2,831.0L437.0,831.0L437.8,831.0L438.6,831.0L439.4,831.0L440.2,831.0L441.0,831.0L441.9,831.0L442.7,831.0L443.5,831.0L444.3,831.0L445.1,831.0L445.9,831.0L446.7,831.0L447.6,831.0L448.4,831.0L449.2,831.0L450.0,831.0L450.9,831.0L451.7,831.0L452.5,831.0L453.3,831.0L454.2,831.0L455.0,831.0L455.8,831.0L456.7,831.0L457.5,831.0L458.3,831.0L459.2,831.0L460.0,831.0L460.8,831.0L461.7,831.0L462.5,831.0L463.3,831.0L464.2,831.0L465.0,831.0L465.9,831.0L466.7,831.0L467.5,831.0L468.4,831.0L469.2,831.0L470.1,831.0L470.9,831.0L471.8,831.0L472.6,831.0L473.4,831.0L474.3,831.0L475.1,831.0L476.0,831.0L476.8,831.0L477.7,831.0L478.5,831.0L479.4,831.0L480.2,831.0L481.1,831.0L482.0,831.0L482.8,831.0L483.7,831.0L484.5,831.0L485.4,831.0L486.2,831.0L487.1,831.0L487.9,831.0L488.8,831.0L489.7,831.0L490.5,831.0L491.4,831.0L492.2,831.0L493.1,831.0L493.9,831.0L494.8,831.0L495.7,831.0L496.5,831.0L497.4,831.0L498.3,831.0L499.1,831.0L500.0,831.0L500.8,831.0L501.7,831.0L502.6,831.0L503.4,831.0L504.3,831.0L505.1,831.0L506.0,831.0L506.9,831.0L507.7,831.0L508.6,831.0L509.5,831.0L510.3,831.0L511.2,831.0L512.1,831.0L512.9,831.0L513.8,831.0L514.6,831.0L515.5,831.0L516.4,831.0L517.2,831.0L518.1,831.0L519.0,831.0L519.8,831.0L520.7,831.0L521.6,831.0L522.4,831.0L523.3,831.0L524.1,831.0L525.0,831.0L525.9,831.0L526.7,831.0L527.6,831.0L528.5,831.0L529.3,831.0L530.2,831.0L531.0,831.0L531.9,831.0L532.8,831.0L533.6,831.0L534.5,831.0L535.4,831.0L536.2,831.0L537.1,831.0L537.9,831.0L538.8,831.0L539.6,831.0L540.5,831.0L541.4,831.0L542.2,831.0L543.1,831.0L543.9,831.0L544.8,831.0L545.6,831.0L546.5,831.0L547.4,831.0L548.2,831.0L549.1,831.0L549.9,831.0L550.8,831.0L551.6,831.0L552.5,831.0L553.3,831.0L554.2,831.0L555.0,831.0L555.9,831.0L556.7,831.0L557.6,831.0L558.4,831.0L559.3,831.0L560.1,831.0L561.0,831.0L561.8,831.0L562.6,831.0L563.5,831.0L564.3,831.0L565.2,831.0L566.0,831.0L566.9,831.0L567.7,831.0L568.5,831.0L569.4,831.0L570.2,831.0L571.0,831.0L571.9,831.0L572.7,831.0L573.5,831.0L574.4,831.0L575.2,831.0L576.0,831.0L576.9,831.0L577.7,831.0L578.5,831.0L579.3,831.0L580.2,831.0L581.0,831.0L581.8,831.0L582.6,831.0L583.5,831.0L584.3,831.0L585.1,831.0L585.9,831.0L586.7,831.0L587.6,831.0L588.4,831.0L589.2,831.0L590.0,831.0L590.8,831.0L591.6,831.0L592.4,831.0L593.2,831.0L594.0,831.0L594.8,831.0L595.6,831.0L596.4,831.0L597.2,831.0L598.0,831.0L598.8,831.0L599.6,831.0L600.4,831.1L601.2,831.1L602.0,831.1L602.8,831.1L603.6,831.1L604.4,831.1L605.2,831.1L606.0,831.1L606.7,831.1L607.5,831.1L608.3,831.1L609.1,831.1L609.9,831.1L610.6,831.1L611.4,831.1L612.2,831.1L613.0,831.1L613.7,831.1L614.5,831.1L615.3,831.1L616.0,831.1L616.8,831.1L617.6,831.1L618.3,831.1L619.1,831.1L619.8,831.1L620.6,831.1L621.3,831.1L622.1,831.1L622.8,831.1L623.6,831.1L624.3,831.1L625.1,831.1L625.8,831.1L626.6,831.1L627.3,831.1L628.0,831.1L628.8,831.1L629.5,831.1L630.2,831.1L631.0,831.1L631.7,831.1L632.4,831.1L633.2,831.1L633.9,831.1L634.6,831.1L635.3,831.1L636.0,831.1L636.7,831.1L637.5,831.1L638.2,831.1L638.9,831.1L639.6,831.1L640.3,831.1L641.0,831.1L641.7,831.1L642.4,831.1L643.1,831.1L643.8,831.1L644.5,831.1L645.2,831.1L645.8,831.1L646.5,831.1L647.2,831.1L647.9,831.1L648.6,831.1L649.2,831.1L649.9,831.1L650.6,831.1L651.3,831.1L651.9,831.1L652.6,831.1L653.2,831.1L653.9,831.1L654.6,831.1L655.2,831.1L655.9,831.1L656.5,831.1L657.2,831.1L657.8,831.1L658.5,831.1L659.1,831.1L659.7,831.1L660.4,831.1L661.0,831.1L661.6,831.1L662.3,831.1L662.9,831.1L663.5,831.1L664.1,831.1L664.7,831.1L665.4,831.1L666.0,831.1L666.6,831.1L667.2,831.1L667.8,831.1L668.4,831.1L669.0,831.1L669.6,831.1L670.2,831.1L670.8,831.1L671.4,831.1L671.9,831.1L672.5,831.1L673.1,831.1L673.7,831.1L674.3,831.1L674.8,831.1L675.4,831.1L676.0,831.1L676.5,831.1L677.1,831.1L677.6,831.1L678.2,831.1L678.8,831.1L679.3,831.1L679.8,831.1L680.4,831.1L680.9,831.1L681.5,831.1L682.0,831.1L682.5,831.1L683.1,831.1L683.6,831.1L684.1,831.1L684.6,831.1L685.1,831.1L685.7,831.1L686.2,831.1L686.7,831.1L687.2,831.1L687.7,831.1L688.2,831.1L688.7,831.1L689.2,831.1L689.6,831.1L690.1,831.1L690.6,831.1L691.1,831.1L691.6,831.1L692.0,831.1L692.5,831.1L693.0,831.1L693.4,831.1L693.9,831.1L694.3,831.1L694.8,831.1L695.2,831.1L695.7,831.1L696.1,831.1L696.6,831.1L697.0,831.1L697.4,831.1L697.8,831.1L698.3,831.1L698.7,831.1L699.1,831.1L699.5,831.1L699.9,831.1L700.3,831.1L700.7,831.1L701.1,831.1L701.5,831.1L701.9,831.1L702.3,831.1L702.7,831.1L703.1,831.1L703.5,831.1L703.8,831.1L704.2,831.1L704.6,831.1L704.9,831.1L705.3,831.1L705.6,831.1L706.0,831.1" fill="none" stroke="#333" stroke-width="1.1" stroke-dasharray="4 2 1.5 2"/>
<path d="M92.5,1085.0L93.6,1085.4L94.8,1085.4L95.9,1085.2L97.0,1085.4L98.2,1085.4L99.3,1084.8L100.5,1084.7L101.6,1084.2L102.7,1085.2L103.9,1085.4L105.0,1084.5L106.1,1084.5L107.2,1083.9L108.3,1083.7L109.4,1084.0L110.6,1083.4L111.7,1085.1L112.8,1082.2L113.9,1082.8L115.0,1083.0L116.1,1082.1L117.2,1083.7L118.3,1083.9L119.4,1081.4L120.6,1080.6L121.7,1081.9L122.8,1082.2L123.9,1083.6L125.0,1081.0L126.1,1079.3L127.2,1079.5L128.3,1079.5L129.4,1079.3L130.6,1079.0L131.7,1081.5L132.8,1080.6L133.9,1078.1L135.0,1079.0L136.1,1077.7L137.2,1078.0L138.3,1076.8L139.4,1080.6L140.6,1076.8L141.7,1078.2L142.8,1080.1L143.9,1077.0L145.0,1076.0L146.1,1074.8L147.2,1080.1L148.3,1080.0L149.4,1073.6L150.6,1075.0L151.7,1079.1L152.8,1072.9L153.9,1069.2L155.0,1071.0L156.1,1066.7L157.2,1078.1L158.3,1075.9L159.4,1069.9L160.6,1071.4L161.7,1070.8L162.8,1066.9L163.9,1077.3L165.0,1068.0L166.2,1072.1L167.3,1064.8L168.5,1059.9L169.7,1066.7L170.8,1064.2L172.0,1064.0L173.2,1071.3L174.4,1068.7L175.6,1065.0L176.8,1053.6L178.0,1058.0L179.2,1051.9L180.4,1053.3L181.6,1048.7L182.8,1060.6L184.0,1048.0L185.2,1052.5L186.4,1058.3L187.6,1070.4L188.8,1056.4L190.0,1060.0L191.2,1064.1L192.4,1058.4L193.6,1072.1L194.8,1061.4L196.0,1068.0L197.2,1073.8L198.4,1071.7L199.6,1068.0L200.8,1046.6L202.0,1052.0L203.2,1051.2L204.4,1066.1L205.6,1058.6L206.8,1069.8L208.0,1070.0L209.2,1070.2L210.4,1075.6L211.6,1066.3L212.8,1069.9L214.0,1058.0L215.2,1058.2L216.4,1071.7L217.6,1070.4L218.8,1079.8L220.0,1076.0L221.2,1071.6L222.4,1076.4L223.6,1062.7L224.8,1064.9L226.0,1060.0L227.2,1064.3L228.4,1060.2L229.6,1074.8L230.8,1070.0L232.0,1072.0L233.2,1069.8L234.4,1062.4L235.6,1061.5L236.8,1061.4L238.0,1058.0L239.2,1067.6L240.5,1065.7L241.8,1075.5L243.0,1074.0L244.2,1069.6L245.4,1069.4L246.6,1066.4L247.8,1073.4L249.0,1060.0L250.2,1070.9L251.5,1070.7L252.8,1065.4L254.0,1072.0L255.2,1069.5L256.5,1069.8L257.8,1054.3L259.0,1055.0L260.3,1055.7L261.7,1045.7L263.0,1040.0L264.3,1036.9L265.7,1071.1L267.0,1062.0L268.2,1071.7L269.5,1066.0L270.8,1075.8L272.0,1075.0L273.2,1071.8L274.5,1067.5L275.8,1065.5L277.0,1060.0L278.2,1059.6L279.5,1063.3L280.8,1067.1L282.0,1068.0L283.2,1071.0L284.5,1059.1L285.8,1052.8L287.0,1055.0L288.2,1066.1L289.5,1063.7L290.8,1078.4L292.0,1074.0L293.2,1074.2L294.5,1072.6L295.8,1061.2L297.0,1060.0L298.2,1070.7L299.5,1060.0L300.8,1065.1L302.0,1070.0L303.3,1061.3L304.7,1065.0L306.0,1054.0L307.3,1063.9L308.7,1055.8L310.0,1062.0L311.3,1060.6L312.6,1065.6L313.9,1053.4L315.2,1036.3L316.5,1041.0L317.7,1042.7L318.8,1051.6L320.0,1062.0L321.5,1049.6L323.0,1049.0L324.3,1050.8L325.6,1045.7L326.9,1069.1L328.2,1060.1L329.5,1060.0L330.8,1061.6L332.1,1060.9L333.4,1058.8L334.7,1056.1L336.0,1044.0L337.3,1040.7L338.7,1032.2L340.0,1029.6L341.5,1039.2L343.0,1047.0L344.2,1041.2L345.4,1057.3L346.6,1070.9L347.8,1079.4L349.0,1075.0L350.1,1079.1L351.3,1078.4L352.4,1078.8L353.6,1075.5L354.7,1078.8L355.9,1079.6L357.0,1080.0L358.3,1076.5L359.7,1054.8L361.0,1054.0L362.2,1053.8L363.3,1056.2L364.5,1061.8L365.7,1061.6L366.8,1055.8L368.0,1050.0L369.2,1041.9L370.5,1049.0L371.8,1045.0L373.0,1029.6L374.3,1034.5L375.7,1031.6L377.0,1033.0L378.5,1049.5L380.0,1060.0L381.5,1064.5L383.0,1076.0L384.5,1075.7L386.0,1067.0L387.2,1075.5L388.5,1062.1L389.8,1061.4L391.0,1051.0L392.2,1061.6L393.5,1045.8L394.8,1062.7L396.0,1049.0L397.2,1058.5L398.5,1057.3L399.8,1065.4L401.0,1073.0L402.2,1068.8L403.4,1067.7L404.6,1063.6L405.8,1048.4L407.0,1047.0L408.2,1059.4L409.3,1044.2L410.5,1044.1L411.7,1033.6L412.8,1051.8L414.0,1037.0L415.2,1032.0L416.4,1051.9L417.6,1045.6L418.8,1047.7L420.0,1044.0L421.2,1046.7L422.4,1035.3L423.6,1045.0L424.8,1042.6L426.0,1026.3L427.3,1040.4L428.7,1042.7L430.0,1041.0L431.3,1040.8L432.7,1068.6L434.0,1064.0L435.2,1063.1L436.4,1075.0L437.6,1066.6L438.8,1073.0L440.0,1071.0L441.2,1075.1L442.4,1057.5L443.6,1056.8L444.8,1038.6L446.0,1043.0L447.3,1039.7L448.7,1052.6L450.0,1062.0L451.2,1074.6L452.5,1074.6L453.8,1070.9L455.0,1067.0L456.2,1064.7L457.3,1068.5L458.5,1066.7L459.7,1054.4L460.8,1056.3L462.0,1050.0L463.2,1061.3L464.4,1045.7L465.6,1053.8L466.8,1062.8L468.0,1062.0L469.2,1059.1L470.5,1067.2L471.8,1073.1L473.0,1072.0L474.2,1069.3L475.5,1072.8L476.8,1068.8L478.0,1070.0L479.2,1073.4L480.4,1073.0L481.6,1078.8L482.8,1076.9L484.0,1080.0L485.2,1080.8L486.4,1073.8L487.6,1079.0L488.8,1072.3L490.0,1068.0L491.2,1067.8L492.5,1062.7L493.8,1063.6L495.0,1056.0L496.2,1061.8L497.5,1059.5L498.8,1055.5L500.0,1045.0L501.2,1049.5L502.5,1066.1L503.8,1067.0L505.0,1058.0L506.2,1070.2L507.5,1064.6L508.8,1069.1L510.0,1070.0L511.2,1073.8L512.5,1080.0L513.8,1079.5L515.0,1080.0L516.2,1078.9L517.5,1073.2L518.8,1075.5L520.0,1065.0L521.2,1065.1L522.5,1063.8L523.8,1075.4L525.0,1072.0L526.2,1077.7L527.5,1073.8L528.8,1069.7L530.0,1065.0L531.2,1069.0L532.5,1050.8L533.8,1048.8L535.0,1040.0L536.2,1030.4L537.4,1026.0L538.5,1028.0L539.7,1023.9L541.0,1028.5L542.4,1030.0L543.7,1025.8L545.0,1035.0L546.2,1045.9L547.5,1050.1L548.8,1051.4L550.0,1058.0L551.2,1059.0L552.5,1066.8L553.8,1070.9L555.0,1075.0L556.3,1061.2L557.7,1061.4L559.0,1040.0L560.4,1048.5L561.9,1030.5L563.3,1018.2L564.5,1033.0L565.6,1030.2L566.8,1047.0L568.0,1040.0L569.2,1039.3L570.5,1058.8L571.8,1061.6L573.0,1060.0L574.2,1071.8L575.5,1057.1L576.8,1071.8L578.0,1065.0L579.2,1058.6L580.3,1062.4L581.5,1066.1L582.7,1037.4L583.8,1038.6L585.0,1040.0L586.2,1036.7L587.5,1033.8L588.8,1024.1L590.0,1030.0L591.2,1043.4L592.5,1044.4L593.8,1037.4L595.0,1038.0L596.3,1035.5L597.6,1035.6L598.9,1016.2L600.2,1010.5L601.5,1016.6L602.6,1032.4L603.8,1026.7L604.9,1039.5L606.0,1040.0L607.2,1055.1L608.4,1061.1L609.6,1055.4L610.8,1054.2L612.0,1060.0L613.2,1060.0L614.5,1074.9L615.8,1076.7L617.0,1071.0L618.2,1070.2L619.5,1079.7L620.8,1078.5L622.0,1080.0L623.2,1079.0L624.4,1071.6L625.6,1075.8L626.8,1075.2L628.0,1062.0L629.2,1056.7L630.4,1062.2L631.6,1046.5L632.8,1058.5L634.0,1045.0L635.2,1035.0L636.5,1030.6L637.8,1039.5L639.0,1028.8L640.2,1029.0L641.5,1046.8L642.8,1050.0L644.0,1040.0L645.3,1049.8L646.5,1040.9L647.8,1060.0L649.0,1070.5L650.3,1059.0L651.5,1058.6L652.6,1045.0L653.8,1043.5L655.0,1045.0L656.3,1034.9L657.6,1028.0L659.1,1040.2L660.5,1036.5L662.0,1045.0L663.1,1042.9L664.3,1050.2L665.5,1065.9L666.6,1062.0L667.7,1067.9L668.9,1051.4L670.0,1048.0L671.1,1045.9L672.3,1030.3L673.5,1046.2L674.8,1047.1L676.0,1046.0L677.2,1045.1L678.4,1051.8L679.6,1056.0L680.7,1062.5L681.9,1043.4L683.0,1030.0L684.5,1020.2L686.0,1015.0L687.3,1024.5L688.7,1018.0L690.0,1028.0L691.5,1048.3L693.0,1040.0L694.5,1042.5L695.9,1046.6L697.4,1044.0L698.6,1045.1L699.8,1027.4L701.1,1034.2L702.3,1026.3L703.7,1026.3L705.1,1029.9L706.5,1035.0" fill="none" stroke="#111" stroke-width="1.2" stroke-dasharray="5 2 1.5 2"/>
<path d="M92.5,1085.0L93.6,1085.2L94.8,1085.4L95.9,1085.1L97.0,1084.6L98.2,1084.6L99.3,1085.4L100.5,1085.4L101.6,1083.8L102.7,1085.2L103.9,1085.4L105.0,1084.0L106.1,1084.3L107.2,1084.3L108.3,1083.2L109.4,1083.8L110.6,1083.5L111.7,1083.6L112.8,1081.5L113.9,1084.6L115.0,1082.5L116.1,1082.9L117.2,1082.3L118.3,1083.6L119.4,1082.3L120.6,1081.6L121.7,1082.2L122.8,1078.7L123.9,1081.0L125.0,1080.0L126.1,1080.2L127.2,1083.1L128.3,1082.7L129.4,1078.5L130.6,1079.5L131.7,1076.8L132.8,1078.6L133.9,1081.2L135.0,1078.0L136.1,1081.7L137.2,1078.2L138.3,1076.3L139.4,1074.3L140.6,1077.4L141.7,1079.8L142.8,1071.0L143.9,1077.6L145.0,1073.0L146.1,1069.0L147.2,1070.6L148.3,1070.5L149.4,1075.5L150.6,1070.6L151.7,1070.5L152.8,1073.6L153.9,1066.5L155.0,1070.0L156.1,1074.7L157.2,1066.0L158.3,1070.9L159.4,1066.5L160.6,1064.9L161.7,1069.5L162.8,1067.5L163.9,1066.1L165.0,1066.0L166.1,1066.5L167.2,1068.0L168.3,1060.6L169.4,1060.3L170.6,1067.5L171.7,1066.9L172.8,1063.9L173.9,1070.4L175.0,1060.0L176.2,1065.4L177.3,1071.3L178.5,1060.3L179.7,1071.1L180.8,1073.0L182.0,1066.0L183.1,1074.6L184.3,1063.4L185.4,1061.7L186.6,1072.4L187.7,1056.1L188.9,1072.6L190.0,1058.0L191.1,1069.7L192.3,1051.2L193.4,1052.5L194.6,1062.6L195.7,1050.4L196.9,1045.7L198.0,1052.0L199.2,1063.3L200.3,1055.1L201.5,1065.8L202.7,1052.2L203.8,1060.1L205.0,1060.0L206.2,1066.2L207.3,1049.1L208.5,1050.9L209.7,1059.8L210.8,1063.3L212.0,1050.0L213.1,1064.7L214.3,1046.5L215.4,1058.5L216.6,1067.2L217.7,1064.0L218.9,1069.2L220.0,1064.0L221.1,1059.7L222.3,1054.7L223.4,1051.5L224.6,1046.3L225.7,1055.2L226.9,1052.1L228.0,1048.0L229.2,1053.4L230.3,1045.6L231.5,1049.5L232.7,1053.0L233.8,1069.5L235.0,1060.0L236.2,1072.5L237.4,1067.8L238.6,1043.6L239.8,1039.0L241.0,1045.0L242.2,1060.2L243.4,1052.9L244.6,1065.3L245.8,1059.4L247.0,1062.0L248.2,1063.2L249.4,1062.6L250.6,1058.7L251.8,1061.0L253.0,1055.0L254.2,1044.3L255.5,1055.2L256.8,1053.3L258.0,1040.0L259.3,1039.9L260.7,1055.4L262.0,1058.0L263.2,1066.8L264.4,1060.7L265.6,1058.3L266.8,1059.5L268.0,1064.0L269.2,1064.7L270.5,1048.5L271.8,1064.3L273.0,1050.0L274.2,1061.2L275.5,1061.8L276.8,1068.3L278.0,1058.0L279.2,1062.8L280.4,1054.2L281.6,1054.8L282.8,1049.3L284.0,1045.0L285.2,1061.0L286.4,1061.0L287.6,1053.4L288.8,1071.8L290.0,1062.0L291.2,1068.1L292.5,1065.5L293.8,1062.1L295.0,1050.0L296.2,1050.3L297.3,1060.8L298.5,1058.9L299.7,1053.0L300.8,1053.7L302.0,1044.0L303.2,1054.0L304.4,1047.5L305.6,1057.4L306.8,1044.1L308.0,1052.0L309.2,1050.1L310.4,1050.1L311.6,1035.5L312.8,1040.7L314.0,1040.0L315.3,1050.7L316.7,1059.4L318.0,1058.0L319.2,1053.9L320.4,1068.7L321.6,1059.6L322.8,1049.9L324.0,1050.0L325.2,1057.5L326.5,1057.1L327.8,1058.0L329.0,1055.0L330.2,1053.9L331.4,1064.6L332.6,1051.5L333.8,1049.1L335.0,1040.0L336.2,1049.9L337.5,1056.8L338.8,1036.0L340.0,1045.0L341.3,1051.9L342.7,1057.3L344.0,1050.0L345.3,1050.2L346.7,1059.6L348.0,1062.0L349.3,1053.6L350.7,1053.3L352.0,1056.0L353.2,1056.6L354.5,1051.6L355.8,1056.7L357.0,1060.0L358.2,1070.7L359.5,1060.1L360.8,1056.3L362.0,1052.0L363.2,1066.3L364.4,1057.6L365.6,1068.6L366.8,1060.9L368.0,1055.0L369.3,1063.5L370.7,1042.7L372.0,1048.0L373.5,1059.3L375.0,1060.0L376.2,1069.3L377.5,1059.2L378.8,1076.7L380.0,1070.0L381.2,1065.4L382.5,1066.7L383.8,1057.3L385.0,1060.0L386.5,1059.8L388.0,1054.0L389.3,1057.6L390.7,1040.5L392.0,1046.0L393.5,1065.5L395.0,1058.0L396.3,1065.3L397.7,1078.6L399.0,1084.0L400.5,1075.9L402.0,1063.0L403.2,1061.2L404.5,1055.4L405.8,1060.2L407.0,1052.0L408.3,1055.1L409.7,1046.1L411.0,1047.0L412.2,1056.7L413.5,1050.6L414.8,1047.9L416.0,1058.0L417.3,1051.4L418.7,1039.7L420.0,1044.0L421.2,1038.3L422.5,1051.0L423.8,1040.9L425.0,1040.0L426.2,1054.5L427.5,1056.3L428.8,1045.1L430.0,1055.0L431.2,1071.2L432.5,1072.8L433.8,1060.0L435.0,1067.0L436.2,1074.2L437.5,1060.7L438.8,1056.6L440.0,1052.0L441.4,1051.7L442.7,1023.1L443.8,1017.2L444.9,1018.1L446.0,1011.7L447.2,1028.1L448.4,1018.0L449.6,1033.5L450.8,1042.0L452.0,1047.0L453.3,1066.0L454.7,1070.3L456.0,1066.0L457.2,1068.9L458.4,1056.6L459.6,1063.9L460.8,1057.1L462.0,1054.0L463.2,1049.7L464.4,1045.3L465.6,1055.6L466.8,1045.4L468.0,1051.0L469.2,1054.9L470.5,1065.5L471.8,1066.1L473.0,1067.0L474.3,1066.6L475.7,1073.4L477.0,1072.0L478.2,1072.3L479.4,1076.1L480.6,1072.1L481.8,1078.1L483.0,1069.0L484.2,1077.5L485.3,1075.0L486.5,1069.8L487.7,1069.8L488.8,1079.1L490.0,1074.0L491.2,1076.8L492.5,1071.0L493.8,1061.7L495.0,1060.0L496.5,1056.7L498.0,1058.0L499.5,1069.7L501.0,1070.0L502.3,1068.3L503.7,1060.1L505.0,1050.0L506.2,1054.6L507.5,1053.9L508.8,1037.1L510.0,1040.0L511.2,1038.5L512.5,1059.3L513.8,1061.3L515.0,1050.0L516.2,1064.2L517.5,1050.2L518.8,1057.8L520.0,1066.0L521.2,1063.6L522.4,1064.8L523.6,1067.0L524.8,1054.8L526.0,1060.0L527.2,1062.3L528.4,1047.7L529.6,1043.4L530.8,1053.5L532.0,1045.0L533.2,1049.6L534.4,1052.8L535.6,1048.2L536.8,1052.0L538.0,1050.0L539.2,1047.1L540.3,1053.0L541.5,1066.2L542.7,1070.8L543.8,1058.5L545.0,1065.0L546.2,1059.7L547.3,1071.0L548.5,1065.4L549.7,1066.8L550.8,1051.9L552.0,1055.0L553.2,1057.6L554.4,1057.7L555.6,1072.5L556.8,1068.5L558.0,1070.0L559.2,1073.0L560.4,1076.5L561.6,1062.5L562.8,1064.6L564.0,1060.0L565.2,1067.0L566.4,1067.7L567.6,1051.4L568.8,1046.3L570.0,1045.0L571.2,1040.6L572.5,1064.3L573.8,1050.9L575.0,1060.0L576.2,1055.9L577.5,1069.2L578.8,1071.7L580.0,1072.0L581.2,1075.0L582.4,1067.4L583.6,1072.3L584.8,1057.2L586.0,1062.0L587.2,1057.5L588.4,1064.5L589.6,1047.2L590.8,1049.5L592.0,1050.0L593.2,1057.8L594.4,1055.8L595.6,1044.6L596.8,1040.0L598.0,1045.0L599.2,1044.1L600.4,1051.6L601.6,1041.5L602.8,1034.4L604.0,1040.0L605.2,1047.2L606.3,1042.1L607.5,1047.8L608.7,1045.8L609.8,1043.4L611.0,1030.0L612.2,1033.0L613.4,1045.6L614.6,1038.8L615.8,1043.1L617.0,1046.0L618.2,1048.3L619.5,1065.2L620.8,1068.5L622.0,1058.0L623.2,1052.5L624.5,1049.2L625.8,1043.3L627.0,1041.0L628.2,1041.8L629.4,1045.3L630.6,1048.5L631.8,1046.7L633.0,1052.0L634.2,1057.1L635.3,1064.5L636.5,1060.9L637.7,1069.6L638.8,1065.2L640.0,1062.0L641.1,1058.5L642.3,1070.7L643.4,1073.9L644.6,1065.4L645.7,1063.3L646.9,1071.5L648.0,1070.0L649.2,1072.1L650.3,1071.8L651.5,1076.9L652.7,1071.4L653.8,1073.4L655.0,1066.0L656.2,1061.9L657.5,1071.5L658.8,1076.3L660.0,1072.0L661.2,1068.1L662.4,1066.8L663.6,1074.5L664.8,1076.1L666.0,1068.0L667.2,1065.0L668.4,1075.2L669.6,1073.8L670.8,1081.2L672.0,1080.0L673.2,1080.9L674.4,1076.2L675.6,1073.3L676.8,1077.2L678.0,1072.0L679.2,1073.5L680.3,1076.0L681.5,1070.3L682.7,1068.5L683.8,1077.1L685.0,1068.0L686.2,1071.4L687.5,1065.3L688.8,1063.0L690.0,1058.0L691.2,1063.2L692.5,1055.9L693.8,1053.7L695.0,1038.0L696.2,1040.6L697.5,1054.6L698.8,1055.1L700.0,1050.0L701.3,1060.8L702.6,1058.4L703.9,1057.6L705.2,1057.6L706.5,1045.0" fill="none" stroke="#000" stroke-width="1.2" stroke-dasharray="9 3"/>
<path d="M92.5,1085.0L93.8,1085.1L95.0,1085.2L96.2,1085.4L97.5,1084.9L98.8,1084.9L100.0,1084.6L101.1,1084.9L102.2,1084.0L103.3,1084.4L104.4,1084.4L105.6,1084.5L106.7,1082.2L107.8,1082.5L108.9,1081.6L110.0,1082.5L111.1,1083.9L112.2,1083.4L113.3,1080.7L114.4,1084.1L115.6,1083.9L116.7,1082.3L117.8,1081.9L118.9,1079.5L120.0,1080.5L121.1,1078.5L122.3,1080.7L123.4,1077.3L124.6,1077.2L125.7,1076.7L126.9,1074.6L128.0,1077.0L129.2,1077.4L130.3,1076.5L131.5,1079.3L132.7,1075.4L133.8,1076.0L135.0,1073.0L136.3,1072.7L137.7,1072.0L139.0,1066.0L140.2,1068.1L141.5,1067.7L142.8,1078.6L144.0,1072.0L145.2,1078.3L146.5,1074.1L147.8,1069.4L149.0,1062.0L150.2,1062.1L151.5,1063.7L152.8,1067.6L154.0,1070.0L155.3,1063.3L156.7,1070.3L158.0,1061.0L159.3,1063.2L160.7,1073.7L162.0,1068.0L163.3,1064.2L164.7,1069.1L166.0,1052.0L167.3,1056.9L168.7,1026.3L170.0,1029.0L171.2,1033.3L172.5,1045.0L173.7,1061.3L174.8,1059.9L176.0,1062.0L177.2,1073.0L178.5,1059.5L179.8,1050.1L181.0,1056.0L182.2,1060.8L183.5,1062.1L184.8,1048.5L186.0,1050.0L187.3,1046.5L188.7,1058.1L190.0,1062.0L191.5,1064.2L193.0,1040.0L194.5,1039.1L196.0,1021.0L197.5,1023.7L199.0,1038.0L201.0,1047.4L203.0,1038.0L204.2,1033.0L205.3,1025.5L206.5,1029.6L207.7,1026.6L208.9,1037.7L210.6,1067.8L212.2,1079.9L213.5,1074.2L214.9,1070.4L216.2,1063.7L217.3,1060.4L218.4,1044.9L219.5,1044.2L220.8,1046.3L222.2,1021.0L223.5,1020.6L224.6,1033.3L225.7,1034.9L226.8,1047.4L228.0,1062.1L229.2,1075.0L230.3,1070.4L231.4,1064.9L232.5,1063.7L233.7,1072.9L234.9,1065.2L236.2,1048.2L237.4,1047.4L238.5,1055.8L239.7,1033.2L240.8,1029.8L241.9,1026.3L243.1,1043.2L244.3,1050.6L245.5,1050.7L247.1,1058.8L248.7,1076.7L249.8,1072.2L250.9,1020.6L252.0,1006.8L253.2,992.0L254.4,982.5L256.5,971.1L257.9,984.9L259.3,980.9L260.5,988.8L261.7,998.7L262.8,1007.1L263.9,1022.4L265.0,1039.3L266.6,1045.1L268.2,1063.7L269.8,1024.7L270.9,1035.9L272.0,1041.2L273.1,1050.7L274.3,1051.7L275.5,1036.8L276.7,1028.9L277.9,1023.1L279.0,1040.3L280.1,1037.7L281.2,1039.3L282.8,1049.5L284.4,1050.7L285.8,1068.8L287.1,1070.5L288.5,1079.9L289.7,1069.3L290.9,1063.7L292.0,1071.9L293.1,1067.5L294.2,1055.6L295.8,1065.9L297.4,1079.9L299.1,1040.9L300.3,1028.6L301.5,1024.7L302.7,1041.0L303.9,1040.9L305.0,1054.4L306.1,1039.4L307.2,1044.2L308.8,1060.4L310.4,1050.7L311.8,1060.5L313.2,1047.4L314.6,1049.3L315.9,1038.7L317.3,1034.4L318.7,1021.2L320.0,1005.5L321.4,1006.0L322.7,1023.1L324.1,1014.6L325.4,1021.5L326.8,1034.6L328.1,1035.9L329.5,1044.2L330.8,1048.2L332.2,1030.9L333.5,1019.8L334.9,1015.9L336.2,1009.2L337.6,1011.7L339.2,1020.3L340.9,1013.3L342.1,1011.3L343.3,1023.1L344.9,1010.1L346.5,1003.6L347.9,999.6L349.2,990.0L350.6,971.1L352.2,986.2L353.8,990.6L354.9,987.2L356.0,999.1L357.1,985.7L358.7,974.2L360.3,970.3L361.4,965.7L362.5,978.3L363.6,984.1L365.2,987.3L366.8,987.3L368.1,981.1L369.3,989.0L370.9,980.5L372.5,980.9L373.8,984.0L375.0,987.3L376.6,1003.9L378.2,1011.7L379.4,1017.6L380.6,1034.4L382.3,1060.4L383.6,1060.5L385.0,1071.6L386.3,1062.0L387.4,1071.3L388.5,1056.2L389.6,1045.8L391.2,1048.1L392.8,1036.1L393.9,1043.2L395.0,1038.1L396.1,1045.8L397.3,1025.2L398.5,1019.8L399.7,1010.2L400.9,1016.6L402.0,1030.3L403.1,1028.8L404.2,1023.1L405.8,1040.4L407.4,1031.2L408.5,1026.9L409.6,1048.0L410.7,1045.8L412.3,1039.3L413.9,1027.9L415.0,1030.6L416.1,1010.8L417.2,1006.8L418.8,1020.0L420.4,1005.2L422.4,1013.3L423.8,1000.3L425.1,998.3L426.5,988.2L428.1,1003.2L429.7,1002.0L430.8,1017.9L431.9,1022.3L433.0,1018.2L434.6,1036.9L436.2,1040.9L437.3,1060.1L438.4,1077.1L439.5,1079.9L441.1,1067.4L442.7,1055.6L443.8,1056.5L444.9,1049.1L446.0,1031.2L447.2,1033.0L448.4,1012.5L449.6,1019.5L450.9,1024.7L452.5,1041.3L454.1,1039.3L455.3,1048.7L456.5,1036.1L457.6,1042.2L458.8,1047.9L459.9,1047.9L461.1,1056.9L462.2,1053.9L463.3,1057.3L464.5,1040.5L465.6,1047.1L466.8,1050.2L467.9,1034.4L469.0,1047.4L470.1,1047.2L471.2,1040.9L472.5,1046.9L473.9,1065.9L475.2,1063.7L476.3,1060.6L477.4,1042.0L478.5,1032.8L479.8,1041.2L481.2,1020.2L482.5,1024.7L483.6,1027.5L484.7,999.9L485.8,1002.0L487.1,1013.2L488.5,1022.6L489.8,1026.3L490.9,1018.8L492.0,1020.8L493.1,1009.3L494.7,1021.4L496.3,1028.0L497.5,1034.8L498.8,1045.1L500.0,1033.6L501.2,1037.7L502.8,1026.3L504.4,1031.2L505.8,1021.6L507.1,1014.2L508.5,999.5L509.6,999.5L510.7,1006.5L511.8,1015.0L513.0,1039.1L514.2,1039.3L515.8,1044.9L517.4,1037.7L518.6,1039.7L519.8,1050.9L521.1,1039.4L522.3,1040.9L523.5,1046.0L524.8,1032.1L526.0,1033.9L527.2,1031.2L528.8,1045.7L530.4,1040.9L531.5,1056.3L532.6,1062.0L533.7,1053.9L535.3,1052.5L536.9,1050.7L538.3,1057.0L539.6,1054.1L541.0,1057.0L542.2,1049.9L543.5,1053.7L544.8,1057.1L546.0,1045.0L547.3,1059.9L548.7,1065.2L550.0,1062.0L551.2,1071.9L552.5,1053.8L553.8,1047.1L555.0,1050.0L556.2,1054.6L557.5,1058.0L558.8,1064.6L560.0,1070.0L561.2,1069.1L562.4,1069.0L563.6,1062.6L564.8,1055.1L566.0,1055.0L567.2,1068.2L568.5,1075.1L569.8,1072.9L571.0,1075.0L572.2,1069.2L573.5,1061.2L574.8,1070.5L576.0,1058.0L577.2,1051.9L578.4,1067.9L579.6,1067.9L580.8,1066.0L582.0,1068.0L583.2,1073.0L584.4,1055.8L585.6,1052.2L586.8,1055.3L588.0,1052.0L589.2,1046.2L590.5,1068.7L591.8,1061.5L593.0,1066.0L594.2,1061.2L595.5,1057.0L596.8,1065.9L598.0,1060.0L599.2,1061.1L600.5,1064.0L601.8,1063.7L603.0,1057.0L604.2,1067.1L605.3,1071.0L606.5,1066.0L607.7,1057.2L608.8,1063.6L610.0,1062.0L611.1,1058.4L612.2,1055.5L613.3,1064.5L614.4,1069.4L615.6,1060.3L616.7,1062.5L617.8,1064.2L618.9,1070.3L620.0,1065.0L621.2,1065.5L622.5,1062.9L623.8,1060.8L625.0,1050.0L626.2,1051.1L627.3,1061.9L628.5,1066.9L629.7,1051.1L630.8,1071.0L632.0,1060.0L633.1,1067.4L634.3,1056.8L635.4,1064.5L636.6,1069.1L637.7,1074.8L638.9,1067.6L640.0,1068.0L641.2,1069.9L642.3,1072.8L643.5,1068.6L644.7,1068.8L645.8,1055.1L647.0,1052.0L648.1,1059.1L649.3,1051.6L650.4,1066.4L651.6,1071.1L652.7,1070.7L653.9,1073.8L655.0,1070.0L656.1,1068.1L657.2,1077.1L658.3,1078.5L659.4,1078.9L660.6,1074.7L661.7,1077.9L662.8,1073.9L663.9,1079.8L665.0,1075.0L666.1,1079.3L667.2,1074.2L668.3,1070.8L669.4,1073.6L670.6,1074.1L671.7,1076.0L672.8,1072.0L673.9,1065.7L675.0,1070.0L676.1,1075.9L677.3,1068.3L678.4,1078.1L679.6,1074.4L680.7,1077.8L681.9,1081.9L683.0,1080.0L684.2,1077.2L685.3,1072.9L686.5,1071.8L687.7,1070.8L688.8,1070.4L690.0,1060.0L691.2,1065.9L692.5,1070.3L693.8,1058.4L695.0,1055.0L696.2,1070.9L697.5,1062.0L698.8,1073.2L700.0,1078.0L701.3,1077.8L702.6,1071.9L703.9,1073.2L705.2,1069.0L706.5,1063.0" fill="none" stroke="#000" stroke-width="1.25" stroke-linejoin="round"/>
</svg></body></html>
